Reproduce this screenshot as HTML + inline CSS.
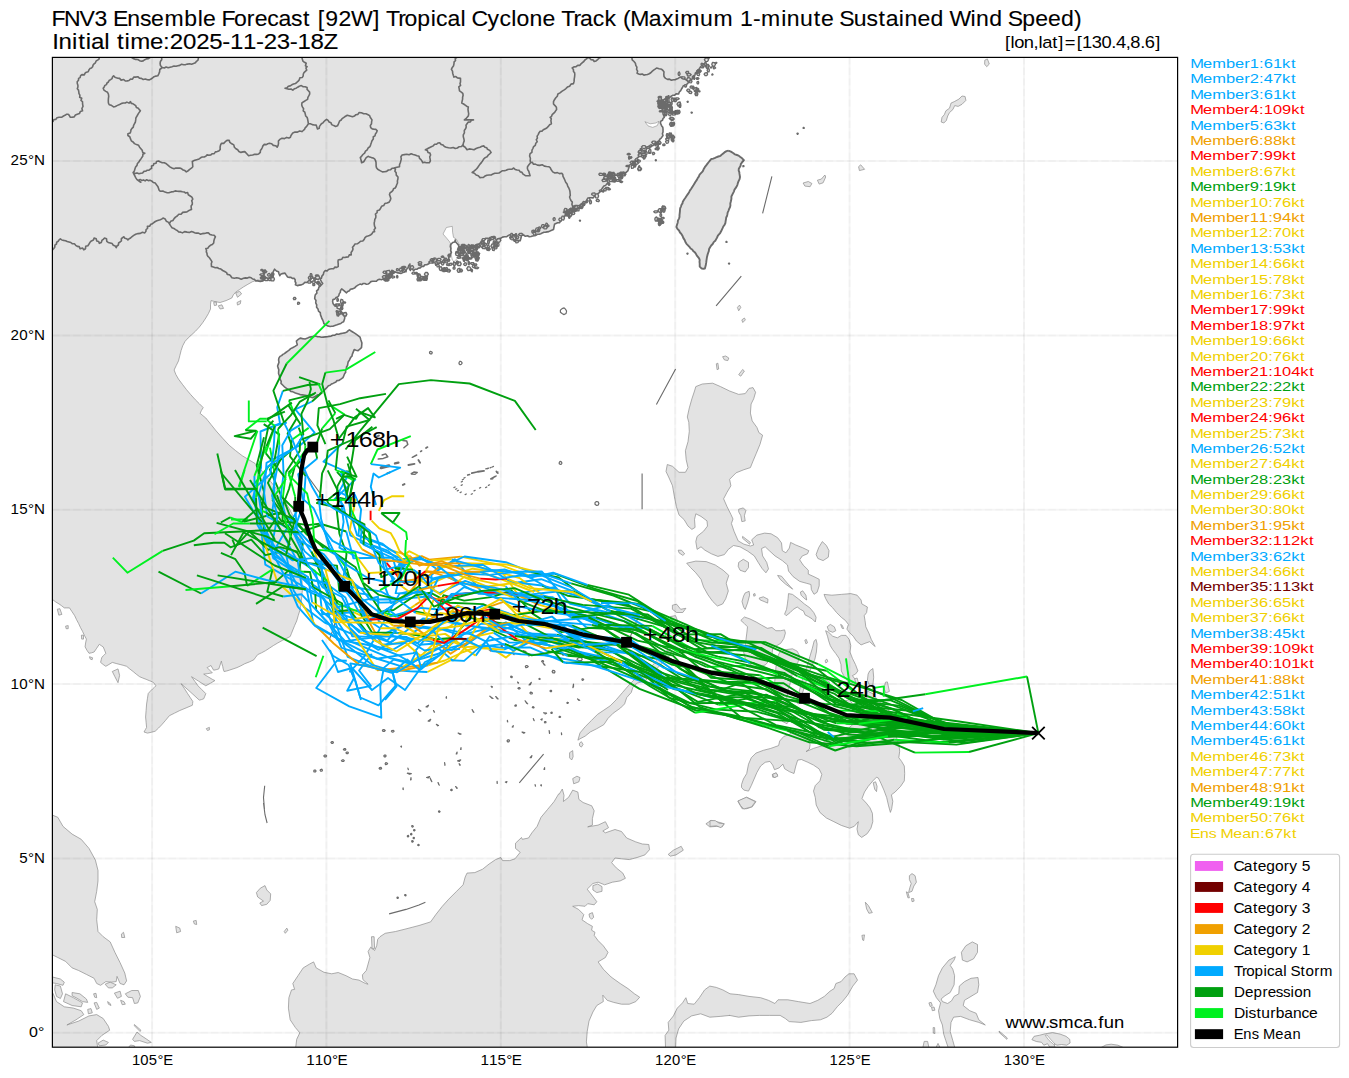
<!DOCTYPE html>
<html><head><meta charset="utf-8"><title>FNV3 Ensemble Forecast</title>
<style>html,body{margin:0;padding:0;background:#fff;}svg{display:block;}text{font-family:"Liberation Sans", sans-serif;}</style></head><body>
<svg width="1349" height="1078" viewBox="0 0 1349 1078">
<rect x="0" y="0" width="1349" height="1078" fill="#fff"/>
<defs><clipPath id="ax"><rect x="53" y="58" width="1124" height="989"/></clipPath></defs>
<g clip-path="url(#ax)">
<path d="M52.0 57.0 L52.0 598.0 L50.0 598.0 L52.6 599.6 L55.7 601.9 L59.1 604.0 L61.7 605.8 L64.3 607.9 L66.9 607.9 L69.5 607.9 L72.1 611.8 L74.7 615.7 L76.5 619.6 L78.6 623.5 L80.4 627.4 L82.5 631.3 L84.3 635.2 L86.4 639.1 L85.6 643.0 L85.1 646.9 L86.9 650.2 L89.0 653.3 L91.5 652.8 L94.1 652.0 L96.7 648.2 L99.3 644.3 L101.2 645.6 L103.2 646.9 L104.5 650.0 L105.8 653.3 L103.8 655.4 L101.9 657.2 L101.2 659.8 L100.6 662.4 L103.2 664.5 L105.8 666.3 L108.9 664.5 L112.3 662.4 L116.2 663.5 L120.1 664.5 L123.2 665.3 L126.6 666.3 L129.7 668.9 L133.1 671.5 L136.2 674.1 L139.6 676.7 L142.7 678.0 L146.1 679.3 L149.2 680.6 L152.6 681.9 L154.4 683.7 L155.9 685.8 L154.4 687.4 L152.6 688.9 L150.2 691.3 L148.2 693.6 L147.4 698.8 L146.6 704.0 L146.1 710.5 L145.6 717.0 L146.1 722.2 L146.6 727.4 L145.3 729.7 L144.0 732.0 L147.4 733.1 L151.3 732.3 L155.2 731.2 L158.5 728.1 L161.7 724.8 L165.6 720.3 L169.4 715.7 L174.6 713.1 L179.8 710.5 L186.1 707.9 L192.3 705.3 L192.6 703.5 L192.8 701.4 L190.2 697.5 L187.6 693.6 L184.5 688.7 L181.1 683.7 L190.2 691.8 L199.3 700.1 L201.4 699.6 L203.7 698.8 L204.8 696.2 L205.8 693.6 L201.9 689.7 L198.0 685.8 L194.9 681.4 L191.5 676.7 L198.5 681.1 L205.8 685.8 L210.5 683.2 L214.9 680.6 L212.3 679.3 L207.9 676.7 L203.7 674.1 L207.9 673.6 L212.3 672.8 L209.7 670.2 L207.1 667.6 L208.9 666.6 L211.0 665.5 L212.3 667.9 L213.6 670.2 L216.2 669.7 L218.8 668.9 L220.1 665.0 L221.4 661.1 L221.9 663.7 L222.7 666.3 L223.2 668.9 L224.0 671.5 L226.6 671.0 L229.2 670.2 L233.1 668.9 L237.0 667.6 L240.9 665.8 L244.8 663.7 L249.4 661.9 L253.8 659.8 L255.7 657.2 L257.7 654.6 L261.6 652.8 L265.5 650.7 L269.4 648.2 L273.3 645.6 L277.7 643.0 L282.4 640.4 L286.3 638.5 L290.2 636.5 L291.5 633.3 L292.8 630.0 L294.6 625.6 L296.7 620.9 L298.2 615.7 L299.8 610.5 L300.6 605.3 L301.4 600.1 L301.9 594.9 L302.4 589.7 L302.1 583.2 L301.9 576.7 L300.8 569.0 L299.8 561.2 L300.3 556.0 L301.4 550.8 L301.1 545.6 L300.6 540.4 L299.8 535.2 L298.0 533.6 L296.7 527.1 L294.9 521.4 L292.8 515.4 L288.9 508.1 L285.0 501.1 L280.6 494.6 L275.9 488.1 L270.7 481.6 L265.5 475.1 L260.3 469.2 L255.1 463.5 L248.6 459.6 L242.2 455.7 L235.7 450.7 L229.2 445.3 L222.7 438.3 L216.2 431.0 L211.0 424.5 L205.8 418.0 L202.9 415.7 L200.1 413.3 L201.4 410.5 L203.2 407.6 L199.3 403.7 L195.4 399.8 L190.7 394.6 L186.3 389.4 L182.4 384.3 L178.5 379.1 L175.9 374.6 L174.1 370.0 L176.2 365.6 L178.5 360.9 L179.8 355.7 L181.1 350.5 L182.7 345.8 L185.0 341.4 L188.1 338.0 L191.5 334.9 L195.4 331.3 L199.3 327.1 L202.7 322.7 L205.8 318.0 L208.4 313.6 L210.5 309.0 L210.5 304.8 L211.0 300.6 L215.4 301.7 L220.1 302.5 L226.1 300.6 L231.8 298.0 L233.3 294.9 L235.7 292.1 L239.6 289.5 L243.5 286.9 L247.9 284.3 L252.5 281.7 L257.7 279.9 L262.9 280.9 L262.9 280.9 L266.8 278.8 L270.7 277.0 L272.8 272.6 L274.6 269.2 L276.4 271.0 L278.5 271.8 L279.8 275.7 L282.4 273.6 L285.0 273.1 L287.6 277.0 L291.0 277.3 L294.1 278.3 L295.4 284.8 L299.3 285.1 L303.2 284.0 L307.1 282.5 L309.7 280.9 L311.0 275.7 L312.8 277.8 L314.9 279.6 L317.5 278.3 L320.1 278.3 L322.7 283.5 L320.6 285.6 L318.8 287.4 L316.6 290.8 L315.3 294.7 L314.7 298.6 L315.7 302.8 L316.6 307.2 L318.5 311.1 L320.5 314.9 L321.8 318.4 L323.4 321.7 L325.3 324.6 L327.6 325.9 L330.1 326.5 L334.9 325.5 L339.2 324.0 L343.6 321.7 L344.6 318.8 L344.9 315.9 L343.0 313.4 L340.7 311.1 L337.2 308.2 L334.9 305.9 L333.0 303.4 L332.6 301.4 L333.0 299.5 L335.9 297.6 L338.8 295.7 L340.3 292.4 L341.7 288.9 L344.2 290.8 L346.5 292.8 L349.4 290.8 L352.3 288.9 L356.1 286.4 L360.0 284.1 L364.8 283.5 L369.6 283.1 L374.4 281.2 L379.3 279.3 L383.9 278.3 L387.8 275.7 L390.9 273.6 L394.3 271.8 L396.9 272.6 L399.5 273.1 L402.9 272.6 L406.0 271.8 L408.0 267.9 L409.9 264.0 L411.7 267.4 L413.8 270.5 L417.1 269.2 L420.2 267.9 L423.6 266.4 L426.7 264.8 L430.1 261.7 L433.2 258.8 L434.5 262.2 L435.8 265.3 L439.2 263.3 L442.3 261.4 L445.7 260.1 L448.8 258.8 L450.1 255.5 L451.4 252.4 L450.9 248.5 L450.6 244.6 L452.7 242.5 L455.3 239.9 L457.1 243.5 L459.2 247.2 L462.6 247.7 L465.7 247.2 L469.6 246.6 L473.5 245.9 L476.9 244.6 L480.0 243.3 L482.1 241.4 L483.9 239.9 L487.8 238.3 L491.7 236.8 L494.3 238.3 L496.9 239.9 L500.7 238.3 L504.6 236.8 L508.0 235.7 L511.1 234.7 L512.4 237.3 L513.7 239.9 L517.1 240.4 L520.2 240.7 L521.0 238.1 L521.5 235.5 L525.4 236.3 L529.3 236.8 L532.7 236.0 L535.8 235.5 L539.2 234.2 L542.3 232.9 L545.7 232.1 L548.8 231.6 L551.1 230.5 L553.5 229.5 L554.0 226.9 L554.5 224.3 L557.6 222.7 L560.5 221.2 L563.1 218.1 L565.7 214.7 L567.5 212.1 L569.0 209.5 L571.4 208.7 L573.5 208.2 L575.5 206.9 L577.4 205.6 L580.7 204.6 L583.8 203.5 L585.9 201.2 L587.7 199.1 L591.1 197.8 L594.2 196.5 L596.8 194.4 L599.4 192.6 L601.2 190.0 L602.8 187.4 L605.7 185.4 L608.5 183.5 L607.2 181.2 L605.9 179.1 L609.8 177.3 L613.7 175.7 L617.6 175.7 L621.5 175.7 L624.9 173.2 L628.0 170.6 L628.8 168.0 L629.3 165.4 L632.7 163.3 L635.8 161.5 L637.1 158.1 L638.4 155.0 L641.8 153.7 L644.9 152.4 L646.2 149.8 L647.5 147.2 L650.8 145.9 L654.0 144.6 L656.6 142.5 L659.1 140.7 L661.2 138.1 L663.0 135.5 L663.0 132.1 L663.0 129.0 L661.7 125.9 L660.4 123.0 L662.5 120.2 L664.3 117.3 L663.0 113.9 L661.7 110.8 L663.8 108.2 L665.6 105.6 L664.3 103.0 L663.0 100.4 L666.9 98.4 L670.8 96.5 L674.7 95.2 L678.6 94.0 L680.7 90.6 L682.5 87.5 L685.1 85.4 L687.7 83.6 L690.3 81.0 L692.9 78.4 L695.0 75.0 L696.8 71.9 L698.9 69.3 L700.7 66.7 L703.3 64.1 L705.9 61.5 L708.0 59.4 L709.8 57.1 L709.8 57.0Z" fill="#e3e3e3" stroke="none"/>
<path d="M278.6 360.2 L280.0 356.4 L282.9 354.4 L285.8 352.5 L289.1 350.2 L292.5 347.7 L295.0 346.4 L297.3 344.8 L296.8 342.9 L296.4 341.0 L298.3 339.4 L300.2 338.1 L302.5 338.6 L305.1 339.0 L307.6 338.1 L309.9 337.1 L312.8 336.5 L315.7 336.1 L319.5 336.7 L323.4 337.1 L327.2 336.7 L331.1 336.1 L334.9 335.2 L338.8 334.2 L342.6 333.2 L346.5 332.3 L348.0 330.9 L349.4 329.8 L350.7 330.7 L352.3 331.7 L354.2 332.9 L356.1 334.2 L358.1 335.6 L360.0 337.1 L360.9 340.0 L361.9 342.9 L361.7 345.4 L361.5 347.7 L359.8 349.2 L358.1 350.6 L356.1 350.2 L354.2 349.6 L353.2 352.1 L352.3 354.4 L350.7 357.3 L349.4 360.2 L347.8 363.7 L346.5 367.0 L345.5 370.4 L344.6 373.7 L343.8 375.7 L343.0 377.6 L340.9 379.1 L338.8 380.5 L335.9 382.0 L333.0 383.4 L330.1 385.3 L327.2 387.2 L325.3 389.1 L323.4 391.1 L320.5 393.0 L317.6 394.9 L315.1 396.5 L312.8 397.8 L310.3 396.9 L307.9 395.9 L305.1 395.3 L302.2 394.9 L298.7 394.0 L295.4 393.0 L292.5 391.6 L289.6 390.1 L287.1 388.8 L284.8 387.2 L282.9 385.3 L281.0 383.4 L280.2 379.5 L279.4 375.7 L278.6 371.8 L278.1 367.9 L278.3 364.1Z" fill="#e3e3e3" stroke="none"/>
<path d="M728.3 150.6 L730.9 151.6 L733.5 153.2 L736.9 155.0 L740.0 156.8 L742.1 158.3 L743.9 160.2 L742.3 162.0 L740.8 164.1 L739.7 167.2 L738.7 170.6 L739.5 173.9 L740.0 177.0 L738.7 180.9 L737.4 184.8 L735.6 188.2 L734.0 191.3 L732.7 193.9 L731.4 196.5 L730.9 201.2 L730.4 205.6 L728.5 210.8 L727.0 216.0 L725.7 220.7 L724.4 225.1 L721.8 229.8 L719.2 234.2 L717.1 237.5 L715.3 240.7 L712.7 244.0 L710.1 247.2 L708.8 251.1 L707.5 254.9 L706.7 258.8 L706.2 262.7 L705.7 265.6 L704.9 268.5 L703.4 268.7 L701.8 268.5 L700.8 267.7 L699.7 266.6 L699.7 263.5 L699.7 260.1 L697.9 256.8 L695.8 253.6 L693.2 251.1 L690.6 248.5 L688.0 245.3 L685.4 242.0 L683.4 238.1 L681.5 234.2 L679.0 230.5 L676.4 226.9 L677.7 222.7 L679.0 218.6 L679.7 213.4 L680.2 208.2 L681.5 204.8 L682.8 201.7 L685.4 197.8 L688.0 193.9 L691.2 188.7 L694.5 183.5 L697.6 178.3 L701.0 173.2 L703.6 169.3 L706.2 165.4 L708.8 162.0 L711.4 158.9 L716.1 157.3 L720.5 155.8 L722.6 153.9 L724.4 152.4 L726.5 151.1Z" fill="#e3e3e3" stroke="none"/>
<path d="M695.8 386.6 L702.3 384.0 L712.7 383.2 L720.5 386.6 L729.6 391.0 L738.7 394.4 L745.2 393.6 L749.1 388.4 L753.0 387.6 L755.6 392.3 L753.7 398.8 L751.1 404.0 L750.4 413.1 L752.2 420.9 L756.9 427.4 L758.9 432.6 L762.6 435.2 L760.0 444.3 L756.3 453.3 L753.0 461.1 L750.4 467.6 L743.9 469.7 L736.1 472.8 L729.6 479.3 L730.9 485.8 L727.0 492.3 L723.6 498.8 L727.0 506.6 L730.9 514.4 L733.0 519.0 L731.4 523.5 L734.0 531.2 L738.2 540.9 L743.9 544.2 L750.4 546.0 L753.7 545.0 L751.7 539.8 L756.9 535.1 L764.6 533.1 L771.1 533.8 L777.6 537.7 L781.5 542.9 L782.3 550.7 L785.9 552.8 L789.3 548.1 L790.6 542.4 L795.8 545.0 L802.3 547.6 L808.8 550.7 L807.5 553.8 L802.3 555.9 L799.7 559.8 L803.1 565.0 L808.3 570.2 L808.3 574.1 L814.0 576.7 L819.2 579.3 L819.2 585.8 L817.1 592.3 L814.0 594.3 L811.4 589.7 L810.9 584.5 L806.2 583.2 L799.7 581.4 L793.2 576.7 L788.5 571.0 L787.5 565.0 L782.3 560.6 L775.0 555.9 L769.3 550.7 L765.2 546.8 L761.5 548.6 L762.6 555.9 L766.7 562.4 L768.5 568.9 L765.9 572.8 L762.0 568.4 L758.2 562.4 L754.3 555.9 L747.8 551.2 L740.0 546.8 L733.5 545.5 L728.3 549.4 L724.4 554.6 L717.9 556.4 L711.4 553.8 L704.9 550.2 L701.0 546.8 L697.1 549.4 L695.8 541.6 L697.1 536.4 L703.6 531.2 L707.5 526.1 L707.0 520.9 L701.0 516.4 L695.8 513.8 L694.5 519.6 L695.1 527.4 L691.9 529.4 L688.0 526.1 L684.1 519.6 L679.0 514.9 L676.4 506.6 L674.3 496.2 L672.5 485.8 L669.1 478.0 L666.0 471.5 L667.3 464.5 L672.5 466.3 L679.0 472.3 L685.4 472.3 L688.0 467.6 L686.2 459.8 L685.4 450.7 L688.0 441.7 L689.3 431.3 L688.8 422.2 L687.3 417.0 L689.3 407.9 L691.9 398.8 L694.5 391.0Z" fill="#e3e3e3" stroke="#8c8c8c" stroke-width="0.7" stroke-linejoin="round"/>
<path d="M722.6 356.7 L725.7 356.0 L728.8 358.0 L727.8 360.6 L724.4 359.9Z" fill="#e3e3e3" stroke="#8c8c8c" stroke-width="0.7" stroke-linejoin="round"/>
<path d="M716.3 363.8 L717.9 363.2 L718.7 369.0 L717.1 369.7Z" fill="#e3e3e3" stroke="#8c8c8c" stroke-width="0.7" stroke-linejoin="round"/>
<path d="M738.7 374.7 L742.6 369.5 L744.4 371.0 L740.8 376.2Z" fill="#e3e3e3" stroke="#8c8c8c" stroke-width="0.7" stroke-linejoin="round"/>
<path d="M738.7 509.2 L743.3 507.9 L745.9 510.5 L744.4 515.7 L745.2 520.9 L741.8 521.6 L740.8 515.7 L738.7 511.8Z" fill="#e3e3e3" stroke="#8c8c8c" stroke-width="0.7" stroke-linejoin="round"/>
<path d="M742.6 536.4 L750.4 542.4 L749.6 544.2 L742.6 538.3Z" fill="#e3e3e3" stroke="#8c8c8c" stroke-width="0.7" stroke-linejoin="round"/>
<path d="M818.7 547.6 L822.3 541.6 L826.4 545.5 L829.0 550.7 L828.3 557.2 L823.1 560.6 L817.9 558.5 L816.1 554.6Z" fill="#e3e3e3" stroke="#8c8c8c" stroke-width="0.7" stroke-linejoin="round"/>
<path d="M686.7 563.2 L695.8 561.1 L706.2 561.6 L715.3 565.0 L723.1 570.2 L728.8 575.4 L726.2 583.2 L728.3 591.0 L725.7 598.8 L722.6 604.0 L717.4 606.0 L712.7 601.4 L708.0 594.9 L703.6 587.1 L701.0 579.3 L695.8 572.8 L690.6 567.6Z" fill="#e3e3e3" stroke="#8c8c8c" stroke-width="0.7" stroke-linejoin="round"/>
<path d="M678.2 550.2 L681.5 550.2 L684.7 553.8 L682.8 555.4 L679.0 552.8Z" fill="#e3e3e3" stroke="#8c8c8c" stroke-width="0.7" stroke-linejoin="round"/>
<path d="M738.7 562.4 L743.3 559.3 L748.5 562.4 L748.5 567.6 L745.2 572.0 L740.0 570.2 L738.2 566.3Z" fill="#e3e3e3" stroke="#8c8c8c" stroke-width="0.7" stroke-linejoin="round"/>
<path d="M777.6 575.4 L781.5 576.2 L788.0 584.0 L792.7 589.2 L785.4 584.0 L780.2 579.3Z" fill="#e3e3e3" stroke="#8c8c8c" stroke-width="0.7" stroke-linejoin="round"/>
<path d="M745.2 592.9 L749.1 591.3 L749.6 595.2 L747.5 603.1 L745.2 609.4 L743.6 607.0 L742.0 601.5 L743.6 596.0Z" fill="#e3e3e3" stroke="#8c8c8c" stroke-width="0.7" stroke-linejoin="round"/>
<path d="M753.5 594.0 L755.0 593.6 L755.3 595.7 L753.8 596.2Z" fill="#e3e3e3" stroke="#8c8c8c" stroke-width="0.7" stroke-linejoin="round"/>
<path d="M759.1 598.1 L763.3 596.8 L768.0 599.2 L767.6 603.1 L764.1 601.5 L760.2 600.0Z" fill="#e3e3e3" stroke="#8c8c8c" stroke-width="0.7" stroke-linejoin="round"/>
<path d="M788.5 593.6 L792.5 594.4 L798.8 599.2 L804.3 603.9 L809.8 607.8 L813.8 612.6 L816.1 617.3 L815.3 622.0 L812.2 618.9 L808.2 616.5 L805.1 614.9 L803.5 611.0 L800.4 609.4 L797.2 607.0 L793.3 609.4 L790.1 612.6 L786.2 615.7 L784.6 614.1 L786.5 609.4 L787.4 603.9 L788.1 598.4Z" fill="#e3e3e3" stroke="#8c8c8c" stroke-width="0.7" stroke-linejoin="round"/>
<path d="M800.4 592.1 L802.7 590.8 L805.9 595.2 L806.7 600.0 L804.3 598.4 L801.1 595.2Z" fill="#e3e3e3" stroke="#8c8c8c" stroke-width="0.7" stroke-linejoin="round"/>
<path d="M824.0 594.4 L831.9 595.2 L841.3 594.4 L850.8 593.6 L857.1 595.2 L861.1 600.0 L861.8 603.9 L867.4 607.0 L866.6 612.6 L864.2 615.7 L865.0 620.4 L865.8 626.8 L868.9 633.1 L871.3 639.4 L875.2 646.5 L873.7 645.4 L869.7 641.7 L865.0 643.3 L861.1 644.9 L856.3 640.9 L853.2 636.2 L849.2 632.3 L846.9 629.1 L848.4 624.4 L845.3 620.4 L841.3 617.3 L836.6 612.6 L832.7 607.8 L828.7 603.9 L825.6 598.4Z" fill="#e3e3e3" stroke="#8c8c8c" stroke-width="0.7" stroke-linejoin="round"/>
<path d="M827.2 626.8 L830.3 624.4 L834.3 626.8 L835.8 630.7 L832.7 632.3 L828.7 630.7Z" fill="#e3e3e3" stroke="#8c8c8c" stroke-width="0.7" stroke-linejoin="round"/>
<path d="M840.6 624.4 L842.1 625.2 L843.7 628.6 L842.1 628.3Z" fill="#e3e3e3" stroke="#8c8c8c" stroke-width="0.7" stroke-linejoin="round"/>
<path d="M825.6 630.7 L828.7 632.3 L832.7 636.2 L837.4 637.8 L841.3 635.4 L846.1 635.4 L849.2 639.4 L850.8 645.7 L850.0 652.0 L852.4 658.3 L855.5 664.6 L857.9 670.9 L855.5 674.1 L852.4 675.6 L854.7 678.8 L857.1 680.4 L854.0 682.7 L849.2 683.5 L846.1 678.8 L843.7 675.6 L841.3 670.9 L841.0 664.6 L839.0 658.3 L835.8 653.6 L832.7 649.6 L830.3 645.7 L828.7 640.9 L827.5 636.2Z" fill="#e3e3e3" stroke="#8c8c8c" stroke-width="0.7" stroke-linejoin="round"/>
<path d="M740.8 620.4 L744.4 617.0 L749.9 618.9 L756.2 622.0 L761.7 625.2 L767.3 628.3 L772.0 627.5 L775.9 630.7 L780.7 630.7 L784.6 629.9 L785.4 633.1 L783.8 638.6 L780.7 643.3 L776.7 645.7 L772.8 648.0 L772.0 653.6 L769.6 659.9 L765.7 664.6 L759.4 667.7 L753.1 666.2 L748.3 663.0 L745.2 658.3 L743.6 652.0 L745.2 645.7 L746.0 639.4 L746.8 633.1 L747.5 626.8 L744.4 623.6Z" fill="#e3e3e3" stroke="#8c8c8c" stroke-width="0.7" stroke-linejoin="round"/>
<path d="M779.9 652.0 L786.2 649.6 L792.5 648.8 L797.2 651.2 L799.6 655.9 L798.0 662.2 L794.8 667.7 L792.5 672.5 L790.9 680.4 L788.5 689.8 L786.5 699.3 L786.2 707.2 L788.5 713.5 L789.6 719.8 L787.0 723.7 L782.2 721.3 L778.3 714.3 L776.4 705.6 L775.1 696.1 L774.3 686.7 L775.1 677.2 L775.9 667.7 L776.7 658.3Z" fill="#e3e3e3" stroke="#8c8c8c" stroke-width="0.7" stroke-linejoin="round"/>
<path d="M814.2 640.9 L816.1 639.4 L817.1 644.1 L816.4 652.0 L814.9 659.1 L811.7 666.2 L808.6 674.1 L805.9 681.9 L803.5 689.8 L801.1 697.7 L798.8 704.0 L797.2 703.2 L798.0 696.1 L800.0 688.2 L802.2 680.4 L804.8 672.5 L807.5 664.6 L809.8 656.7 L812.2 648.8Z" fill="#e3e3e3" stroke="#8c8c8c" stroke-width="0.7" stroke-linejoin="round"/>
<path d="M804.8 640.2 L806.3 639.4 L807.5 642.8 L805.9 643.8Z" fill="#e3e3e3" stroke="#8c8c8c" stroke-width="0.7" stroke-linejoin="round"/>
<path d="M825.0 660.7 L826.8 659.1 L827.9 661.4 L825.9 663.0Z" fill="#e3e3e3" stroke="#8c8c8c" stroke-width="0.7" stroke-linejoin="round"/>
<path d="M809.8 680.4 L816.1 678.0 L824.0 678.8 L829.5 681.9 L828.7 687.5 L823.2 690.6 L816.1 690.6 L810.6 687.5Z" fill="#e3e3e3" stroke="#8c8c8c" stroke-width="0.7" stroke-linejoin="round"/>
<path d="M869.7 670.9 L872.9 668.5 L873.7 677.2 L872.9 685.1 L869.7 685.9 L867.4 680.4 L868.1 674.1Z" fill="#e3e3e3" stroke="#8c8c8c" stroke-width="0.7" stroke-linejoin="round"/>
<path d="M885.5 682.2 L887.4 681.9 L889.4 691.4 L885.8 693.0 L883.9 688.2Z" fill="#e3e3e3" stroke="#8c8c8c" stroke-width="0.7" stroke-linejoin="round"/>
<path d="M854.7 678.8 L857.1 678.0 L858.4 682.7 L855.9 683.5Z" fill="#e3e3e3" stroke="#8c8c8c" stroke-width="0.7" stroke-linejoin="round"/>
<path d="M741.5 784.6 L743.4 779.0 L746.7 773.5 L748.5 764.2 L751.3 757.7 L756.0 753.1 L763.4 750.3 L770.8 748.4 L778.6 745.6 L779.7 741.0 L783.8 736.4 L789.3 734.5 L794.0 729.9 L799.5 730.8 L805.1 733.6 L808.8 738.6 L810.1 744.7 L809.4 749.0 L806.0 751.6 L813.5 748.4 L822.7 745.6 L824.6 740.1 L827.4 735.4 L838.5 735.4 L846.8 729.9 L854.1 723.4 L859.8 725.2 L868.0 717.8 L866.3 704.8 L867.1 690.9 L872.8 693.7 L878.4 701.1 L888.0 708.2 L893.2 723.4 L896.0 736.4 L898.8 743.8 L899.7 751.2 L898.8 757.7 L901.6 761.4 L904.3 766.0 L904.7 773.5 L904.3 780.9 L900.6 786.4 L895.1 792.0 L891.4 794.8 L892.8 801.3 L891.7 808.7 L890.4 812.4 L888.6 805.9 L886.7 797.6 L883.9 790.1 L881.1 783.7 L878.4 778.1 L876.5 777.2 L872.8 780.9 L868.2 786.4 L864.5 792.0 L862.0 798.5 L866.3 803.1 L870.0 807.8 L872.4 813.3 L872.8 821.7 L870.9 828.2 L867.2 833.7 L861.7 837.4 L858.3 834.7 L857.0 829.1 L858.3 821.7 L854.3 826.3 L849.6 828.2 L841.3 825.4 L833.9 821.7 L826.4 818.0 L819.9 812.4 L816.2 805.0 L815.3 797.6 L813.5 791.1 L815.3 785.5 L819.9 780.9 L821.8 774.4 L819.0 768.8 L813.5 765.1 L807.9 762.3 L801.4 759.5 L797.7 760.1 L795.8 766.0 L794.0 773.5 L789.3 771.6 L784.7 768.8 L782.9 764.2 L779.1 767.9 L774.5 769.7 L772.7 765.1 L769.9 761.4 L765.2 762.3 L760.6 766.0 L756.9 772.5 L754.1 779.0 L751.3 785.5 L748.5 791.1 L743.9 790.1 L741.5 787.4Z" fill="#e3e3e3" stroke="#8c8c8c" stroke-width="0.7" stroke-linejoin="round"/>
<path d="M772.3 774.4 L775.4 773.1 L777.8 774.9 L775.4 777.2 L772.7 777.2Z" fill="#e3e3e3" stroke="#8c8c8c" stroke-width="0.7" stroke-linejoin="round"/>
<path d="M873.2 782.7 L875.6 781.8 L877.1 786.4 L876.5 791.6 L874.7 789.2Z" fill="#e3e3e3" stroke="#8c8c8c" stroke-width="0.7" stroke-linejoin="round"/>
<path d="M737.8 801.3 L746.7 797.2 L756.0 801.6 L752.3 806.8 L746.7 808.7 L742.1 808.7Z" fill="#e3e3e3" stroke="#8c8c8c" stroke-width="0.7" stroke-linejoin="round"/>
<path d="M845.0 701.1 L849.6 699.3 L852.4 703.9 L848.7 707.6 L845.0 705.8Z" fill="#e3e3e3" stroke="#8c8c8c" stroke-width="0.7" stroke-linejoin="round"/>
<path d="M577.9 740.2 L580.0 732.9 L585.2 726.7 L591.4 720.5 L597.6 714.3 L603.9 710.1 L610.1 705.9 L616.3 699.7 L622.6 692.4 L628.8 685.2 L635.0 678.9 L643.3 672.7 L651.6 666.5 L657.9 659.2 L664.1 653.0 L669.3 648.8 L672.4 650.9 L668.3 657.1 L662.0 663.4 L654.8 670.6 L649.6 675.8 L645.4 681.0 L637.1 683.1 L632.9 687.2 L631.3 692.4 L626.7 697.6 L624.6 703.9 L620.5 708.0 L613.2 713.2 L608.0 718.4 L603.9 724.6 L596.6 728.8 L590.4 731.9 L585.2 736.1 L580.0 738.8Z" fill="#e3e3e3" stroke="#8c8c8c" stroke-width="0.7" stroke-linejoin="round"/>
<path d="M579.4 743.3 L581.4 741.7 L583.1 744.4 L581.4 747.1 L579.6 745.8Z" fill="#e3e3e3" stroke="#8c8c8c" stroke-width="0.7" stroke-linejoin="round"/>
<path d="M569.6 752.7 L572.7 750.6 L573.1 756.8 L571.7 760.0 L569.6 757.9Z" fill="#e3e3e3" stroke="#8c8c8c" stroke-width="0.7" stroke-linejoin="round"/>
<path d="M572.7 778.6 L576.9 776.2 L580.0 777.6 L578.9 781.8 L573.7 783.8Z" fill="#e3e3e3" stroke="#8c8c8c" stroke-width="0.7" stroke-linejoin="round"/>
<path d="M672.4 605.2 L676.6 604.2 L680.7 609.3 L685.9 608.3 L682.8 612.5 L676.6 612.5 L672.4 609.3Z" fill="#e3e3e3" stroke="#8c8c8c" stroke-width="0.7" stroke-linejoin="round"/>
<path d="M670.3 616.6 L675.5 615.6 L677.6 620.8 L674.5 623.9 L672.0 620.8Z" fill="#e3e3e3" stroke="#8c8c8c" stroke-width="0.7" stroke-linejoin="round"/>
<path d="M664.1 631.2 L672.4 629.1 L678.6 634.3 L673.5 639.5 L666.2 637.4Z" fill="#e3e3e3" stroke="#8c8c8c" stroke-width="0.7" stroke-linejoin="round"/>
<path d="M772.5 774.5 L776.3 772.8 L777.9 776.2 L774.2 777.6Z" fill="#e3e3e3" stroke="#8c8c8c" stroke-width="0.7" stroke-linejoin="round"/>
<path d="M668.2 854.4 L673.4 850.2 L681.2 846.3 L683.3 850.2 L676.0 854.9 L670.3 856.2Z" fill="#e3e3e3" stroke="#8c8c8c" stroke-width="0.7" stroke-linejoin="round"/>
<path d="M705.9 823.8 L711.1 820.4 L716.3 821.7 L720.2 822.5 L724.1 823.8 L722.2 826.9 L716.3 826.4 L709.8 826.9Z" fill="#e3e3e3" stroke="#8c8c8c" stroke-width="0.7" stroke-linejoin="round"/>
<path d="M738.0 800.9 L746.4 797.3 L755.4 801.7 L751.5 806.9 L743.8 809.0 L740.6 805.6Z" fill="#e3e3e3" stroke="#8c8c8c" stroke-width="0.7" stroke-linejoin="round"/>
<path d="M710.0 820.6 L715.2 820.6 L719.1 823.2 L724.3 823.8 L720.9 827.7 L716.5 825.8 L710.0 826.4Z" fill="#e3e3e3" stroke="#8c8c8c" stroke-width="0.7" stroke-linejoin="round"/>
<path d="M909.4 875.7 L912.0 873.6 L915.1 875.7 L916.4 882.2 L913.8 886.1 L912.0 891.3 L908.6 892.6 L909.9 887.4 L911.2 883.5 L909.4 879.6Z" fill="#e3e3e3" stroke="#8c8c8c" stroke-width="0.7" stroke-linejoin="round"/>
<path d="M911.5 898.5 L913.6 898.5 L914.1 901.1 L912.0 901.7Z" fill="#e3e3e3" stroke="#8c8c8c" stroke-width="0.7" stroke-linejoin="round"/>
<path d="M906.3 891.8 L907.9 892.6 L909.4 897.8 L907.9 897.8Z" fill="#e3e3e3" stroke="#8c8c8c" stroke-width="0.7" stroke-linejoin="round"/>
<path d="M865.3 902.2 L868.4 905.6 L872.3 912.6 L868.9 913.3 L866.6 908.9Z" fill="#e3e3e3" stroke="#8c8c8c" stroke-width="0.7" stroke-linejoin="round"/>
<path d="M861.9 935.4 L864.5 934.9 L863.7 940.6 L862.7 940.1Z" fill="#e3e3e3" stroke="#8c8c8c" stroke-width="0.7" stroke-linejoin="round"/>
<path d="M961.4 952.3 L965.8 945.8 L972.3 941.9 L977.5 944.5 L977.5 952.3 L973.6 958.8 L967.1 961.9 L962.4 960.1Z" fill="#e3e3e3" stroke="#8c8c8c" stroke-width="0.7" stroke-linejoin="round"/>
<path d="M955.4 956.7 L948.9 960.1 L942.4 967.9 L938.5 975.7 L935.9 984.8 L933.3 991.2 L936.4 997.7 L940.6 1002.9 L938.5 1010.7 L939.8 1018.5 L942.4 1025.0 L943.7 1034.1 L945.8 1040.6 L948.9 1049.7 L955.4 1049.7 L952.8 1040.6 L950.2 1031.5 L951.0 1022.4 L953.6 1017.2 L960.6 1016.4 L969.7 1019.8 L978.8 1022.4 L985.3 1025.0 L978.8 1019.8 L976.2 1013.3 L969.7 1010.7 L963.2 1005.5 L964.5 1000.3 L971.0 996.4 L977.5 992.5 L978.8 984.8 L978.0 977.5 L971.0 978.3 L964.5 981.6 L959.3 986.1 L958.8 993.8 L954.1 996.4 L951.5 1000.9 L947.6 1003.5 L942.4 1001.6 L941.1 999.0 L945.0 995.7 L950.2 992.5 L954.1 984.8 L954.6 975.7 L952.8 969.2 L950.2 965.3 L954.1 960.1Z" fill="#e3e3e3" stroke="#8c8c8c" stroke-width="0.7" stroke-linejoin="round"/>
<path d="M928.9 1002.9 L931.2 1002.4 L932.3 1005.5 L930.2 1006.6Z" fill="#e3e3e3" stroke="#8c8c8c" stroke-width="0.7" stroke-linejoin="round"/>
<path d="M931.5 1007.1 L934.1 1007.1 L934.9 1010.2 L932.3 1010.7Z" fill="#e3e3e3" stroke="#8c8c8c" stroke-width="0.7" stroke-linejoin="round"/>
<path d="M933.1 1027.6 L934.6 1027.6 L934.9 1033.6 L933.3 1033.1Z" fill="#e3e3e3" stroke="#8c8c8c" stroke-width="0.7" stroke-linejoin="round"/>
<path d="M922.4 1049.7 L924.2 1041.4 L927.6 1041.4 L929.4 1049.7Z" fill="#e3e3e3" stroke="#8c8c8c" stroke-width="0.7" stroke-linejoin="round"/>
<path d="M934.9 1049.7 L938.0 1043.4 L941.1 1049.7Z" fill="#e3e3e3" stroke="#8c8c8c" stroke-width="0.7" stroke-linejoin="round"/>
<path d="M999.0 1031.0 L1007.3 1038.0 L1006.8 1039.3 L999.5 1032.8Z" fill="#e3e3e3" stroke="#8c8c8c" stroke-width="0.7" stroke-linejoin="round"/>
<path d="M1031.9 1039.7 L1034.1 1036.3 L1039.3 1035.3 L1045.2 1033.8 L1052.6 1032.6 L1060.1 1034.1 L1066.0 1036.3 L1069.7 1039.3 L1070.1 1043.0 L1066.7 1045.2 L1061.5 1044.5 L1057.1 1045.2 L1054.1 1043.7 L1054.9 1047.1 L1049.7 1047.1 L1047.5 1043.7 L1043.8 1045.2 L1041.5 1042.3 L1036.3 1041.5Z" fill="#e3e3e3" stroke="#8c8c8c" stroke-width="0.7" stroke-linejoin="round"/>
<path d="M1100.8 1047.7 L1106.0 1044.9 L1111.2 1044.2 L1117.9 1045.2 L1123.8 1047.7Z" fill="#e3e3e3" stroke="#8c8c8c" stroke-width="0.7" stroke-linejoin="round"/>
<path d="M665.6 1049.7 L665.1 1035.4 L668.8 1030.2 L668.2 1022.4 L673.4 1015.9 L677.3 1008.1 L682.5 1002.9 L685.9 997.7 L687.7 1003.5 L694.2 1004.2 L699.4 997.7 L704.6 989.9 L709.8 986.1 L716.3 987.4 L722.8 989.9 L730.0 993.8 L738.6 994.6 L749.0 996.4 L760.6 997.7 L768.4 1000.3 L774.9 1003.5 L778.0 999.8 L787.9 999.8 L798.3 1001.6 L810.0 1003.5 L817.8 1000.3 L824.3 996.4 L830.0 991.2 L834.1 988.6 L835.9 983.5 L841.1 981.6 L845.0 977.0 L848.9 973.8 L854.1 973.8 L857.5 980.1 L852.8 986.1 L847.6 995.1 L842.4 1001.6 L837.2 1006.8 L832.0 1013.3 L826.9 1017.2 L820.4 1019.8 L811.3 1020.6 L800.9 1022.4 L789.2 1021.6 L785.3 1018.5 L780.1 1015.4 L769.7 1015.4 L759.3 1015.4 L749.0 1015.9 L738.6 1017.2 L729.5 1015.4 L730.0 1015.4 L720.2 1016.4 L709.8 1017.2 L700.7 1013.8 L691.6 1015.9 L683.8 1021.1 L678.6 1028.9 L676.0 1038.0 L675.5 1049.7Z" fill="#e3e3e3" stroke="#8c8c8c" stroke-width="0.7" stroke-linejoin="round"/>
<path d="M941.2 122.0 L942.0 117.3 L944.3 114.7 L945.9 110.8 L949.5 108.2 L951.1 103.0 L954.2 101.7 L958.9 99.1 L962.0 96.0 L965.1 96.5 L965.9 100.4 L962.0 104.3 L958.1 106.4 L954.7 105.6 L952.9 109.5 L949.5 112.6 L947.7 116.0 L946.4 120.4 L943.8 123.0Z" fill="#e3e3e3" stroke="#8c8c8c" stroke-width="0.7" stroke-linejoin="round"/>
<path d="M984.8 60.2 L987.4 58.9 L989.3 64.1 L986.7 66.7 L984.6 64.1Z" fill="#e3e3e3" stroke="#8c8c8c" stroke-width="0.7" stroke-linejoin="round"/>
<path d="M803.1 183.0 L808.3 181.5 L811.9 183.5 L810.1 186.7 L804.9 186.1Z" fill="#e3e3e3" stroke="#8c8c8c" stroke-width="0.7" stroke-linejoin="round"/>
<path d="M817.4 180.2 L821.3 179.1 L824.9 175.0 L825.7 177.0 L823.1 182.8 L819.2 184.1Z" fill="#e3e3e3" stroke="#8c8c8c" stroke-width="0.7" stroke-linejoin="round"/>
<path d="M858.6 166.7 L860.7 164.8 L864.6 169.3 L859.4 170.6Z" fill="#e3e3e3" stroke="#8c8c8c" stroke-width="0.7" stroke-linejoin="round"/>
<path d="M737.4 307.4 L739.5 305.1 L740.8 307.4 L738.7 310.8Z" fill="#e3e3e3" stroke="#8c8c8c" stroke-width="0.7" stroke-linejoin="round"/>
<path d="M741.8 319.9 L744.4 318.0 L745.4 319.9 L742.8 322.5Z" fill="#e3e3e3" stroke="#8c8c8c" stroke-width="0.7" stroke-linejoin="round"/>
<path d="M295.4 1049.7 L296.7 1039.3 L299.8 1032.8 L295.4 1027.6 L290.2 1019.8 L288.4 1008.1 L288.9 997.7 L291.5 989.9 L294.6 989.4 L292.8 983.5 L298.0 975.7 L303.2 967.9 L309.7 964.0 L313.6 961.9 L316.2 967.9 L324.0 972.3 L331.7 973.8 L338.2 972.5 L346.0 975.7 L352.5 979.0 L359.0 980.1 L365.5 983.5 L368.1 984.2 L362.9 979.6 L362.4 974.9 L366.3 970.5 L368.1 964.0 L369.9 957.5 L368.1 951.5 L370.7 947.1 L374.6 950.5 L376.7 945.8 L377.7 939.3 L380.0 936.7 L385.2 933.3 L395.6 931.5 L406.0 928.9 L419.0 925.5 L430.6 921.9 L435.8 914.6 L442.3 906.3 L448.8 899.1 L456.6 891.3 L463.1 884.8 L465.2 877.0 L467.0 873.1 L474.8 872.6 L482.6 869.2 L489.1 864.0 L495.6 859.6 L500.7 857.5 L502.6 860.6 L509.8 860.6 L515.0 858.8 L520.2 852.3 L515.5 848.4 L515.5 843.2 L521.5 837.5 L522.3 839.3 L528.5 838.0 L531.9 832.8 L537.1 826.4 L541.0 817.3 L547.5 809.5 L554.0 801.7 L558.7 793.9 L559.2 794.2 L562.3 789.0 L564.0 795.3 L563.4 801.5 L568.6 797.3 L572.7 790.1 L577.9 792.1 L578.9 799.4 L583.1 802.5 L591.4 805.7 L591.6 805.6 L594.2 810.8 L592.4 818.6 L592.4 825.1 L587.7 826.9 L598.1 825.1 L605.4 821.7 L608.5 827.7 L602.8 831.0 L605.4 832.8 L615.0 829.5 L621.5 831.5 L626.7 838.0 L635.8 841.9 L642.3 844.0 L648.8 844.5 L649.5 849.7 L644.9 854.9 L637.1 857.5 L629.3 859.6 L621.5 858.8 L615.0 858.0 L611.6 862.7 L616.3 867.9 L622.8 873.1 L625.4 878.3 L620.2 880.9 L612.4 882.2 L604.6 884.8 L598.1 882.2 L592.9 883.5 L587.2 889.2 L590.9 893.9 L596.8 901.7 L594.2 904.8 L587.7 903.7 L585.1 906.3 L578.6 905.6 L572.7 906.3 L578.6 909.4 L583.8 914.6 L582.0 919.8 L587.7 923.7 L592.4 926.3 L591.6 930.2 L595.0 932.3 L594.2 935.4 L598.1 940.6 L603.3 945.8 L608.0 952.3 L605.4 957.5 L598.1 961.9 L603.3 969.2 L611.1 977.0 L620.2 983.5 L628.0 988.6 L634.5 993.8 L639.7 997.2 L635.8 1001.6 L629.3 1004.2 L621.5 1004.2 L613.7 1002.4 L607.2 1000.3 L602.8 995.1 L603.3 1001.6 L596.8 1005.5 L592.9 1012.0 L589.0 1021.1 L587.2 1031.5 L586.4 1041.9 L587.7 1049.7Z" fill="#e3e3e3" stroke="#8c8c8c" stroke-width="0.7" stroke-linejoin="round"/>
<path d="M47.4 813.4 L52.6 815.2 L57.8 817.3 L63.0 826.4 L72.1 834.1 L81.2 839.3 L89.0 848.4 L95.4 860.1 L98.0 870.5 L98.0 880.9 L96.7 891.3 L94.7 901.7 L97.3 909.4 L96.7 919.8 L98.0 931.5 L103.2 936.7 L110.2 941.9 L114.9 952.3 L120.1 962.7 L124.8 973.1 L126.6 980.9 L124.0 984.8 L120.1 983.5 L117.0 976.4 L116.2 981.6 L111.0 982.2 L105.8 981.6 L100.6 985.3 L96.7 983.5 L94.1 978.3 L86.4 974.4 L78.6 970.5 L72.1 967.9 L65.6 961.4 L57.8 957.5 L52.6 954.9 L47.4 953.6Z" fill="#e3e3e3" stroke="#8c8c8c" stroke-width="0.7" stroke-linejoin="round"/>
<path d="M47.4 991.2 L52.6 992.5 L56.5 1001.6 L64.3 1006.8 L73.4 1008.1 L81.2 1010.7 L83.8 1014.6 L76.0 1019.8 L66.9 1025.0 L78.6 1021.1 L89.0 1015.9 L96.7 1014.6 L103.2 1018.5 L108.4 1026.3 L109.7 1030.2 L101.9 1035.4 L96.7 1040.6 L98.0 1049.7 L47.4 1049.7Z" fill="#e3e3e3" stroke="#8c8c8c" stroke-width="0.7" stroke-linejoin="round"/>
<path d="M592.9 885.6 L597.6 884.0 L602.0 886.6 L602.0 891.3 L596.8 892.6 L592.9 890.0Z" fill="#e3e3e3" stroke="#8c8c8c" stroke-width="0.7" stroke-linejoin="round"/>
<path d="M589.0 914.1 L592.4 912.6 L593.7 917.2 L591.6 919.3 L589.6 917.2Z" fill="#e3e3e3" stroke="#8c8c8c" stroke-width="0.7" stroke-linejoin="round"/>
<path d="M371.5 936.7 L374.1 936.7 L374.6 948.4 L372.0 948.9Z" fill="#e3e3e3" stroke="#8c8c8c" stroke-width="0.7" stroke-linejoin="round"/>
<path d="M105.1 984.2 L110.2 982.2 L116.2 984.8 L112.3 987.9 L108.4 987.9Z" fill="#e3e3e3" stroke="#8c8c8c" stroke-width="0.7" stroke-linejoin="round"/>
<path d="M48.7 976.4 L52.6 977.0 L60.4 979.0 L64.3 982.2 L63.0 985.3 L56.5 983.5 L48.7 982.2Z" fill="#e3e3e3" stroke="#8c8c8c" stroke-width="0.7" stroke-linejoin="round"/>
<path d="M55.2 984.8 L60.4 986.1 L62.5 993.8 L60.4 998.5 L56.5 996.4 L54.7 989.9Z" fill="#e3e3e3" stroke="#8c8c8c" stroke-width="0.7" stroke-linejoin="round"/>
<path d="M65.6 993.8 L73.4 997.7 L82.5 1002.9 L81.2 1006.8 L72.1 1005.5 L63.5 1001.6Z" fill="#e3e3e3" stroke="#8c8c8c" stroke-width="0.7" stroke-linejoin="round"/>
<path d="M72.1 992.5 L79.9 993.8 L86.4 999.0 L87.7 1002.4 L82.5 1001.6 L76.0 997.7 L72.1 995.7Z" fill="#e3e3e3" stroke="#8c8c8c" stroke-width="0.7" stroke-linejoin="round"/>
<path d="M93.6 993.8 L96.0 993.3 L96.7 997.7 L94.7 997.2Z" fill="#e3e3e3" stroke="#8c8c8c" stroke-width="0.7" stroke-linejoin="round"/>
<path d="M94.1 1002.9 L96.7 1002.4 L99.3 1008.1 L96.7 1009.4Z" fill="#e3e3e3" stroke="#8c8c8c" stroke-width="0.7" stroke-linejoin="round"/>
<path d="M87.7 1009.4 L91.0 1008.6 L92.3 1012.8 L88.4 1013.8Z" fill="#e3e3e3" stroke="#8c8c8c" stroke-width="0.7" stroke-linejoin="round"/>
<path d="M107.6 1001.6 L110.2 1003.5 L111.0 1005.5 L108.4 1004.2Z" fill="#e3e3e3" stroke="#8c8c8c" stroke-width="0.7" stroke-linejoin="round"/>
<path d="M114.4 993.1 L120.1 991.2 L121.4 996.4 L117.5 998.3Z" fill="#e3e3e3" stroke="#8c8c8c" stroke-width="0.7" stroke-linejoin="round"/>
<path d="M120.6 1000.3 L124.0 1001.6 L125.3 1004.2 L122.2 1004.7Z" fill="#e3e3e3" stroke="#8c8c8c" stroke-width="0.7" stroke-linejoin="round"/>
<path d="M125.3 993.8 L131.8 990.5 L138.3 990.5 L140.4 996.4 L137.8 1002.9 L134.4 1003.5 L132.6 997.7 L127.9 997.2Z" fill="#e3e3e3" stroke="#8c8c8c" stroke-width="0.7" stroke-linejoin="round"/>
<path d="M134.4 1024.5 L140.9 1030.2 L140.1 1031.5 L134.4 1025.8Z" fill="#e3e3e3" stroke="#8c8c8c" stroke-width="0.7" stroke-linejoin="round"/>
<path d="M132.6 1039.3 L137.0 1032.0 L140.9 1035.4 L146.1 1038.8 L151.3 1042.4 L147.4 1043.2 L139.6 1040.6 L134.4 1041.4Z" fill="#e3e3e3" stroke="#8c8c8c" stroke-width="0.7" stroke-linejoin="round"/>
<path d="M98.0 1043.2 L103.2 1040.1 L108.4 1042.4 L105.8 1045.0 L99.3 1045.8Z" fill="#e3e3e3" stroke="#8c8c8c" stroke-width="0.7" stroke-linejoin="round"/>
<path d="M126.6 1049.7 L130.5 1045.0 L134.4 1045.8 L135.7 1049.7Z" fill="#e3e3e3" stroke="#8c8c8c" stroke-width="0.7" stroke-linejoin="round"/>
<path d="M121.4 934.1 L123.5 932.3 L124.8 937.5 L121.7 937.5Z" fill="#e3e3e3" stroke="#8c8c8c" stroke-width="0.7" stroke-linejoin="round"/>
<path d="M175.7 926.3 L179.8 928.1 L180.6 931.5 L176.7 932.8Z" fill="#e3e3e3" stroke="#8c8c8c" stroke-width="0.7" stroke-linejoin="round"/>
<path d="M193.3 921.1 L196.2 920.4 L196.7 924.5 L194.4 924.0Z" fill="#e3e3e3" stroke="#8c8c8c" stroke-width="0.7" stroke-linejoin="round"/>
<path d="M256.4 892.6 L260.3 888.2 L265.0 885.6 L266.8 890.0 L270.7 893.9 L270.2 900.4 L266.8 904.3 L261.6 905.6 L259.8 903.0 L263.5 901.1 L257.7 897.0Z" fill="#e3e3e3" stroke="#8c8c8c" stroke-width="0.7" stroke-linejoin="round"/>
<path d="M284.2 931.5 L286.8 928.1 L287.9 930.2 L285.3 933.3Z" fill="#e3e3e3" stroke="#8c8c8c" stroke-width="0.7" stroke-linejoin="round"/>
<path d="M112.3 671.5 L118.0 668.9 L119.6 675.4 L118.0 682.7 L114.9 676.7Z" fill="#e3e3e3" stroke="#8c8c8c" stroke-width="0.7" stroke-linejoin="round"/>
<path d="M57.3 609.2 L59.9 608.7 L61.9 614.4 L58.8 615.2Z" fill="#e3e3e3" stroke="#8c8c8c" stroke-width="0.7" stroke-linejoin="round"/>
<path d="M65.6 626.1 L68.2 625.6 L68.2 628.7 L66.1 628.7Z" fill="#e3e3e3" stroke="#8c8c8c" stroke-width="0.7" stroke-linejoin="round"/>
<path d="M81.4 635.2 L83.5 635.2 L83.5 639.1 L81.7 639.1Z" fill="#e3e3e3" stroke="#8c8c8c" stroke-width="0.7" stroke-linejoin="round"/>
<path d="M89.5 656.7 L92.6 657.8 L92.1 659.8 L90.0 658.8Z" fill="#e3e3e3" stroke="#8c8c8c" stroke-width="0.7" stroke-linejoin="round"/>
<path d="M206.3 728.6 L209.4 727.4 L209.4 729.9 L207.4 730.5Z" fill="#e3e3e3" stroke="#8c8c8c" stroke-width="0.7" stroke-linejoin="round"/>
<path d="M235.7 292.9 L239.6 291.3 L241.6 293.9 L237.5 297.3Z" fill="#e3e3e3" stroke="#8c8c8c" stroke-width="0.7" stroke-linejoin="round"/>
<path d="M218.3 305.8 L221.9 304.8 L223.5 308.4 L220.1 309.0Z" fill="#e3e3e3" stroke="#8c8c8c" stroke-width="0.7" stroke-linejoin="round"/>
<path d="M237.0 302.5 L240.9 300.6 L240.3 303.8 L237.5 305.1Z" fill="#e3e3e3" stroke="#8c8c8c" stroke-width="0.7" stroke-linejoin="round"/>
<path d="M213.6 302.5 L216.2 301.7 L216.7 305.1 L214.4 305.6Z" fill="#e3e3e3" stroke="#8c8c8c" stroke-width="0.7" stroke-linejoin="round"/>
<path d="M446.4 227.5 L452.3 226.3 L452.6 232.2 L453.5 237.4 L456.4 239.2 L458.6 243.4 L461.5 247.1 L463.3 250.8 L460.8 254.5 L457.1 258.6 L454.1 261.6 L452.3 260.1 L451.5 256.0 L450.9 250.0 L451.5 245.6 L449.7 241.9 L446.7 238.2 L443.0 234.0Z" fill="#fff" stroke="#8c8c8c" stroke-width="0.6"/>
<path d="M1045.2 1035.3 L1047.0 1035.0 L1050.9 1039.7 L1054.9 1043.9 L1053.8 1044.5 L1048.9 1040.3Z" fill="#fff" stroke="#8c8c8c" stroke-width="0.6"/>
<path d="M644.9 121.7 L650.1 123.8 L655.8 123.0 L659.1 121.2 L657.3 125.6 L652.7 127.4 L648.0 125.9Z" fill="#fff" stroke="#8c8c8c" stroke-width="0.6"/>
<path d="M262.9 280.9 L257.7 279.9 L252.5 281.7 L247.9 284.3 L243.5 286.9 L239.6 289.5 L235.7 292.1 L233.3 294.9 L231.8 298.0 L226.1 300.6 L220.1 302.5 L215.4 301.7 L211.0 300.6 L210.5 304.8 L210.5 309.0 L208.4 313.6 L205.8 318.0 L202.7 322.7 L199.3 327.1 L195.4 331.3 L191.5 334.9 L188.1 338.0 L185.0 341.4 L182.7 345.8 L181.1 350.5 L179.8 355.7 L178.5 360.9 L176.2 365.6 L174.1 370.0 L175.9 374.6 L178.5 379.1 L182.4 384.3 L186.3 389.4 L190.7 394.6 L195.4 399.8 L199.3 403.7 L203.2 407.6 L201.4 410.5 L200.1 413.3 L202.9 415.7 L205.8 418.0 L211.0 424.5 L216.2 431.0 L222.7 438.3 L229.2 445.3 L235.7 450.7 L242.2 455.7 L248.6 459.6 L255.1 463.5 L260.3 469.2 L265.5 475.1 L270.7 481.6 L275.9 488.1 L280.6 494.6 L285.0 501.1 L288.9 508.1 L292.8 515.4 L294.9 521.4 L296.7 527.1 L298.0 533.6 L299.8 535.2 L300.6 540.4 L301.1 545.6 L301.4 550.8 L300.3 556.0 L299.8 561.2 L300.8 569.0 L301.9 576.7 L302.1 583.2 L302.4 589.7 L301.9 594.9 L301.4 600.1 L300.6 605.3 L299.8 610.5 L298.2 615.7 L296.7 620.9 L294.6 625.6 L292.8 630.0 L291.5 633.3 L290.2 636.5 L286.3 638.5 L282.4 640.4 L277.7 643.0 L273.3 645.6 L269.4 648.2 L265.5 650.7 L261.6 652.8 L257.7 654.6 L255.7 657.2 L253.8 659.8 L249.4 661.9 L244.8 663.7 L240.9 665.8 L237.0 667.6 L233.1 668.9 L229.2 670.2 L226.6 671.0 L224.0 671.5 L223.2 668.9 L222.7 666.3 L221.9 663.7 L221.4 661.1 L220.1 665.0 L218.8 668.9 L216.2 669.7 L213.6 670.2 L212.3 667.9 L211.0 665.5 L208.9 666.6 L207.1 667.6 L209.7 670.2 L212.3 672.8 L207.9 673.6 L203.7 674.1 L207.9 676.7 L212.3 679.3 L214.9 680.6 L210.5 683.2 L205.8 685.8 L198.5 681.1 L191.5 676.7 L194.9 681.4 L198.0 685.8 L201.9 689.7 L205.8 693.6 L204.8 696.2 L203.7 698.8 L201.4 699.6 L199.3 700.1 L190.2 691.8 L181.1 683.7 L184.5 688.7 L187.6 693.6 L190.2 697.5 L192.8 701.4 L192.6 703.5 L192.3 705.3 L186.1 707.9 L179.8 710.5 L174.6 713.1 L169.4 715.7 L165.6 720.3 L161.7 724.8 L158.5 728.1 L155.2 731.2 L151.3 732.3 L147.4 733.1 L144.0 732.0 L145.3 729.7 L146.6 727.4 L146.1 722.2 L145.6 717.0 L146.1 710.5 L146.6 704.0 L147.4 698.8 L148.2 693.6 L150.2 691.3 L152.6 688.9 L154.4 687.4 L155.9 685.8 L154.4 683.7 L152.6 681.9 L149.2 680.6 L146.1 679.3 L142.7 678.0 L139.6 676.7 L136.2 674.1 L133.1 671.5 L129.7 668.9 L126.6 666.3 L123.2 665.3 L120.1 664.5 L116.2 663.5 L112.3 662.4 L108.9 664.5 L105.8 666.3 L103.2 664.5 L100.6 662.4 L101.2 659.8 L101.9 657.2 L103.8 655.4 L105.8 653.3 L104.5 650.0 L103.2 646.9 L101.2 645.6 L99.3 644.3 L96.7 648.2 L94.1 652.0 L91.5 652.8 L89.0 653.3 L86.9 650.2 L85.1 646.9 L85.6 643.0 L86.4 639.1 L84.3 635.2 L82.5 631.3 L80.4 627.4 L78.6 623.5 L76.5 619.6 L74.7 615.7 L72.1 611.8 L69.5 607.9 L66.9 607.9 L64.3 607.9 L61.7 605.8 L59.1 604.0 L55.7 601.9 L52.6 599.6 L50.0 598.0" fill="none" stroke="#8c8c8c" stroke-width="0.7" stroke-linejoin="round"/>
<path d="M262.9 280.9 L264.8 279.8 L266.8 278.8 L268.8 278.0 L270.7 277.0 L272.2 275.9 L272.0 274.0 L272.8 272.6 L273.7 270.9 L274.6 269.2 L276.4 271.0 L278.5 271.8 L279.0 273.8 L279.8 275.7 L280.7 274.2 L282.4 273.6 L285.0 273.1 L286.3 275.1 L287.6 277.0 L289.3 277.4 L291.0 277.3 L292.3 278.4 L294.1 278.3 L295.2 279.8 L295.1 281.5 L295.9 283.0 L295.4 284.8 L297.3 285.6 L299.3 285.1 L301.3 284.9 L303.2 284.0 L304.8 282.4 L307.1 282.5 L309.7 280.9 L311.0 279.4 L311.4 277.7 L311.0 275.7 L312.8 277.8 L314.9 279.6 L317.5 278.3 L320.1 278.3 L320.6 280.2 L321.6 281.9 L322.7 283.5 L320.6 285.6 L318.8 287.4 L318.3 289.5 L316.6 290.8 L316.9 293.1 L315.3 294.7 L314.9 296.6 L314.7 298.6 L316.0 300.5 L315.7 302.8 L316.7 304.9 L316.6 307.2 L318.0 308.9 L318.5 311.1 L320.3 312.6 L320.5 314.9 L321.2 316.6 L321.8 318.4 L322.7 320.0 L323.4 321.7 L323.8 323.5 L325.3 324.6 L327.6 325.9 L330.1 326.5 L331.7 326.2 L333.4 326.1 L334.9 325.5 L337.0 324.8 L339.2 324.0 L340.8 323.5 L342.1 322.4 L343.6 321.7 L344.6 318.8 L344.9 315.9 L343.0 313.4 L341.6 312.5 L340.7 311.1 L339.6 308.9 L337.2 308.2 L336.8 306.3 L334.9 305.9 L333.0 303.4 L332.6 301.4 L333.0 299.5 L334.8 299.1 L335.9 297.6 L337.6 297.0 L338.8 295.7 L339.2 293.9 L340.3 292.4 L340.5 290.5 L341.7 288.9 L344.2 290.8 L346.5 292.8 L347.7 291.5 L349.4 290.8 L350.4 289.2 L352.3 288.9 L354.5 288.1 L356.1 286.4 L358.0 285.1 L360.0 284.1 L361.7 284.6 L363.2 283.5 L364.8 283.5 L366.5 284.3 L368.1 284.0 L369.6 283.1 L370.9 281.6 L372.6 281.3 L374.4 281.2 L376.4 281.3 L377.6 279.9 L379.3 279.3 L381.8 279.7 L383.9 278.3 L385.7 276.8 L387.8 275.7 L388.9 274.0 L390.9 273.6 L392.7 273.0 L394.3 271.8 L396.9 272.6 L399.5 273.1 L401.2 273.4 L402.9 272.6 L404.3 271.8 L406.0 271.8 L406.3 269.5 L408.0 267.9 L408.7 265.8 L409.9 264.0 L410.0 266.2 L411.7 267.4 L412.3 269.3 L413.8 270.5 L415.2 269.2 L417.1 269.2 L418.5 268.1 L420.2 267.9 L421.6 266.4 L423.6 266.4 L424.8 264.8 L426.7 264.8 L428.8 263.7 L430.1 261.7 L431.2 259.8 L433.2 258.8 L433.8 260.6 L434.5 262.2 L435.3 263.7 L435.8 265.3 L437.2 263.8 L439.2 263.3 L441.0 262.7 L442.3 261.4 L443.7 260.1 L445.7 260.1 L447.4 259.8 L448.8 258.8 L448.7 256.9 L450.1 255.5 L450.6 253.8 L451.4 252.4 L450.6 250.5 L450.9 248.5 L450.3 246.5 L450.6 244.6 L452.7 242.5 L454.7 241.9 L455.3 239.9 L455.7 242.0 L457.1 243.5 L458.5 245.1 L459.2 247.2 L460.8 248.2 L462.6 247.7 L465.7 247.2 L467.6 246.3 L469.6 246.6 L471.5 246.0 L473.5 245.9 L475.4 245.9 L476.9 244.6 L478.5 244.2 L480.0 243.3 L482.1 241.4 L483.9 239.9 L485.5 238.4 L487.8 238.3 L490.1 238.5 L491.7 236.8 L494.3 238.3 L496.9 239.9 L498.6 238.6 L500.7 238.3 L502.5 237.1 L504.6 236.8 L506.5 236.8 L508.0 235.7 L509.5 234.9 L511.1 234.7 L512.4 237.3 L513.7 239.9 L515.5 239.7 L517.1 240.4 L520.2 240.7 L521.0 238.1 L521.5 235.5 L523.6 235.0 L525.4 236.3 L527.5 235.7 L529.3 236.8 L531.0 236.5 L532.7 236.0 L535.8 235.5 L537.3 234.3 L539.2 234.2 L540.8 233.7 L542.3 232.9 L543.9 232.2 L545.7 232.1 L548.8 231.6 L551.1 230.5 L553.5 229.5 L554.0 226.9 L554.5 224.3 L556.0 223.4 L557.6 222.7 L559.5 222.8 L560.5 221.2 L561.7 219.6 L563.1 218.1 L564.5 216.5 L565.7 214.7 L567.5 212.1 L569.0 209.5 L571.4 208.7 L573.5 208.2 L575.5 206.9 L577.4 205.6 L579.3 205.8 L580.7 204.6 L582.1 203.5 L583.8 203.5 L585.9 201.2 L587.7 199.1 L589.2 197.8 L591.1 197.8 L593.0 197.9 L594.2 196.5 L595.9 196.0 L596.8 194.4 L599.4 192.6 L601.2 190.0 L602.8 187.4 L603.9 186.0 L605.7 185.4 L606.8 183.9 L608.5 183.5 L607.2 181.2 L605.9 179.1 L608.1 178.6 L609.8 177.3 L612.1 177.3 L613.7 175.7 L615.7 175.1 L617.6 175.7 L619.5 176.6 L621.5 175.7 L623.6 175.1 L624.9 173.2 L626.6 172.0 L628.0 170.6 L628.8 168.0 L629.3 165.4 L630.9 164.2 L632.7 163.3 L633.8 161.7 L635.8 161.5 L635.6 159.4 L637.1 158.1 L638.6 156.9 L638.4 155.0 L639.9 153.8 L641.8 153.7 L643.5 153.4 L644.9 152.4 L646.2 149.8 L647.5 147.2 L649.0 146.1 L650.8 145.9 L652.6 145.8 L654.0 144.6 L655.4 143.7 L656.6 142.5 L659.1 140.7 L659.9 139.1 L661.2 138.1 L663.0 135.5 L662.4 133.8 L663.0 132.1 L663.0 129.0 L662.8 127.3 L661.7 125.9 L660.4 123.0 L660.8 121.1 L662.5 120.2 L663.0 118.5 L664.3 117.3 L663.8 115.6 L663.0 113.9 L663.0 112.1 L661.7 110.8 L663.0 109.7 L663.8 108.2 L665.6 105.6 L664.3 103.0 L663.0 100.4 L664.8 99.0 L666.9 98.4 L669.2 98.2 L670.8 96.5 L672.6 95.3 L674.7 95.2 L676.4 93.7 L678.6 94.0 L679.3 92.0 L680.7 90.6 L681.5 89.0 L682.5 87.5 L683.3 85.7 L685.1 85.4 L687.7 83.6 L688.6 81.8 L690.3 81.0 L691.4 79.5 L692.9 78.4 L694.1 76.8 L695.0 75.0 L695.3 73.1 L696.8 71.9 L697.6 70.4 L698.9 69.3 L700.7 66.7 L702.5 65.9 L703.3 64.1 L705.3 63.5 L705.9 61.5 L708.0 59.4 L709.8 57.1 M50.0 252.4 L51.3 251.0 L52.6 249.8 L53.8 248.5 L54.8 247.1 L54.9 245.1 L56.5 244.0 L56.7 242.2 L58.2 241.3 L59.1 239.9 L60.4 238.8 L61.9 240.0 L63.7 240.4 L65.6 240.7 L67.2 241.5 L69.0 242.0 L70.8 242.5 L72.2 243.7 L74.4 243.8 L75.7 245.3 L77.3 246.4 L79.2 246.6 L80.1 248.8 L82.5 248.1 L83.8 249.8 L85.5 248.8 L85.7 246.3 L87.9 245.7 L89.0 244.0 L90.0 242.3 L91.4 240.9 L93.4 240.0 L94.1 238.1 L96.2 238.8 L96.7 240.9 L98.6 241.4 L99.3 243.3 L101.3 242.4 L101.9 240.4 L103.2 239.3 L104.5 238.1 L106.5 238.7 L106.8 241.3 L108.2 242.4 L110.2 243.0 L112.2 243.6 L113.3 245.2 L115.2 245.9 L116.2 247.7 L116.9 246.0 L118.4 245.0 L118.6 243.0 L120.1 242.0 L121.4 240.9 L121.3 238.8 L122.5 237.7 L124.0 236.8 L124.9 238.3 L126.7 238.7 L127.9 239.9 L129.1 238.7 L130.6 238.0 L131.8 236.8 L133.7 235.4 L135.7 234.2 L138.0 233.6 L140.4 233.4 L142.5 232.2 L144.8 232.9 L145.9 231.4 L146.1 229.5 L147.6 228.3 L147.4 226.4 L149.6 226.2 L150.8 224.3 L152.5 223.7 L153.9 222.5 L155.3 221.5 L156.9 220.7 L158.5 220.2 L160.2 219.8 L161.6 219.1 L163.0 218.1 L165.2 219.1 L166.3 221.2 L168.2 222.1 L169.4 223.8 L170.7 225.9 L172.0 227.7 L173.9 228.4 L175.5 229.6 L177.2 230.5 L178.7 231.9 L180.7 232.1 L182.4 232.9 L184.6 231.6 L187.1 232.1 L189.4 232.5 L191.5 231.6 L193.1 232.0 L194.6 232.7 L196.2 233.1 L198.5 233.1 L200.6 234.2 L202.5 233.6 L204.5 233.4 L206.4 232.9 L208.4 232.9 L209.9 234.4 L212.0 235.0 L214.1 235.2 L215.4 236.8 L214.5 238.7 L213.9 240.7 L213.7 242.9 L212.3 244.6 L210.4 245.3 L208.9 246.6 L207.8 248.3 L205.8 248.5 L206.5 250.1 L206.3 251.8 L207.0 253.3 L207.1 254.9 L207.9 256.4 L209.2 257.5 L211.0 260.1 L212.0 261.8 L211.3 263.5 L211.5 266.6 L213.4 267.1 L215.2 267.7 L217.1 267.5 L218.8 268.5 L220.9 269.1 L222.7 270.5 L224.7 271.5 L226.6 272.6 L227.3 274.4 L229.2 274.7 L230.5 275.7 L231.9 277.8 L234.4 278.3 L236.7 277.7 L239.0 278.3 L241.2 279.2 L243.5 278.3 L245.4 277.9 L247.4 278.1 L249.3 277.3 L251.2 277.8 L252.7 279.0 L254.6 279.4 L255.8 280.9 L257.7 280.9 L260.3 281.4 L262.9 280.9 M99.3 57.6 L98.9 59.3 L97.5 60.2 L96.0 61.2 L95.4 62.8 L94.1 63.8 L93.1 65.1 L92.6 66.8 L91.5 68.0 L89.9 68.6 L88.9 70.0 L88.2 71.8 L86.4 72.2 L85.1 73.2 L84.3 74.9 L81.9 74.6 L80.6 75.6 L80.1 77.6 L78.6 78.4 L78.5 80.2 L77.2 81.7 L77.3 83.6 L77.9 85.3 L77.9 87.0 L77.3 88.8 L78.5 90.1 L78.8 91.9 L79.0 93.7 L79.9 95.2 L79.7 97.2 L81.7 98.3 L81.0 100.5 L82.5 101.7 L82.6 104.1 L83.0 106.4 L81.9 108.5 L82.5 110.8 L80.4 111.4 L79.4 113.6 L77.3 114.2 L75.4 115.0 L74.2 116.9 L72.1 117.3 L70.2 117.1 L69.3 115.4 L68.2 114.2 L66.4 114.3 L65.0 115.3 L63.5 116.0 L61.5 117.3 L59.1 117.3 L57.0 117.8 L55.7 119.4 L53.9 119.5 L53.1 121.4 L51.5 121.8 L50.0 122.5 M131.8 57.6 L133.7 58.7 L135.7 59.4 L137.8 59.5 L139.6 60.7 L141.5 61.3 L143.2 60.9 L144.8 59.7 L146.5 58.9 L148.4 58.6 L150.0 57.6 M161.7 57.6 L161.7 59.8 L160.4 61.5 L160.1 63.4 L160.4 65.4 L162.2 67.5 L164.3 68.0 L166.1 67.0 L168.2 67.8 L170.1 67.2 L172.0 66.7 L174.0 66.1 L176.0 66.3 L177.9 65.8 L179.8 65.4 L181.6 64.2 L183.7 64.8 L185.7 64.6 L187.6 64.1 L189.6 63.8 L191.6 64.2 L193.5 63.6 L195.4 62.8 L196.5 61.3 L198.0 60.2 L198.5 57.6 M161.7 68.0 L159.8 69.5 L159.6 71.9 L158.8 73.9 L157.8 75.8 L155.9 76.1 L154.1 76.7 L152.6 77.9 L151.0 79.0 L149.4 79.9 L147.4 79.7 L145.4 79.0 L143.2 79.5 L141.4 78.4 L139.4 78.2 L137.8 76.7 L135.7 77.1 L133.7 77.1 L132.5 79.2 L130.5 79.1 L129.0 80.5 L127.2 80.9 L125.3 81.0 L123.7 79.5 L121.1 80.1 L119.6 78.4 L117.9 78.2 L116.3 77.8 L114.8 77.1 L113.6 75.8 L112.5 77.0 L112.0 78.7 L110.6 79.6 L109.1 80.5 L108.4 82.0 L107.0 83.0 L106.5 84.6 L104.9 85.4 L104.2 86.9 L103.2 88.2 L104.0 90.2 L105.8 91.4 L107.5 92.3 L108.4 94.0 L108.7 96.3 L108.4 98.6 L108.3 100.8 L108.4 103.0 L109.2 104.8 L111.0 105.1 L113.6 106.9 L115.4 106.5 L117.0 105.6 L118.5 104.9 L120.1 104.3 L121.7 103.4 L123.5 103.0 L125.3 103.0 L126.9 102.1 L129.0 103.1 L130.5 101.7 L131.3 103.4 L133.1 103.8 L135.7 105.6 L136.4 107.5 L138.3 108.2 L139.3 109.6 L140.4 110.8 L138.5 113.4 L137.0 116.0 L135.9 117.8 L135.7 119.9 L135.4 122.0 L134.4 123.8 L133.6 125.3 L133.3 127.1 L132.0 128.4 L131.0 129.8 L130.7 131.5 L130.2 133.0 L127.9 133.7 L127.9 135.5 L129.8 136.7 L130.5 138.9 L131.3 140.8 L133.1 142.0 L134.5 143.6 L136.5 144.6 L138.6 145.3 L139.6 147.2 L140.9 148.7 L142.2 150.3 L142.7 152.4 L144.8 153.2 L142.9 154.2 L142.7 156.3 L140.9 158.9 L139.7 160.5 L138.8 162.2 L137.4 163.5 L137.0 165.4 L135.6 167.0 L134.9 169.0 L134.4 170.9 L133.1 172.4 L133.9 174.2 L134.9 176.0 L135.8 177.9 L137.0 179.6 L139.1 181.2 L140.9 182.2 M133.1 172.4 L134.9 173.5 L137.0 172.9 L138.9 173.8 L140.9 173.2 L142.6 173.0 L143.8 171.4 L145.6 171.3 L146.9 170.3 L148.7 170.3 L150.0 169.3 L151.6 168.4 L151.5 166.0 L153.3 165.4 L153.9 163.6 L156.0 163.3 L156.5 161.5 L158.5 161.0 L160.4 162.0 L162.2 162.7 L164.3 162.8 L166.4 163.8 L168.2 165.4 L169.9 166.9 L172.0 168.0 L174.0 168.7 L175.9 168.0 L177.9 168.1 L179.8 168.0 L181.6 168.8 L183.2 170.0 L184.9 170.6 L186.3 171.9 L188.2 170.7 L189.7 169.3 L191.4 168.2 L192.8 166.7 L192.6 164.1 L192.3 161.5 L193.9 160.6 L195.7 160.1 L197.4 159.6 L199.1 158.9 L200.6 157.8 L202.2 157.0 L204.2 157.0 L205.8 156.3 L207.1 154.9 L209.1 155.2 L210.9 154.9 L212.3 153.7 L214.2 153.6 L215.4 151.9 L217.1 151.6 L218.8 151.1 L220.2 149.4 L220.1 147.2 L220.5 145.1 L221.4 143.3 L223.7 143.4 L225.3 141.7 L227.0 140.4 L229.2 140.2 L229.9 142.4 L231.8 143.8 L233.8 144.9 L234.4 147.2 L235.9 148.7 L237.7 149.8 L238.9 151.5 L240.9 152.4 L242.9 151.9 L244.8 151.6 L246.8 153.7 L248.6 155.8 L250.7 155.3 L252.7 155.0 L254.6 154.2 L256.8 154.4 L258.7 153.9 L260.3 152.4 L260.4 150.5 L261.6 149.0 L262.3 147.5 L262.9 145.9 L264.3 144.4 L266.3 144.6 L267.8 143.7 L269.4 143.3 L271.7 143.7 L273.3 145.4 L275.6 145.7 L277.2 147.2 L278.1 145.3 L278.5 143.3 L278.4 141.1 L279.8 139.4 L282.0 138.3 L284.5 138.6 L286.6 137.4 L288.9 138.1 L290.4 137.2 L291.0 135.5 L292.8 132.9 L295.0 132.0 L297.5 132.1 L299.6 131.0 L301.9 131.6 L303.2 130.5 L304.5 129.3 L305.3 127.7 L306.5 126.6 L307.4 125.2 L308.4 123.8 M137.0 179.6 L138.6 180.5 L140.2 179.5 L141.8 180.4 L143.5 179.9 L145.1 180.9 L146.7 179.7 L148.3 180.6 L150.0 180.2 L151.9 181.1 L153.3 182.5 L155.3 183.1 L156.5 184.8 L157.8 186.4 L158.5 188.2 L159.0 190.0 L160.4 191.3 L162.8 191.0 L165.0 192.1 L167.2 192.7 L169.4 192.6 L171.3 191.9 L173.3 191.8 L175.2 190.9 L177.2 191.3 L179.0 191.4 L180.7 191.4 L182.4 191.8 L184.2 192.0 L185.8 193.1 L187.6 192.6 L188.3 194.8 L190.2 196.0 L191.9 197.2 L192.8 199.1 L191.7 200.8 L192.3 202.6 L192.3 204.3 L191.1 205.9 L191.2 207.7 L191.5 209.5 L189.9 210.1 L188.4 210.8 L186.9 211.9 L185.0 212.1 L182.7 212.4 L181.1 214.2 L178.8 214.2 L177.2 216.0 L175.5 217.1 L174.1 218.6 L172.9 220.5 L170.7 221.2 L169.4 223.8 M301.9 57.6 L302.4 59.4 L302.9 61.1 L304.5 62.3 L306.2 63.3 L305.4 65.7 L307.1 66.7 L305.9 68.0 L306.7 70.1 L305.3 71.4 L304.0 72.6 L303.3 74.0 L303.2 75.8 L302.3 77.5 L299.9 77.7 L299.3 79.7 L298.2 81.2 L296.8 82.3 L295.4 83.6 L293.5 84.1 L291.8 84.8 L290.2 85.9 L288.3 86.2 L286.9 87.9 L285.0 88.2 L287.0 88.7 L288.9 89.3 L291.0 89.0 L292.8 90.1 L294.3 88.8 L296.2 88.2 L297.7 87.2 L299.3 86.2 L301.3 85.6 L303.2 86.7 L305.2 86.8 L307.1 87.5 L307.1 89.4 L308.4 90.8 L309.6 92.1 L309.7 94.0 L308.9 95.7 L307.9 97.3 L307.6 99.4 L305.8 100.4 L303.7 101.7 L301.9 103.0 L301.7 105.0 L302.4 106.9 L303.6 108.7 L303.2 110.8 L304.8 112.2 L305.3 114.2 L305.7 116.0 L307.1 117.3 L307.6 119.0 L307.9 120.7 L308.4 123.8 M308.4 123.8 L310.4 123.7 L312.3 124.6 L314.2 125.0 L316.2 125.1 L316.9 127.2 L317.5 129.0 L319.2 128.3 L319.5 126.4 L321.4 123.8 L322.9 122.9 L324.0 121.5 L325.2 120.4 L326.6 119.4 L328.1 120.4 L329.1 122.0 L331.0 122.8 L331.7 124.6 L333.8 125.6 L335.6 126.4 L337.5 125.8 L338.3 124.1 L339.0 122.5 L339.7 120.9 L341.2 120.0 L342.1 118.6 L344.7 116.8 L347.3 115.2 L349.9 116.0 L352.5 116.8 L354.4 116.1 L355.9 114.7 L357.9 114.4 L359.0 112.6 L361.4 112.7 L363.7 113.7 L366.0 113.8 L368.1 114.7 L369.6 115.6 L370.2 117.3 L372.0 119.9 L371.6 121.8 L371.5 123.8 L370.3 125.6 L370.7 127.7 L372.2 128.9 L374.1 129.3 L376.0 129.4 L377.2 130.8 L376.5 132.5 L375.4 133.9 L375.0 135.9 L373.3 136.8 L373.3 139.0 L372.0 140.7 L371.4 142.6 L370.7 144.6 L369.9 146.7 L368.1 148.0 L367.2 149.8 L365.5 151.1 L364.6 153.1 L362.9 154.5 L361.7 156.1 L360.3 157.6 L361.1 160.2 L361.6 162.8 L363.8 161.7 L365.0 159.6 L366.2 157.6 L368.1 156.3 L369.7 157.1 L371.5 157.6 L373.1 158.0 L374.6 158.9 L375.5 160.5 L376.0 162.2 L376.1 164.1 L376.1 166.0 L376.5 167.7 L377.7 169.3 L380.0 170.6 L382.4 171.9 L384.5 171.7 L386.6 171.4 L388.4 170.0 L390.4 169.8 L392.0 168.3 L394.1 168.0 M394.1 168.0 L395.4 169.2 L394.9 171.3 L396.1 172.6 L396.3 175.1 L398.0 177.0 L397.9 179.0 L397.4 180.9 L397.5 183.0 L396.7 184.8 L396.1 186.5 L395.2 188.0 L393.5 188.7 L392.9 190.4 L391.7 191.7 L390.2 192.6 L389.5 194.6 L390.2 196.5 L390.8 198.5 L390.2 200.4 L389.0 202.2 L387.1 203.0 L384.8 203.6 L383.7 205.6 L381.6 206.3 L380.6 208.2 L379.4 210.1 L377.2 210.8 L377.1 212.6 L375.4 214.0 L375.9 216.0 L375.7 217.8 L374.8 219.4 L374.6 221.2 L374.2 222.9 L374.3 224.7 L374.6 226.4 L375.5 228.1 L374.1 229.8 L374.6 231.6 L372.9 232.0 L372.1 233.6 L370.9 234.7 L369.4 235.5 L367.8 236.1 L366.2 236.6 L365.0 237.7 L364.2 239.4 L362.8 241.0 L360.5 241.2 L359.0 242.7 L357.3 243.8 L355.0 244.0 L353.8 245.9 L352.5 247.2 L353.0 249.0 L352.5 250.5 L351.1 252.5 L351.2 254.9 L349.3 254.9 L348.3 257.0 L346.4 257.1 L344.7 257.5 L342.8 257.4 L341.7 259.3 L339.9 259.6 L338.2 260.1 L338.0 261.8 L338.2 263.5 L338.2 266.6 L336.7 267.4 L334.8 267.1 L333.6 268.8 L331.7 268.7 L330.1 269.0 L328.5 269.5 L327.1 271.0 L325.3 270.5 L323.8 272.2 L323.4 274.4 L321.9 276.1 L321.4 278.3 M394.0 168.0 L396.9 167.2 L399.5 166.7 L399.5 164.7 L400.3 162.8 L400.8 160.9 L401.3 159.0 L400.9 156.8 L402.1 155.0 L404.4 154.6 L406.7 154.2 L409.1 154.8 L411.2 153.7 L413.1 154.4 L415.1 155.0 L417.0 155.7 L419.0 156.3 L419.5 158.3 L421.0 159.6 L422.0 161.2 L422.8 162.8 L424.5 162.3 L426.2 162.8 L429.3 162.8 L430.4 160.9 L430.1 158.9 L429.7 156.8 L430.6 155.0 L429.9 153.1 L428.0 152.4 L427.3 150.5 L425.4 149.8 L427.4 148.8 L429.3 147.7 L431.3 146.8 L433.2 145.9 L434.6 144.3 L436.6 144.3 L437.9 143.0 L439.7 142.8 L441.1 144.4 L443.1 145.1 L444.4 146.5 L446.2 147.2 L448.5 147.8 L450.9 148.0 L453.2 147.5 L455.3 148.5 L457.4 148.0 L459.2 146.7 L461.6 146.5 L463.1 144.6 M456.6 57.6 L455.2 58.7 L455.5 60.7 L454.1 61.8 L454.0 63.6 L453.6 65.7 L452.3 67.4 L451.4 69.3 L452.5 71.1 L452.7 73.2 L453.3 75.2 L454.0 77.1 L455.9 76.6 L457.4 77.9 L460.5 78.4 L460.5 80.1 L460.5 81.9 L460.0 83.6 L460.6 85.4 L458.8 86.9 L459.2 88.8 L459.5 90.9 L461.3 92.1 L462.8 93.3 L463.1 95.2 L462.6 97.2 L462.6 99.1 L462.1 101.1 L461.8 103.0 L463.6 104.0 L465.2 105.1 L466.6 106.2 L468.3 106.9 L468.0 109.3 L468.3 111.6 L468.7 113.8 L468.3 116.0 L466.5 118.1 L464.4 119.9 L466.7 119.6 L469.1 119.9 L471.3 119.9 L473.5 119.9 L471.4 120.1 L470.4 122.0 L468.3 122.1 L467.0 123.8 L466.0 125.2 L466.2 127.0 L465.7 128.5 L464.3 130.5 L464.4 132.9 L463.3 134.8 L463.3 136.8 L463.9 138.9 L464.2 140.9 L463.5 142.7 L463.1 144.6 M463.1 144.6 L463.6 146.3 L465.2 147.2 L467.0 149.8 L469.3 148.9 L471.7 149.3 L474.0 149.7 L476.1 148.5 L478.0 147.8 L480.0 147.2 L481.9 146.3 L483.9 145.9 L484.9 147.2 L486.7 147.7 L487.5 149.3 L489.7 150.4 L491.1 152.4 L489.8 153.8 L488.3 155.0 L487.1 156.7 L485.2 157.6 L483.6 159.1 L482.6 160.9 L481.4 162.6 L480.0 164.1 L478.2 166.7 L477.3 168.1 L476.1 169.3 L474.3 170.8 L472.2 172.4 L474.4 173.3 L476.1 175.0 L478.3 175.8 L480.0 177.6 L481.6 177.5 L483.3 177.5 L484.6 176.3 L486.8 175.3 L489.1 175.0 L491.2 175.0 L493.0 173.9 L494.8 173.2 L496.9 173.2 L499.0 173.0 L500.7 171.9 L502.5 170.7 L504.6 170.6 L506.2 170.3 L507.7 169.5 L509.3 169.3 L511.7 169.3 L513.7 168.0 L515.1 169.4 L517.1 170.0 L519.1 170.3 L520.2 171.9 L522.0 172.3 L522.8 173.9 L525.4 175.7 L527.8 175.7 L530.1 175.7 L529.4 173.6 L528.8 171.3 L527.8 169.9 L527.4 168.4 L527.5 166.7 L529.1 164.6 L530.6 162.8 M587.7 57.6 L586.5 58.9 L584.9 60.0 L583.8 61.5 L582.4 62.6 L581.0 63.8 L579.9 65.4 L577.7 65.3 L576.1 66.7 L573.9 66.9 L572.2 68.0 L573.4 69.4 L573.5 71.4 L574.6 72.7 L574.8 74.5 L574.6 76.8 L574.2 79.1 L574.1 81.4 L573.5 83.6 L571.0 84.1 L569.6 86.2 L567.4 87.1 L565.7 88.8 L563.8 90.1 L561.8 91.4 L560.0 92.9 L557.9 94.0 L557.3 96.2 L555.8 97.8 L554.5 99.7 L553.5 101.7 L553.5 104.0 L555.0 105.6 L556.4 107.3 L556.6 109.5 L555.6 110.9 L554.7 112.3 L553.5 113.4 L552.2 114.6 L551.6 116.3 L550.1 117.3 L551.3 118.8 L550.9 120.7 L551.4 123.8 L549.6 124.8 L548.3 126.4 L546.8 128.0 L544.9 129.0 L543.3 129.8 L542.0 131.1 L540.1 131.3 L538.9 132.9 L538.2 134.6 L537.1 136.1 L537.4 138.1 L536.3 139.7 L537.2 141.8 L535.8 143.3 L535.3 145.3 L533.6 146.6 L532.9 148.5 L532.0 150.2 L531.9 152.4 L530.1 153.7 L529.6 156.0 L530.4 158.3 L530.2 160.6 L530.6 162.8 M530.6 162.8 L532.4 162.3 L533.5 164.3 L535.3 164.1 L537.4 165.1 L539.7 165.4 L542.2 164.8 L544.4 166.1 L546.6 166.5 L548.8 166.7 L550.2 167.6 L550.9 169.3 L552.7 171.9 L554.9 173.0 L557.4 172.6 L559.5 173.6 L561.8 173.2 L562.8 174.5 L563.0 176.3 L563.8 177.8 L564.8 180.0 L565.7 182.2 L567.1 184.0 L567.7 186.1 L568.8 188.0 L569.6 190.0 L570.0 191.7 L570.1 193.5 L570.3 195.2 L569.6 197.0 L570.2 198.7 L570.9 200.4 L572.3 202.1 L571.9 204.3 L572.6 206.2 L572.7 208.2 M587.7 57.6 L589.7 58.2 L591.1 59.7 L593.1 59.9 L594.2 61.5 L596.1 60.9 L597.6 59.7 L598.9 58.2 L600.7 57.6 M631.9 57.6 L632.2 59.9 L634.0 61.5 L635.4 63.2 L635.8 65.4 L636.9 67.2 L636.6 69.3 L637.6 71.1 L637.1 73.2 L638.7 73.9 L640.4 74.4 L642.3 74.0 L643.9 75.1 L645.7 74.7 L647.5 74.5 L649.2 73.7 L650.8 72.7 L652.1 71.4 L653.6 70.2 L655.1 69.2 L656.6 68.0 L659.1 68.8 L661.7 69.3 L663.1 70.6 L664.0 72.0 L663.8 74.0 L664.0 76.4 L665.6 78.4 L667.5 79.4 L669.5 79.1 L671.4 80.3 L673.4 79.7 L675.1 79.7 L676.6 79.0 L678.1 78.4 L680.1 77.1 L682.5 77.1 L683.4 78.7 L685.1 79.1 L687.7 81.0 M278.6 360.2 L278.9 358.1 L280.0 356.4 L281.6 355.6 L282.9 354.4 L284.4 353.6 L285.8 352.5 L287.4 351.3 L289.1 350.2 L290.6 348.6 L292.5 347.7 L295.0 346.4 L297.3 344.8 L296.8 342.9 L296.4 341.0 L298.3 339.4 L300.2 338.1 L302.5 338.6 L305.1 339.0 L307.6 338.1 L309.9 337.1 L312.8 336.5 L315.7 336.1 L317.5 336.8 L319.5 336.7 L321.4 337.3 L323.4 337.1 L325.3 336.9 L327.2 336.7 L329.1 336.4 L331.1 336.1 L332.9 335.3 L334.9 335.2 L336.7 334.0 L338.8 334.2 L340.7 333.6 L342.6 333.2 L344.6 332.9 L346.5 332.3 L348.0 330.9 L349.4 329.8 L350.7 330.7 L352.3 331.7 L354.2 332.9 L356.1 334.2 L358.1 335.6 L360.0 337.1 L360.9 340.0 L361.9 342.9 L361.7 345.4 L361.5 347.7 L359.8 349.2 L358.1 350.6 L356.1 350.2 L354.2 349.6 L353.2 352.1 L352.3 354.4 L352.0 356.2 L350.7 357.3 L349.4 360.2 L348.2 361.8 L347.8 363.7 L347.5 365.5 L346.5 367.0 L346.4 368.8 L345.5 370.4 L345.7 372.3 L344.6 373.7 L343.8 375.7 L343.0 377.6 L340.9 379.1 L338.8 380.5 L337.0 380.6 L335.9 382.0 L333.0 383.4 L331.4 384.0 L330.1 385.3 L328.4 385.8 L327.2 387.2 L325.3 389.1 L323.4 391.1 L321.8 391.9 L320.5 393.0 L319.4 394.5 L317.6 394.9 L315.1 396.5 L312.8 397.8 L310.3 396.9 L307.9 395.9 L305.1 395.3 L302.2 394.9 L300.4 394.7 L298.7 394.0 L297.0 393.5 L295.4 393.0 L292.5 391.6 L290.8 391.4 L289.6 390.1 L287.1 388.8 L284.8 387.2 L282.9 385.3 L281.0 383.4 L281.2 381.3 L280.2 379.5 L279.6 377.6 L279.4 375.7 L278.6 373.8 L278.6 371.8 L278.8 369.8 L278.1 367.9 L277.6 366.0 L278.3 364.1 L279.0 362.2 L278.6 360.2" fill="none" stroke="#6b6b6b" stroke-width="1.6" stroke-linejoin="round" stroke-linecap="round"/>
<path d="M728.3 150.6 L730.9 151.6 L733.5 153.2 L735.0 154.4 L736.9 155.0 L738.6 155.6 L740.0 156.8 L742.1 158.3 L743.9 160.2 L742.3 162.0 L740.8 164.1 L740.6 165.7 L739.7 167.2 L738.8 168.7 L738.7 170.6 L739.3 172.2 L739.5 173.9 L740.0 177.0 L739.6 179.1 L738.7 180.9 L737.9 182.9 L737.4 184.8 L736.6 186.6 L735.6 188.2 L734.5 189.6 L734.0 191.3 L732.7 193.9 L731.4 196.5 L731.4 198.9 L730.9 201.2 L730.3 203.4 L730.4 205.6 L729.9 207.4 L729.1 209.0 L728.5 210.8 L727.7 212.4 L727.4 214.2 L727.0 216.0 L726.2 217.5 L726.0 219.1 L725.7 220.7 L725.4 223.0 L724.4 225.1 L723.3 226.5 L722.6 228.2 L721.8 229.8 L721.1 231.3 L720.3 232.8 L719.2 234.2 L717.9 235.7 L717.1 237.5 L716.2 239.1 L715.3 240.7 L713.7 242.1 L712.7 244.0 L711.2 245.5 L710.1 247.2 L709.1 249.0 L708.8 251.1 L708.1 253.0 L707.5 254.9 L707.0 256.9 L706.7 258.8 L706.4 260.8 L706.2 262.7 L705.7 265.6 L704.9 268.5 L703.4 268.7 L701.8 268.5 L700.8 267.7 L699.7 266.6 L699.7 263.5 L699.5 261.8 L699.7 260.1 L699.1 258.3 L697.9 256.8 L696.7 255.3 L695.8 253.6 L694.7 252.2 L693.2 251.1 L692.2 249.5 L690.6 248.5 L689.4 246.8 L688.0 245.3 L686.5 243.8 L685.4 242.0 L684.6 239.9 L683.4 238.1 L682.6 236.1 L681.5 234.2 L680.0 232.5 L679.0 230.5 L677.4 228.9 L676.4 226.9 L677.0 224.8 L677.7 222.7 L677.9 220.6 L679.0 218.6 L679.5 216.9 L679.5 215.1 L679.7 213.4 L679.9 211.7 L680.0 209.9 L680.2 208.2 L681.0 206.6 L681.5 204.8 L682.5 203.4 L682.8 201.7 L684.0 199.7 L685.4 197.8 L686.7 195.8 L688.0 193.9 L689.1 192.2 L690.0 190.4 L691.2 188.7 L692.3 187.0 L693.4 185.3 L694.5 183.5 L695.5 181.8 L696.7 180.1 L697.6 178.3 L698.8 176.6 L699.6 174.7 L701.0 173.2 L702.7 171.4 L703.6 169.3 L704.8 167.2 L706.2 165.4 L707.5 163.6 L708.8 162.0 L710.1 160.4 L711.4 158.9 L713.1 158.7 L714.6 158.2 L716.1 157.3 L718.3 156.5 L720.5 155.8 L722.6 153.9 L724.4 152.4 L726.5 151.1 L728.3 150.6" fill="none" stroke="#6b6b6b" stroke-width="1.9" stroke-linejoin="round"/>
<path d="M387.1 279.6 L386.5 280.6 L384.5 280.5 L383.4 279.6 L384.7 278.7 L386.3 278.5Z M391.2 276.0 L390.4 278.0 L388.6 277.8 L387.9 276.0 L388.7 274.3 L390.2 274.1Z M386.8 272.3 L385.9 273.5 L384.0 273.4 L383.0 272.3 L384.2 271.1 L386.1 271.1Z M394.0 272.0 L393.1 273.7 L391.8 273.3 L391.0 272.0 L391.7 270.2 L393.2 270.7Z M388.9 280.5 L387.6 281.1 L385.5 281.2 L384.2 280.5 L385.6 279.8 L387.4 279.8Z M386.7 276.9 L385.5 278.2 L383.3 278.1 L382.3 276.9 L383.3 275.7 L385.2 275.7Z M387.2 275.8 L386.7 276.8 L386.0 276.5 L385.6 275.8 L386.1 274.8 L386.7 274.9Z M389.8 276.5 L389.4 277.4 L388.3 277.3 L387.9 276.5 L388.2 275.6 L389.4 275.5Z M387.4 276.1 L387.1 276.7 L385.9 276.7 L385.4 276.1 L385.9 275.4 L386.9 275.6Z M394.8 277.0 L394.1 277.7 L392.4 278.0 L391.5 277.0 L392.3 276.2 L394.0 276.1Z M427.0 279.6 L426.8 280.3 L425.9 280.3 L425.7 279.6 L426.0 279.1 L426.7 278.9Z M426.2 278.2 L425.4 279.1 L423.8 279.2 L423.0 278.2 L423.8 277.0 L425.6 277.3Z M423.2 277.2 L422.3 278.0 L420.6 278.2 L419.9 277.2 L420.8 276.4 L422.2 276.4Z M420.6 275.8 L420.0 277.5 L418.0 277.8 L417.0 275.8 L418.1 273.6 L419.9 274.1Z M427.6 276.8 L427.0 277.6 L425.6 277.7 L424.8 276.8 L425.5 276.0 L426.9 275.8Z M414.9 273.2 L414.2 274.2 L412.7 274.1 L411.9 273.2 L412.9 272.1 L414.1 272.0Z M419.6 279.2 L419.1 280.8 L417.5 280.8 L417.0 279.2 L417.6 277.8 L419.0 277.8Z M417.5 273.2 L417.0 273.9 L415.8 274.0 L415.2 273.2 L415.6 272.5 L416.9 272.5Z M421.7 280.0 L420.9 280.9 L419.4 280.8 L418.2 280.0 L419.2 279.0 L421.1 279.2Z M427.4 278.6 L426.6 280.3 L424.5 280.2 L423.8 278.6 L424.5 276.9 L426.3 277.0Z M424.9 278.5 L424.3 280.4 L423.1 280.1 L422.5 278.5 L423.1 276.6 L424.3 276.4Z M428.4 274.1 L427.2 275.9 L425.5 275.8 L424.4 274.1 L425.4 272.5 L427.3 272.5Z M420.9 276.7 L420.2 278.3 L418.7 278.3 L418.2 276.7 L418.6 274.9 L420.2 275.1Z M421.1 278.8 L420.5 280.6 L419.4 280.5 L418.8 278.8 L419.5 277.1 L420.6 277.1Z M439.3 265.5 L438.6 266.9 L437.3 266.9 L436.7 265.5 L437.4 264.2 L438.6 264.3Z M445.3 259.8 L445.0 261.5 L444.3 261.6 L444.0 259.8 L444.3 257.8 L444.9 258.1Z M441.0 261.8 L439.5 263.0 L437.4 262.8 L436.3 261.8 L437.2 260.7 L439.7 260.8Z M449.6 264.7 L449.0 265.7 L447.2 265.4 L446.5 264.7 L447.4 263.8 L449.2 264.0Z M446.1 269.4 L445.6 271.0 L444.1 271.1 L443.4 269.4 L444.1 267.7 L445.4 267.9Z M447.1 259.8 L446.4 261.0 L444.6 261.3 L443.5 259.8 L444.5 258.3 L446.4 258.2Z M441.1 259.4 L440.0 260.7 L438.2 260.7 L437.2 259.4 L438.0 258.3 L440.3 258.3Z M448.1 269.5 L447.2 271.4 L445.3 271.1 L444.5 269.5 L445.4 267.8 L447.0 267.5Z M441.9 268.6 L441.4 270.7 L440.1 270.4 L439.2 268.6 L439.9 266.8 L441.3 266.7Z M449.7 260.2 L449.3 261.2 L448.5 261.1 L448.0 260.2 L448.5 259.2 L449.5 259.3Z M452.1 264.2 L451.2 265.2 L449.6 265.4 L448.7 264.2 L449.6 263.3 L451.3 263.1Z M444.0 263.6 L443.1 265.0 L441.9 264.8 L441.4 263.6 L442.1 262.3 L443.2 262.1Z M445.8 269.9 L444.7 271.5 L442.9 271.5 L442.1 269.9 L442.9 267.9 L444.8 268.2Z M450.3 270.9 L449.4 271.8 L447.8 271.6 L446.9 270.9 L447.7 270.1 L449.4 270.0Z M450.5 270.6 L449.5 272.0 L447.7 271.8 L446.5 270.6 L447.5 269.4 L449.5 269.3Z M448.1 261.5 L447.0 262.9 L445.3 262.7 L444.3 261.5 L445.3 260.4 L447.0 260.3Z M464.9 246.5 L464.4 247.4 L463.0 247.3 L462.2 246.5 L463.1 245.6 L464.3 245.8Z M462.4 251.0 L461.5 252.9 L459.2 252.6 L457.9 251.0 L459.2 249.2 L461.3 249.1Z M476.0 248.3 L475.1 249.3 L473.5 249.3 L472.8 248.3 L473.5 247.5 L475.1 247.3Z M463.4 246.6 L463.0 248.7 L461.9 248.6 L461.4 246.6 L461.9 244.5 L463.0 244.5Z M477.2 257.1 L476.4 257.8 L474.6 257.9 L473.7 257.1 L474.5 256.2 L476.5 256.2Z M466.7 254.4 L466.2 256.4 L464.2 256.2 L463.3 254.4 L464.3 252.6 L466.0 252.8Z M478.2 246.3 L477.4 247.7 L475.9 247.6 L475.2 246.3 L475.8 245.0 L477.6 244.7Z M470.6 247.7 L469.9 248.4 L468.4 248.4 L467.6 247.7 L468.5 246.9 L469.9 246.9Z M479.4 258.0 L478.6 258.9 L476.9 259.0 L476.3 258.0 L476.9 257.0 L478.5 256.9Z M479.5 253.6 L478.1 255.6 L476.1 255.3 L474.8 253.6 L476.3 252.1 L478.2 252.0Z M470.6 251.2 L469.8 252.3 L468.2 252.5 L467.6 251.2 L468.5 250.2 L470.1 249.9Z M464.0 249.6 L463.2 250.2 L461.1 250.2 L460.5 249.6 L461.1 248.9 L463.3 248.9Z M461.0 254.4 L460.4 255.9 L459.4 255.6 L458.9 254.4 L459.5 253.0 L460.5 252.9Z M470.9 250.1 L469.5 250.9 L467.2 250.9 L466.1 250.1 L467.2 249.4 L469.6 249.4Z M468.9 248.0 L468.2 249.1 L466.5 248.9 L465.8 248.0 L466.4 246.9 L468.2 247.0Z M467.4 256.2 L466.7 257.4 L465.5 257.7 L465.1 256.2 L465.4 255.0 L466.8 254.7Z M477.8 246.5 L477.5 247.5 L476.7 247.3 L476.4 246.5 L476.7 245.6 L477.5 245.8Z M475.5 254.2 L474.9 255.1 L473.8 255.3 L473.4 254.2 L473.8 253.1 L474.8 253.3Z M463.3 251.9 L462.9 253.5 L462.2 253.6 L461.9 251.9 L462.1 250.3 L462.9 250.1Z M478.8 259.3 L477.7 261.1 L475.9 260.9 L475.4 259.3 L475.9 257.4 L477.7 257.6Z M461.2 249.3 L460.4 250.7 L458.2 251.1 L457.5 249.3 L458.1 248.0 L460.6 247.9Z M469.0 259.1 L468.1 260.8 L466.4 260.7 L465.3 259.1 L466.4 257.5 L467.9 257.2Z M466.2 247.9 L465.7 248.7 L464.2 248.6 L463.7 247.9 L464.1 247.2 L465.6 247.1Z M467.8 259.4 L467.3 260.1 L466.0 260.1 L465.5 259.4 L466.1 258.8 L467.3 258.8Z M461.8 247.5 L460.9 248.5 L458.9 248.6 L458.2 247.5 L458.8 246.4 L460.9 246.6Z M467.0 246.5 L465.7 247.7 L463.6 247.6 L462.5 246.5 L463.8 245.2 L465.9 245.3Z M463.8 245.9 L463.5 246.6 L462.7 246.7 L462.3 245.9 L462.7 245.0 L463.6 245.0Z M473.2 247.2 L473.0 248.3 L472.2 248.6 L471.7 247.2 L472.1 245.8 L472.9 246.1Z M464.8 260.0 L464.4 261.5 L463.6 261.2 L463.2 260.0 L463.6 258.5 L464.4 258.4Z M476.8 251.1 L475.4 252.2 L473.4 252.2 L472.0 251.1 L473.2 249.9 L475.5 249.9Z M464.5 251.2 L464.2 252.2 L463.5 252.5 L463.0 251.2 L463.5 249.8 L464.3 250.0Z M466.3 258.3 L465.1 259.7 L463.2 259.6 L462.2 258.3 L463.1 257.1 L464.9 256.9Z M460.7 248.8 L460.1 249.8 L459.1 249.8 L458.7 248.8 L459.1 247.9 L460.2 247.8Z M464.4 258.0 L464.0 258.7 L463.1 258.8 L462.6 258.0 L463.2 257.5 L464.1 257.4Z M479.7 253.5 L478.6 254.7 L476.6 254.6 L475.4 253.5 L476.4 252.2 L478.5 252.5Z M479.3 254.8 L478.0 256.6 L476.2 256.5 L474.8 254.8 L476.0 253.2 L477.8 253.2Z M469.9 246.4 L469.3 248.4 L468.4 248.3 L467.9 246.4 L468.3 244.5 L469.4 244.9Z M478.2 258.9 L477.5 260.1 L476.3 260.3 L475.7 258.9 L476.4 257.3 L477.6 257.4Z M476.7 254.6 L476.1 256.1 L474.1 256.0 L473.4 254.6 L474.1 253.5 L475.8 253.2Z M473.2 255.3 L472.6 257.4 L471.5 257.2 L471.0 255.3 L471.5 253.6 L472.6 253.2Z M480.0 246.1 L479.1 247.9 L477.1 247.7 L475.9 246.1 L477.0 244.1 L479.1 244.3Z M474.2 245.7 L473.5 246.5 L471.3 246.5 L470.3 245.7 L471.4 244.8 L473.4 245.0Z M479.1 255.0 L478.8 255.8 L478.0 255.7 L477.5 255.0 L478.0 254.2 L478.7 254.1Z M473.7 253.5 L472.7 255.2 L470.9 255.2 L470.2 253.5 L470.8 251.4 L472.6 251.5Z M465.3 245.0 L464.4 245.7 L462.2 245.7 L461.3 245.0 L462.5 244.4 L464.3 244.4Z M478.5 246.7 L477.5 248.7 L475.4 248.3 L474.4 246.7 L475.4 244.9 L477.6 245.1Z M478.8 253.3 L477.7 254.2 L475.6 254.0 L474.6 253.3 L475.6 252.4 L477.5 252.3Z M474.4 250.0 L473.5 251.5 L471.3 251.5 L470.1 250.0 L471.2 248.1 L473.3 248.4Z M469.1 252.9 L468.8 253.4 L468.1 253.5 L467.6 252.9 L468.1 252.2 L468.9 252.3Z M472.7 252.3 L471.9 253.8 L469.8 253.6 L469.1 252.3 L469.9 250.9 L472.1 250.9Z M463.4 250.4 L462.8 251.6 L460.7 252.0 L459.8 250.4 L460.8 249.3 L462.8 249.1Z M460.9 257.6 L460.3 258.2 L458.4 258.3 L457.1 257.6 L458.3 256.8 L460.0 256.9Z M471.7 250.7 L470.9 251.7 L469.0 251.9 L468.2 250.7 L468.8 249.6 L470.9 249.7Z M465.7 252.3 L464.8 253.0 L462.5 253.1 L461.6 252.3 L462.6 251.7 L464.9 251.5Z M463.2 254.3 L462.4 255.5 L460.3 255.6 L459.1 254.3 L460.1 253.1 L462.2 253.1Z M469.8 257.9 L468.6 258.6 L466.7 258.5 L465.5 257.9 L466.8 257.2 L468.5 257.2Z M477.9 247.9 L477.2 249.8 L476.0 249.7 L475.3 247.9 L476.0 246.3 L477.3 246.5Z M468.5 257.0 L467.9 258.7 L467.0 258.9 L466.7 257.0 L466.9 255.2 L467.9 255.0Z M463.8 247.2 L463.1 248.5 L461.8 248.3 L461.1 247.2 L461.8 246.4 L463.2 246.3Z M471.9 258.6 L470.8 259.1 L468.9 259.1 L468.1 258.6 L469.0 257.9 L470.8 258.0Z M471.1 268.7 L469.9 270.4 L467.9 270.5 L466.8 268.7 L468.0 266.6 L469.7 266.9Z M472.5 270.3 L472.1 271.7 L471.4 271.5 L471.0 270.3 L471.3 269.1 L472.1 269.3Z M478.7 267.8 L477.6 268.7 L475.5 268.5 L474.3 267.8 L475.8 267.1 L477.6 267.2Z M466.6 264.2 L465.9 265.5 L464.4 265.3 L463.6 264.2 L464.6 263.1 L466.0 262.7Z M455.4 264.0 L454.9 265.9 L453.8 265.6 L453.1 264.0 L453.7 261.8 L454.9 262.3Z M474.1 263.4 L473.3 264.3 L471.5 264.3 L470.4 263.4 L471.3 262.6 L473.3 262.6Z M469.6 263.1 L469.1 264.9 L468.5 264.7 L468.1 263.1 L468.4 261.4 L469.2 261.6Z M461.2 263.9 L460.3 265.7 L458.0 265.6 L456.5 263.9 L457.8 262.3 L460.2 261.9Z M462.5 270.7 L461.7 271.9 L460.2 271.9 L459.3 270.7 L460.1 269.1 L461.8 269.2Z M460.8 270.5 L459.7 272.1 L458.2 272.4 L457.1 270.5 L458.0 268.7 L459.7 268.3Z M476.8 264.7 L476.1 265.5 L474.8 265.4 L474.0 264.7 L474.8 263.9 L476.0 263.8Z M458.5 262.6 L458.0 264.1 L457.0 263.9 L456.2 262.6 L456.9 261.0 L458.0 261.4Z M455.1 268.1 L454.6 269.1 L453.4 269.1 L453.0 268.1 L453.6 267.0 L454.7 267.1Z M474.6 266.3 L474.3 267.6 L473.0 267.5 L472.3 266.3 L473.0 265.0 L474.3 264.9Z M497.2 247.7 L496.2 248.8 L494.7 248.6 L494.1 247.7 L494.7 246.7 L496.1 246.7Z M483.3 245.6 L482.8 247.0 L481.2 247.2 L480.4 245.6 L481.3 243.9 L482.7 244.0Z M489.4 247.0 L488.9 248.7 L487.8 248.6 L487.1 247.0 L487.7 245.4 L488.9 245.4Z M495.7 242.4 L495.2 243.9 L493.6 243.6 L493.1 242.4 L493.6 240.9 L495.3 240.9Z M486.9 244.2 L486.3 245.1 L484.2 245.2 L483.2 244.2 L484.4 243.2 L486.1 243.4Z M497.4 245.9 L496.6 247.0 L494.8 246.9 L493.6 245.9 L494.8 245.0 L496.8 245.0Z M485.7 247.4 L484.6 248.7 L482.7 248.6 L481.9 247.4 L482.6 246.4 L484.6 246.2Z M485.4 239.6 L484.3 240.5 L482.6 240.7 L481.9 239.6 L482.7 238.7 L484.3 238.6Z M499.0 244.7 L498.7 246.1 L497.6 246.4 L497.2 244.7 L497.7 243.0 L498.7 243.2Z M490.3 249.1 L489.1 250.5 L487.2 250.3 L486.2 249.1 L486.9 248.0 L489.1 247.9Z M494.9 246.1 L494.1 247.9 L492.1 248.3 L490.9 246.1 L492.1 243.9 L494.0 244.3Z M484.1 241.7 L483.3 242.9 L481.7 242.5 L480.9 241.7 L481.7 240.5 L483.2 240.6Z M494.3 238.2 L493.1 239.5 L490.9 239.5 L489.7 238.2 L491.1 237.1 L493.2 236.7Z M485.1 245.6 L484.6 246.5 L483.4 246.6 L482.7 245.6 L483.3 244.8 L484.6 244.7Z M491.1 238.8 L490.7 240.6 L489.7 240.3 L489.3 238.8 L489.7 237.3 L490.8 237.2Z M495.6 237.2 L494.9 237.7 L493.0 237.7 L492.3 237.2 L493.0 236.5 L494.7 236.5Z M489.0 248.8 L488.6 249.6 L486.8 249.6 L486.2 248.8 L486.9 247.7 L488.4 247.7Z M489.4 242.1 L488.8 244.2 L488.0 243.7 L487.6 242.1 L487.9 239.8 L488.9 239.8Z M484.7 242.5 L483.8 243.6 L482.1 243.5 L481.4 242.5 L481.8 241.5 L483.8 241.2Z M500.9 240.2 L499.6 242.1 L497.4 242.2 L496.4 240.2 L497.7 238.7 L499.8 238.7Z M494.6 248.6 L494.1 250.5 L492.8 250.4 L492.0 248.6 L492.8 247.0 L494.0 247.0Z M496.9 243.7 L496.2 245.5 L494.9 245.4 L494.1 243.7 L494.7 242.1 L496.3 242.2Z M515.1 235.2 L514.5 236.0 L512.7 235.9 L512.2 235.2 L512.8 234.6 L514.3 234.6Z M516.7 236.9 L516.2 238.2 L515.5 238.2 L515.0 236.9 L515.6 235.8 L516.3 235.8Z M511.3 237.5 L510.8 238.3 L510.0 238.3 L509.6 237.5 L510.0 236.7 L510.8 236.9Z M515.4 240.6 L515.2 241.4 L514.3 241.4 L513.8 240.6 L514.2 239.8 L515.1 239.6Z M518.7 241.6 L517.8 242.6 L516.1 242.9 L515.4 241.6 L516.2 240.5 L517.6 240.6Z M523.0 234.4 L521.7 235.3 L519.8 235.5 L518.6 234.4 L519.6 233.4 L521.6 233.3Z M512.8 234.9 L512.1 236.7 L511.0 236.7 L510.6 234.9 L511.0 233.4 L512.1 233.4Z M513.4 238.7 L512.8 239.8 L511.2 239.6 L510.1 238.7 L511.0 237.4 L512.7 237.6Z M516.7 234.5 L516.5 235.4 L515.7 235.3 L515.1 234.5 L515.7 233.6 L516.4 233.7Z M518.7 237.4 L518.0 238.6 L516.9 238.9 L516.5 237.4 L516.9 235.8 L518.0 235.8Z M570.2 216.7 L569.6 218.3 L568.8 218.2 L568.5 216.7 L568.9 214.9 L569.7 215.0Z M569.8 211.7 L569.1 212.6 L566.7 212.7 L565.9 211.7 L566.8 210.7 L569.0 210.8Z M574.8 213.2 L574.1 214.4 L572.8 214.7 L571.9 213.2 L572.6 212.0 L574.2 211.9Z M569.6 215.8 L569.3 216.6 L568.4 216.6 L568.1 215.8 L568.6 215.0 L569.3 215.0Z M568.5 211.9 L568.0 213.9 L566.6 213.9 L565.8 211.9 L566.5 209.9 L567.9 210.1Z M571.9 210.8 L571.3 212.6 L570.2 212.7 L569.6 210.8 L570.2 208.9 L571.3 209.1Z M569.1 214.3 L568.2 215.7 L566.9 216.0 L566.4 214.3 L566.9 212.9 L568.2 213.0Z M571.8 214.8 L571.0 216.5 L569.7 216.1 L568.7 214.8 L569.7 213.3 L571.0 213.2Z M614.3 176.9 L613.3 177.7 L611.8 177.7 L610.7 176.9 L611.7 176.0 L613.4 176.1Z M619.5 180.4 L618.5 181.3 L616.9 181.3 L615.7 180.4 L616.8 179.6 L618.4 179.6Z M612.6 175.9 L612.0 177.6 L611.0 177.9 L610.4 175.9 L611.0 174.4 L612.0 173.9Z M623.5 173.4 L622.5 174.8 L620.4 174.6 L619.5 173.4 L620.4 172.2 L622.4 172.1Z M610.3 175.6 L609.5 176.8 L607.8 176.6 L606.7 175.6 L607.9 174.3 L609.6 174.3Z M615.9 179.0 L615.4 180.8 L614.5 180.9 L614.1 179.0 L614.5 177.3 L615.4 177.1Z M622.7 181.7 L621.8 182.5 L620.4 182.3 L619.7 181.7 L620.2 181.1 L621.9 181.2Z M603.2 174.2 L601.9 175.3 L599.6 175.3 L598.8 174.2 L599.7 173.2 L601.8 173.3Z M609.5 181.1 L608.9 182.5 L607.6 182.2 L607.1 181.1 L607.7 179.7 L608.8 179.8Z M611.2 173.6 L610.4 175.3 L608.9 175.6 L608.2 173.6 L608.9 172.0 L610.4 172.0Z M605.4 175.0 L604.6 175.6 L603.3 175.6 L602.7 175.0 L603.4 174.3 L604.6 174.4Z M612.7 180.4 L611.8 181.6 L610.1 181.6 L609.3 180.4 L610.2 179.1 L612.0 179.1Z M620.0 174.3 L619.2 175.3 L617.8 175.6 L616.9 174.3 L617.8 173.3 L619.2 173.1Z M615.4 174.0 L614.2 174.8 L612.1 174.8 L611.3 174.0 L612.1 173.4 L614.1 173.4Z M606.3 180.3 L605.1 181.4 L602.9 181.5 L602.0 180.3 L603.2 179.0 L605.3 179.3Z M610.3 175.2 L610.0 176.6 L608.7 176.8 L608.2 175.2 L608.7 173.9 L609.9 173.7Z M605.7 174.1 L605.1 174.9 L603.7 174.9 L603.1 174.1 L603.7 173.1 L605.1 173.3Z M616.1 180.4 L615.0 181.4 L613.3 181.5 L612.1 180.4 L613.4 179.2 L615.1 179.0Z M608.6 176.9 L608.3 178.6 L607.5 178.4 L607.2 176.9 L607.6 175.2 L608.2 175.2Z M608.3 175.9 L608.0 177.0 L607.1 177.3 L606.9 175.9 L607.2 174.7 L608.0 174.8Z M614.6 176.5 L613.8 177.8 L611.7 178.1 L610.9 176.5 L611.9 175.1 L613.8 175.0Z M607.8 177.7 L606.7 178.9 L604.7 179.0 L603.7 177.7 L604.6 176.5 L606.7 176.3Z M614.5 173.6 L613.9 174.9 L612.5 174.8 L611.7 173.6 L612.6 172.5 L613.9 172.3Z M610.6 176.8 L610.0 178.1 L608.4 178.3 L607.5 176.8 L608.3 175.5 L609.7 175.2Z M612.4 174.5 L611.5 176.6 L610.1 176.1 L609.5 174.5 L610.1 172.4 L611.5 172.3Z M610.0 173.3 L609.7 174.5 L609.0 174.6 L608.7 173.3 L609.0 172.1 L609.6 172.2Z M635.1 162.4 L633.5 163.6 L631.4 163.5 L630.1 162.4 L631.6 161.1 L633.7 161.1Z M634.2 162.8 L633.8 163.9 L632.7 164.2 L632.5 162.8 L632.8 161.4 L633.7 161.7Z M635.8 165.9 L635.3 167.0 L634.4 166.9 L634.2 165.9 L634.5 164.8 L635.3 164.8Z M629.6 166.1 L628.8 166.9 L627.0 166.7 L625.9 166.1 L627.0 165.4 L628.7 165.5Z M641.0 168.5 L640.2 170.1 L638.7 170.1 L637.8 168.5 L638.7 167.2 L640.2 167.1Z M630.4 154.2 L629.5 154.8 L628.1 154.8 L627.1 154.2 L628.0 153.5 L629.5 153.5Z M629.9 157.6 L629.6 159.0 L628.8 159.0 L628.5 157.6 L628.8 156.5 L629.5 156.4Z M634.0 166.6 L633.2 168.2 L631.6 168.3 L631.2 166.6 L631.6 165.3 L633.2 165.2Z M634.5 163.9 L633.9 165.0 L632.5 165.0 L631.6 163.9 L632.6 162.9 L633.8 162.8Z M641.6 168.9 L640.7 170.5 L638.5 170.7 L637.6 168.9 L638.8 167.1 L640.8 167.6Z M631.9 157.4 L631.3 158.2 L630.3 158.2 L629.8 157.4 L630.2 156.8 L631.4 156.7Z M638.5 160.0 L637.7 161.1 L635.8 161.1 L634.9 160.0 L635.7 158.8 L637.6 158.8Z M639.8 166.7 L639.5 167.4 L638.8 167.7 L638.5 166.7 L638.9 165.8 L639.5 165.7Z M640.4 161.0 L639.8 162.0 L637.6 162.4 L636.6 161.0 L637.6 159.9 L639.8 160.1Z M666.1 109.9 L665.4 111.3 L663.6 111.4 L662.7 109.9 L663.5 108.4 L665.4 108.2Z M663.9 101.0 L663.3 101.8 L662.4 101.8 L662.0 101.0 L662.4 100.0 L663.4 100.2Z M676.1 99.0 L675.2 99.9 L673.6 99.8 L672.8 99.0 L673.6 98.1 L675.1 98.2Z M667.1 104.9 L666.2 106.5 L664.0 106.1 L662.9 104.9 L664.1 103.3 L666.3 103.6Z M660.2 101.9 L659.8 103.9 L658.9 103.5 L658.5 101.9 L658.8 99.8 L659.7 99.9Z M677.7 112.2 L676.9 113.8 L675.0 114.0 L674.1 112.2 L675.2 110.8 L676.9 110.6Z M680.1 112.0 L679.4 113.5 L678.4 113.7 L678.0 112.0 L678.4 110.4 L679.4 110.3Z M670.8 111.2 L670.1 112.3 L668.5 112.5 L667.9 111.2 L668.3 109.9 L670.0 109.9Z M667.8 104.9 L667.2 105.7 L666.0 105.7 L665.5 104.9 L666.0 104.0 L667.2 104.1Z M678.4 112.1 L677.3 113.4 L675.1 113.6 L673.9 112.1 L675.2 110.6 L677.3 110.3Z M671.7 111.1 L671.1 112.3 L670.1 112.5 L669.7 111.1 L670.2 109.6 L671.0 109.7Z M669.2 99.9 L668.9 101.5 L667.9 101.0 L667.2 99.9 L667.8 98.7 L668.8 98.9Z M666.0 105.5 L665.2 106.6 L663.4 106.5 L662.5 105.5 L663.4 104.2 L665.2 104.5Z M662.9 106.1 L662.3 107.0 L661.1 106.9 L660.6 106.1 L661.2 105.0 L662.2 105.0Z M663.9 103.6 L663.5 105.1 L662.6 105.2 L662.4 103.6 L662.7 102.2 L663.5 102.4Z M680.8 104.1 L680.0 105.8 L678.1 106.2 L677.0 104.1 L678.0 102.5 L680.1 102.0Z M661.6 99.3 L661.0 100.7 L659.0 101.2 L658.3 99.3 L659.1 97.4 L661.0 97.5Z M673.8 99.6 L673.0 101.6 L671.9 101.6 L671.1 99.6 L671.8 97.7 L673.0 98.1Z M678.7 112.2 L678.1 114.0 L677.1 114.1 L676.5 112.2 L677.1 110.7 L678.0 110.5Z M667.7 110.5 L667.2 112.3 L666.4 112.3 L665.9 110.5 L666.4 108.3 L667.3 108.3Z M672.6 110.6 L672.2 112.1 L671.3 111.9 L670.8 110.6 L671.2 109.2 L672.1 109.0Z M672.5 108.0 L671.8 109.5 L670.5 109.4 L669.9 108.0 L670.5 106.2 L671.9 106.2Z M667.1 102.3 L666.6 103.7 L665.8 104.0 L665.2 102.3 L665.6 100.6 L666.6 100.8Z M662.3 100.9 L661.7 102.6 L661.0 102.2 L660.5 100.9 L661.0 99.6 L661.7 99.4Z M671.4 107.1 L671.1 108.2 L670.3 108.5 L670.0 107.1 L670.3 106.0 L671.0 105.9Z M667.0 98.3 L666.5 100.1 L665.8 100.5 L665.6 98.3 L665.9 96.7 L666.6 96.4Z M662.7 102.4 L662.1 103.6 L661.0 103.6 L660.4 102.4 L661.1 101.1 L662.1 100.9Z M661.8 105.7 L661.2 107.4 L659.9 107.1 L659.5 105.7 L660.0 103.7 L661.2 104.2Z M660.4 103.0 L659.8 105.0 L658.3 105.2 L657.7 103.0 L658.3 100.9 L659.8 101.2Z M671.5 105.7 L670.7 106.9 L668.9 106.8 L668.4 105.7 L669.0 104.7 L670.6 104.7Z M661.7 106.3 L660.7 108.0 L658.6 108.1 L657.8 106.3 L658.6 104.4 L660.8 104.7Z M666.5 109.8 L665.4 110.8 L663.4 110.7 L662.2 109.8 L663.3 108.8 L665.5 108.8Z M672.2 103.4 L671.9 104.6 L670.9 104.3 L670.5 103.4 L670.8 102.3 L671.9 102.5Z M664.0 103.3 L663.6 104.6 L662.9 104.4 L662.4 103.3 L662.9 102.0 L663.6 102.3Z M662.5 111.3 L661.5 111.9 L659.9 111.9 L659.3 111.3 L659.9 110.7 L661.6 110.7Z M676.8 100.2 L675.9 101.7 L674.5 101.5 L673.9 100.2 L674.5 98.7 L676.0 98.8Z M667.4 102.1 L666.8 103.0 L665.3 102.8 L664.6 102.1 L665.3 101.4 L666.6 101.3Z M679.2 98.7 L678.1 99.6 L676.3 99.7 L675.2 98.7 L676.0 97.9 L678.3 97.9Z M666.2 104.1 L665.7 104.9 L665.0 104.8 L664.7 104.1 L664.9 103.2 L665.7 103.2Z M668.7 105.1 L667.4 107.3 L665.6 106.8 L664.6 105.1 L665.5 103.2 L667.8 103.2Z M660.8 106.9 L660.3 108.3 L659.5 108.6 L658.9 106.9 L659.5 105.4 L660.4 105.3Z M667.3 113.9 L666.5 114.8 L665.0 114.7 L664.4 113.9 L665.1 113.0 L666.6 113.2Z M661.4 101.3 L660.1 102.1 L658.2 102.3 L657.0 101.3 L658.0 100.5 L660.0 100.6Z M670.2 103.7 L669.6 105.6 L668.4 105.2 L667.7 103.7 L668.4 102.3 L669.7 102.0Z M665.2 110.5 L664.3 112.4 L662.7 112.2 L661.5 110.5 L662.7 108.6 L664.3 108.5Z M671.1 114.4 L670.6 115.9 L669.3 115.7 L668.6 114.4 L669.3 113.0 L670.6 113.2Z M674.0 112.9 L673.1 113.5 L671.1 113.6 L670.1 112.9 L671.1 112.2 L673.1 112.1Z M664.2 106.9 L662.8 108.0 L660.8 108.4 L660.2 106.9 L661.0 105.5 L662.9 105.7Z M666.6 115.3 L665.8 115.9 L664.6 115.9 L663.9 115.3 L664.7 114.5 L665.8 114.7Z M661.6 97.1 L661.0 97.8 L659.0 97.8 L658.1 97.1 L659.3 96.4 L661.0 96.4Z M676.3 113.4 L675.2 114.9 L672.9 115.2 L671.8 113.4 L673.0 111.5 L675.2 112.0Z M669.7 108.6 L668.9 110.4 L666.8 110.2 L665.8 108.6 L667.0 106.9 L668.7 107.1Z M665.9 111.4 L665.6 112.5 L664.6 112.4 L664.1 111.4 L664.7 110.3 L665.5 110.3Z M680.9 105.7 L680.5 107.3 L679.4 107.3 L679.0 105.7 L679.3 104.2 L680.5 104.2Z M669.2 96.6 L668.9 97.4 L668.1 97.5 L667.7 96.6 L668.1 95.7 L668.9 95.6Z M672.9 124.2 L672.3 126.3 L670.6 126.3 L669.5 124.2 L670.5 122.3 L672.1 122.3Z M674.2 119.0 L673.0 120.3 L671.3 120.5 L670.6 119.0 L671.3 117.3 L673.1 117.6Z M673.7 124.0 L672.9 125.6 L671.7 125.9 L671.2 124.0 L671.7 122.3 L672.9 122.6Z M673.4 118.6 L672.5 119.6 L670.4 119.6 L669.2 118.6 L670.5 117.5 L672.6 117.5Z M674.0 125.4 L672.9 126.2 L671.2 126.3 L670.7 125.4 L671.3 124.5 L672.9 124.7Z M674.6 123.8 L674.1 125.4 L673.2 125.2 L672.8 123.8 L673.3 122.4 L674.1 122.2Z M700.4 70.9 L699.5 71.6 L697.7 71.8 L696.6 70.9 L697.7 70.0 L699.5 70.2Z M701.3 71.0 L700.0 72.6 L697.9 72.6 L696.8 71.0 L698.0 69.6 L700.0 69.6Z M697.4 94.0 L696.9 95.0 L695.8 95.1 L695.3 94.0 L695.9 92.9 L697.0 93.1Z M694.4 77.2 L693.8 77.9 L692.7 78.1 L692.2 77.2 L692.7 76.4 L693.9 76.4Z M698.7 91.1 L697.5 91.8 L695.4 91.9 L694.3 91.1 L695.3 90.2 L697.2 90.2Z M698.7 82.6 L698.4 83.8 L697.3 83.9 L696.9 82.6 L697.3 81.6 L698.4 81.4Z M688.7 72.4 L688.2 73.4 L686.5 73.6 L685.7 72.4 L686.5 71.5 L688.2 71.3Z M691.9 92.4 L691.3 93.5 L689.5 93.3 L688.8 92.4 L689.5 91.0 L691.2 91.4Z M697.9 93.9 L697.2 95.7 L695.7 95.6 L694.9 93.9 L696.0 92.0 L697.2 92.3Z M680.1 73.9 L679.4 75.5 L678.5 75.4 L678.1 73.9 L678.5 72.3 L679.4 72.0Z M694.1 87.4 L693.6 88.5 L692.4 88.9 L692.0 87.4 L692.4 86.3 L693.6 86.2Z M697.8 72.9 L697.6 73.5 L696.7 73.5 L696.2 72.9 L696.7 72.3 L697.5 72.3Z M689.9 90.3 L689.2 91.3 L687.6 91.5 L686.7 90.3 L687.6 89.1 L689.3 89.2Z M691.2 74.8 L690.0 75.8 L687.9 76.0 L687.0 74.8 L687.9 73.6 L690.2 73.7Z M685.1 77.9 L684.4 78.9 L682.6 78.9 L681.3 77.9 L682.4 76.8 L684.5 76.8Z M698.9 78.5 L698.1 79.2 L696.6 79.2 L696.1 78.5 L696.9 77.7 L698.1 77.7Z M698.8 89.2 L698.2 90.0 L696.7 90.0 L695.9 89.2 L696.9 88.5 L698.1 88.4Z M690.8 79.4 L690.0 81.3 L687.7 81.0 L686.7 79.4 L687.8 77.5 L689.7 77.8Z M694.7 77.3 L694.4 79.3 L693.7 79.2 L693.2 77.3 L693.7 75.4 L694.3 75.8Z M699.6 74.3 L699.0 75.7 L697.6 75.3 L696.8 74.3 L697.4 73.0 L698.9 73.2Z M699.7 71.6 L699.2 73.4 L698.5 73.2 L698.0 71.6 L698.5 70.2 L699.3 69.8Z M692.0 81.4 L691.3 82.8 L689.4 82.6 L688.8 81.4 L689.6 80.1 L691.4 79.9Z M693.8 76.6 L693.4 77.2 L692.6 77.1 L692.3 76.6 L692.7 76.1 L693.4 76.0Z M686.7 85.8 L686.1 87.0 L685.0 87.0 L684.5 85.8 L684.8 84.8 L686.1 84.6Z M692.8 87.1 L692.4 87.9 L690.8 88.1 L690.0 87.1 L690.6 86.2 L692.1 86.0Z M698.0 89.3 L696.8 91.4 L694.7 90.9 L693.4 89.3 L694.8 87.8 L696.8 87.5Z M708.7 67.2 L708.4 68.5 L707.0 68.5 L706.3 67.2 L707.1 65.9 L708.3 65.9Z M709.4 70.2 L709.0 71.8 L707.8 71.8 L707.1 70.2 L707.8 68.8 L709.0 68.7Z M703.5 64.1 L702.8 64.8 L701.6 64.9 L700.9 64.1 L701.6 63.3 L702.7 63.4Z M715.5 64.3 L714.7 65.8 L712.6 66.3 L711.8 64.3 L712.5 62.5 L714.6 62.7Z M707.6 74.2 L706.9 75.5 L705.1 75.7 L704.1 74.2 L705.1 72.8 L707.0 72.6Z M703.9 66.8 L703.2 67.9 L701.6 67.9 L700.6 66.8 L701.5 65.7 L703.2 65.8Z M706.6 64.3 L706.1 65.7 L705.0 66.1 L704.5 64.3 L705.0 62.5 L706.0 62.8Z M709.4 66.2 L708.2 67.7 L706.5 68.3 L705.4 66.2 L706.7 64.1 L708.4 64.5Z M708.5 59.7 L707.7 61.3 L705.5 61.6 L704.4 59.7 L705.3 58.3 L707.6 57.8Z M715.6 67.9 L714.8 68.6 L713.8 68.8 L713.2 67.9 L713.8 67.1 L714.8 67.0Z M662.5 220.0 L661.5 220.8 L659.3 221.1 L658.2 220.0 L659.1 219.1 L661.4 219.0Z M664.3 218.0 L663.5 218.7 L661.9 218.9 L661.1 218.0 L661.6 217.2 L663.4 217.4Z M657.6 211.8 L656.9 212.6 L655.0 212.8 L653.7 211.8 L655.0 210.9 L656.9 210.9Z M662.2 210.5 L661.3 212.2 L659.3 212.2 L657.9 210.5 L659.2 208.6 L661.1 208.6Z M660.0 223.8 L659.6 225.7 L658.8 225.4 L658.3 223.8 L658.8 221.9 L659.7 222.2Z M665.5 207.2 L664.6 208.6 L662.5 208.4 L661.8 207.2 L662.7 205.8 L664.6 206.1Z M665.8 208.4 L664.9 210.0 L663.5 210.1 L662.8 208.4 L663.5 206.3 L664.9 206.9Z M662.1 210.3 L661.7 212.2 L661.1 212.0 L660.6 210.3 L661.1 208.6 L661.8 208.5Z M660.8 223.7 L660.4 225.1 L659.4 225.6 L659.1 223.7 L659.5 222.1 L660.4 221.7Z M663.8 222.2 L663.4 223.4 L662.7 223.4 L662.4 222.2 L662.6 221.0 L663.4 221.3Z M657.5 219.0 L656.7 221.0 L655.4 221.0 L654.8 219.0 L655.5 217.3 L656.7 217.0Z M661.2 219.4 L659.9 220.3 L657.9 220.4 L657.1 219.4 L657.8 218.4 L660.0 218.4Z M662.3 223.0 L661.3 224.0 L660.0 224.1 L659.0 223.0 L659.9 221.9 L661.4 221.7Z M659.1 219.6 L658.5 220.8 L657.5 221.2 L657.2 219.6 L657.5 218.0 L658.5 218.2Z M661.7 215.1 L661.1 216.5 L660.2 216.3 L659.9 215.1 L660.2 213.7 L661.1 213.6Z M665.1 210.5 L664.5 212.0 L663.4 212.2 L662.9 210.5 L663.2 209.0 L664.6 208.6Z M264.5 277.3 L263.9 278.2 L262.7 278.1 L262.3 277.3 L262.7 276.4 L264.0 276.5Z M270.3 274.9 L269.7 275.9 L268.3 276.1 L267.4 274.9 L268.4 273.6 L269.6 273.5Z M266.8 271.6 L265.8 272.7 L264.0 272.6 L263.1 271.6 L264.0 270.6 L265.7 270.7Z M274.5 279.0 L273.6 280.9 L271.4 280.8 L270.7 279.0 L271.6 277.4 L273.6 277.3Z M266.3 271.3 L265.2 272.9 L263.4 272.6 L262.5 271.3 L263.3 270.1 L265.2 269.8Z M266.0 277.5 L264.8 279.3 L262.7 279.4 L261.7 277.5 L262.8 275.7 L264.6 276.1Z M264.6 272.2 L264.3 273.9 L263.6 274.3 L263.2 272.2 L263.6 270.6 L264.3 270.3Z M265.6 278.2 L264.7 279.4 L263.3 279.7 L262.8 278.2 L263.4 276.8 L264.9 276.9Z M271.1 279.6 L270.4 280.6 L269.0 280.5 L267.9 279.6 L268.9 278.5 L270.4 278.5Z M264.4 274.7 L263.2 275.6 L261.2 275.4 L259.7 274.7 L261.0 273.9 L263.4 273.8Z M273.4 276.8 L273.1 277.6 L272.2 277.7 L271.7 276.8 L272.3 275.9 L273.1 275.9Z M274.0 274.1 L273.5 275.4 L272.0 275.6 L271.5 274.1 L272.0 272.8 L273.4 272.9Z M263.5 277.9 L262.6 279.2 L261.1 279.0 L260.3 277.9 L261.2 276.7 L262.7 276.5Z M268.2 279.4 L267.4 280.6 L265.3 280.6 L264.0 279.4 L265.2 278.1 L267.1 278.0Z M262.7 270.1 L262.1 270.8 L261.2 270.7 L260.8 270.1 L261.1 269.4 L262.1 269.3Z M272.8 275.6 L272.5 277.4 L271.5 277.6 L270.9 275.6 L271.5 273.6 L272.5 274.1Z M319.2 282.6 L318.6 284.0 L317.2 284.0 L316.3 282.6 L317.3 281.4 L318.6 281.1Z M314.9 284.8 L314.3 285.6 L313.2 285.6 L312.7 284.8 L313.2 284.0 L314.4 284.0Z M312.8 277.1 L312.5 278.0 L311.3 278.1 L310.6 277.1 L311.2 276.1 L312.4 276.1Z M310.8 277.8 L310.1 279.3 L308.9 279.1 L308.3 277.8 L309.0 276.5 L310.1 276.6Z M312.0 275.1 L311.5 276.3 L310.5 276.7 L310.1 275.1 L310.4 273.6 L311.5 273.7Z M315.4 282.0 L314.5 283.3 L312.9 283.4 L311.6 282.0 L312.8 280.9 L314.6 281.0Z M311.1 282.0 L310.3 283.2 L308.4 283.1 L307.4 282.0 L308.6 280.7 L310.3 280.9Z M319.6 277.5 L318.9 279.2 L316.5 279.2 L315.2 277.5 L316.5 275.9 L318.9 275.7Z M320.6 284.3 L320.2 285.8 L319.0 285.8 L318.7 284.3 L319.1 282.9 L320.2 283.1Z M319.9 282.7 L319.3 283.5 L318.0 283.5 L317.5 282.7 L318.2 282.1 L319.4 281.9Z M318.7 275.5 L318.2 276.1 L316.4 276.0 L315.4 275.5 L316.2 274.9 L317.9 274.9Z M315.5 279.4 L315.1 280.5 L314.3 280.4 L313.9 279.4 L314.2 278.0 L315.1 278.0Z M346.9 314.2 L346.0 316.1 L344.0 316.3 L343.3 314.2 L344.1 312.6 L346.1 312.5Z M340.8 312.9 L339.5 314.8 L337.4 314.7 L336.5 312.9 L337.5 311.0 L339.6 311.3Z M343.2 301.2 L342.5 303.2 L341.0 303.4 L340.4 301.2 L341.1 299.3 L342.5 299.6Z M338.9 305.0 L338.2 306.1 L335.9 306.3 L334.6 305.0 L335.9 304.0 L338.0 303.9Z M340.2 304.9 L339.0 305.9 L337.0 306.0 L335.9 304.9 L337.2 303.9 L339.3 303.8Z M342.2 312.7 L341.1 314.0 L339.4 313.9 L338.1 312.7 L339.2 311.6 L341.1 311.2Z M337.6 311.3 L337.2 312.0 L336.4 311.9 L336.1 311.3 L336.5 310.6 L337.2 310.7Z M338.9 314.3 L338.5 316.1 L337.3 315.9 L336.7 314.3 L337.3 313.0 L338.6 313.0Z M338.5 299.9 L338.0 301.2 L337.2 301.4 L336.8 299.9 L337.2 298.2 L338.0 298.6Z M345.6 302.5 L345.1 303.2 L344.1 303.1 L343.6 302.5 L344.0 302.0 L345.1 302.0Z M343.2 304.5 L342.9 306.0 L342.0 306.2 L341.6 304.5 L342.1 302.9 L342.9 303.0Z M342.9 308.2 L342.4 309.5 L341.6 309.4 L341.1 308.2 L341.6 306.9 L342.4 307.0Z M342.4 307.8 L342.0 309.3 L341.0 309.8 L340.5 307.8 L341.2 305.7 L342.1 305.7Z M346.8 314.2 L345.7 315.8 L343.4 315.6 L342.4 314.2 L343.5 312.8 L345.9 312.7Z M389.1 277.2 L388.0 278.2 L386.5 278.4 L385.5 277.2 L386.6 275.9 L388.0 275.7Z M390.1 278.0 L388.9 279.4 L387.2 279.3 L386.0 278.0 L387.0 276.7 L389.0 276.6Z M392.7 273.6 L392.4 274.8 L391.7 274.8 L391.4 273.6 L391.8 272.5 L392.4 272.7Z M395.3 272.3 L394.0 273.3 L392.3 273.3 L391.1 272.3 L392.2 271.3 L394.2 271.4Z M390.2 272.1 L389.5 273.8 L386.9 273.8 L385.7 272.1 L387.3 270.6 L389.3 270.3Z M397.9 276.6 L397.7 277.7 L396.9 277.7 L396.6 276.6 L396.9 275.5 L397.6 275.7Z M394.0 272.7 L393.2 273.7 L390.7 274.0 L390.0 272.7 L390.7 271.8 L393.1 271.5Z M388.1 278.2 L387.7 280.3 L386.7 280.3 L386.4 278.2 L386.7 276.3 L387.7 276.2Z M567.1 212.2 L565.8 212.8 L564.3 212.8 L563.3 212.2 L564.1 211.4 L565.9 211.4Z M569.5 212.7 L569.1 214.3 L568.2 214.3 L567.7 212.7 L568.1 211.4 L569.1 211.0Z M585.5 202.6 L584.6 203.7 L583.3 203.8 L582.5 202.6 L583.4 201.5 L584.6 201.6Z M595.6 194.2 L594.6 195.4 L592.5 195.2 L591.6 194.2 L592.3 193.2 L594.7 192.9Z M573.7 209.0 L572.8 209.9 L570.6 209.9 L569.6 209.0 L570.8 208.1 L572.8 208.3Z M576.2 209.8 L574.9 211.4 L572.8 211.4 L571.6 209.8 L572.9 208.3 L574.8 207.9Z M577.4 209.3 L576.5 210.1 L574.2 210.0 L573.5 209.3 L574.4 208.8 L576.5 208.7Z M591.5 202.1 L591.1 203.6 L590.0 203.9 L589.5 202.1 L590.0 200.3 L591.0 200.4Z M587.4 202.2 L586.8 202.8 L585.8 202.8 L585.4 202.2 L585.8 201.5 L586.9 201.6Z M577.5 207.0 L576.7 208.5 L575.0 208.9 L573.9 207.0 L574.9 205.4 L576.5 205.3Z M599.4 200.6 L598.7 201.7 L596.9 201.4 L596.1 200.6 L596.6 199.6 L598.6 199.6Z M574.9 210.5 L573.7 211.2 L572.1 211.1 L571.1 210.5 L572.1 209.6 L573.6 209.8Z M577.0 210.5 L576.1 211.2 L574.1 211.2 L573.1 210.5 L574.2 209.9 L576.1 209.9Z M582.9 207.5 L582.0 208.5 L579.9 208.4 L578.6 207.5 L579.9 206.5 L582.0 206.6Z M583.6 205.4 L583.1 206.6 L581.1 206.8 L579.8 205.4 L581.1 203.9 L582.8 204.1Z M568.9 214.0 L568.5 214.8 L567.6 214.9 L567.0 214.0 L567.6 213.1 L568.4 213.3Z M579.2 209.8 L578.8 210.9 L577.4 210.9 L576.7 209.8 L577.3 208.5 L578.8 208.7Z M590.1 199.6 L589.4 201.2 L587.9 200.8 L587.0 199.6 L587.7 198.0 L589.3 198.1Z M567.4 210.2 L566.7 211.8 L565.0 211.7 L563.9 210.2 L564.8 208.5 L566.8 208.7Z M598.6 196.0 L597.7 198.2 L595.9 197.9 L594.9 196.0 L595.8 194.1 L597.8 193.7Z M575.3 206.7 L574.7 207.5 L573.6 207.4 L573.1 206.7 L573.6 206.0 L574.7 205.8Z M566.8 214.5 L566.4 215.9 L565.7 215.6 L565.2 214.5 L565.7 213.0 L566.5 213.0Z M572.3 211.6 L571.7 212.3 L570.6 212.5 L569.8 211.6 L570.5 210.7 L571.8 210.8Z M583.7 205.9 L582.5 207.1 L580.2 207.2 L579.3 205.9 L580.3 204.8 L582.2 204.9Z M585.0 204.4 L584.4 205.4 L582.5 205.7 L581.4 204.4 L582.7 203.3 L584.3 203.2Z M570.4 212.6 L569.4 214.3 L567.5 214.3 L566.7 212.6 L567.5 211.0 L569.5 210.8Z M642.2 152.1 L641.3 153.3 L639.1 153.4 L638.1 152.1 L638.9 150.6 L641.1 150.7Z M661.1 142.8 L660.0 144.3 L658.2 144.0 L657.1 142.8 L658.1 141.7 L660.1 141.3Z M673.0 137.9 L672.7 139.7 L672.0 139.4 L671.6 137.9 L672.0 136.2 L672.7 136.2Z M641.8 154.7 L641.1 156.4 L639.0 156.5 L638.3 154.7 L639.1 153.2 L640.9 152.9Z M668.0 135.4 L667.6 137.1 L666.8 137.1 L666.2 135.4 L666.7 133.7 L667.6 133.7Z M641.4 149.3 L641.1 149.8 L640.4 149.9 L640.0 149.3 L640.4 148.7 L641.1 148.6Z M650.2 147.5 L649.4 148.3 L647.3 148.4 L646.0 147.5 L647.1 146.7 L649.4 146.7Z M668.7 141.7 L667.9 143.2 L666.4 143.3 L665.6 141.7 L666.5 140.2 L668.1 140.3Z M657.1 143.7 L656.5 144.9 L655.5 144.6 L654.8 143.7 L655.6 142.6 L656.5 142.7Z M671.4 134.8 L670.8 136.2 L669.4 136.5 L668.5 134.8 L669.4 132.9 L670.6 133.1Z M656.3 144.2 L655.9 145.8 L655.0 145.6 L654.6 144.2 L655.1 142.5 L655.8 142.8Z M640.7 153.3 L640.4 153.8 L639.4 154.0 L638.9 153.3 L639.3 152.5 L640.4 152.5Z M646.2 156.4 L644.9 157.7 L642.6 157.8 L641.3 156.4 L642.9 155.2 L645.0 155.3Z M673.8 139.7 L673.3 141.1 L671.7 141.0 L671.1 139.7 L671.7 138.3 L673.1 138.2Z M647.1 153.0 L646.5 155.0 L645.4 154.9 L644.9 153.0 L645.6 151.2 L646.5 151.3Z M658.3 148.9 L657.5 149.8 L655.9 149.7 L655.0 148.9 L655.9 148.0 L657.4 148.1Z M646.0 147.0 L644.9 148.6 L642.5 148.2 L641.4 147.0 L642.7 145.7 L645.0 145.6Z M674.7 137.1 L673.5 139.1 L671.3 138.6 L670.3 137.1 L671.0 135.1 L673.2 135.1Z M651.7 145.8 L651.4 146.7 L650.4 146.7 L649.7 145.8 L650.4 144.8 L651.3 144.7Z M645.3 157.4 L644.8 158.8 L643.7 159.1 L643.4 157.4 L643.7 155.9 L644.8 155.7Z M659.3 148.3 L658.5 149.8 L657.4 150.0 L656.7 148.3 L657.3 146.4 L658.6 146.9Z M645.4 151.9 L645.2 153.9 L644.5 153.5 L644.0 151.9 L644.5 150.4 L645.1 150.2Z M665.1 144.9 L664.4 145.6 L663.1 145.6 L662.7 144.9 L663.2 144.1 L664.4 144.0Z M654.7 153.4 L654.0 154.5 L653.0 154.7 L652.5 153.4 L653.0 152.3 L654.0 152.4Z M659.5 143.4 L658.1 144.3 L656.3 144.4 L655.1 143.4 L656.2 142.3 L658.3 142.4Z M655.9 142.3 L654.9 143.8 L653.0 143.8 L651.7 142.3 L653.1 141.1 L655.1 141.1Z M674.0 140.5 L673.5 141.7 L672.6 141.7 L672.1 140.5 L672.7 139.3 L673.4 139.1Z M671.8 134.7 L671.3 136.3 L670.3 136.3 L669.8 134.7 L670.4 133.1 L671.2 133.0Z M670.3 136.9 L669.2 138.3 L667.3 138.4 L666.6 136.9 L667.5 135.7 L669.2 135.6Z M651.1 152.8 L650.2 153.4 L649.0 153.4 L648.3 152.8 L649.0 152.2 L650.3 152.3Z M658.7 143.7 L658.3 145.5 L657.4 145.2 L657.1 143.7 L657.5 142.4 L658.3 142.3Z M669.0 139.1 L668.5 140.7 L666.8 140.4 L665.6 139.1 L666.7 138.0 L668.3 137.6Z M643.3 150.5 L642.8 151.2 L641.6 151.3 L641.3 150.5 L641.7 149.8 L642.6 149.7Z M651.0 151.1 L650.5 153.0 L649.2 153.1 L648.5 151.1 L649.4 149.5 L650.5 149.3Z M622.9 177.2 L622.2 178.6 L621.1 178.5 L620.6 177.2 L621.0 175.9 L622.2 175.9Z M638.8 162.8 L637.6 164.0 L635.9 164.1 L635.1 162.8 L635.8 161.4 L637.6 161.3Z M621.1 178.5 L620.8 180.0 L619.3 180.3 L618.8 178.5 L619.4 176.8 L620.6 176.7Z M624.7 172.7 L624.0 173.5 L622.4 173.5 L621.9 172.7 L622.4 172.1 L623.8 172.0Z M625.9 174.2 L624.9 175.9 L622.7 175.8 L621.7 174.2 L622.8 172.7 L624.5 172.3Z M621.9 174.9 L621.6 176.8 L620.8 177.1 L620.4 174.9 L620.8 173.0 L621.6 173.2Z M609.1 188.1 L608.1 188.9 L606.6 188.7 L605.4 188.1 L606.3 187.3 L608.3 187.4Z M609.9 184.2 L609.4 185.3 L608.8 185.3 L608.5 184.2 L608.8 182.9 L609.5 183.1Z M609.9 184.5 L609.3 185.0 L608.6 185.1 L608.1 184.5 L608.5 183.8 L609.3 183.9Z M636.4 164.9 L635.8 165.7 L634.9 165.7 L634.5 164.9 L634.9 164.3 L635.8 164.3Z M601.8 190.8 L601.2 191.5 L599.9 191.6 L599.3 190.8 L600.1 190.1 L601.1 189.9Z M606.3 189.7 L605.8 190.9 L604.5 190.7 L603.5 189.7 L604.3 188.5 L605.8 188.7Z M621.7 176.3 L621.3 177.4 L620.5 177.5 L620.1 176.3 L620.5 174.9 L621.3 174.9Z M615.7 181.4 L614.7 182.1 L613.0 181.9 L611.7 181.4 L612.9 180.8 L614.7 180.8Z M621.6 176.2 L620.6 178.0 L618.5 177.6 L617.8 176.2 L618.7 174.7 L620.7 174.6Z M603.8 191.4 L603.5 192.1 L602.8 192.0 L602.5 191.4 L602.8 190.6 L603.6 190.7Z M624.5 174.6 L624.2 175.9 L622.8 175.7 L621.9 174.6 L622.7 173.2 L624.2 173.4Z M610.4 189.2 L609.8 189.8 L608.1 189.9 L607.6 189.2 L608.4 188.7 L609.7 188.5Z M547.4 227.3 L546.3 228.9 L544.0 228.8 L543.2 227.3 L544.2 225.5 L546.1 225.3Z M539.8 230.3 L539.1 231.1 L538.0 231.1 L537.3 230.3 L538.0 229.5 L539.1 229.6Z M544.8 226.0 L543.9 227.4 L542.3 227.7 L541.4 226.0 L542.2 224.6 L543.9 224.6Z M555.2 219.1 L554.8 220.4 L553.6 220.6 L553.0 219.1 L553.5 217.9 L554.7 217.7Z M561.8 219.5 L561.3 221.0 L559.5 220.8 L558.8 219.5 L559.6 218.1 L561.2 217.9Z M534.9 231.5 L533.9 232.8 L532.3 233.0 L531.8 231.5 L532.4 230.3 L534.0 230.2Z M547.8 224.9 L547.1 226.3 L546.2 226.7 L545.4 224.9 L546.2 223.1 L547.1 223.4Z M549.0 225.8 L548.7 226.6 L547.5 226.6 L547.0 225.8 L547.6 225.1 L548.6 225.2Z M536.0 233.5 L535.1 235.4 L533.9 234.9 L533.1 233.5 L533.8 232.1 L535.1 232.1Z M539.1 229.9 L538.1 231.9 L536.2 231.7 L535.5 229.9 L536.2 228.1 L538.2 227.7Z M540.7 228.0 L540.1 229.0 L539.1 228.9 L538.7 228.0 L539.0 226.9 L540.2 227.1Z M533.6 231.7 L533.1 232.8 L532.2 232.9 L531.8 231.7 L532.1 230.4 L533.1 230.3Z M539.6 230.8 L538.9 231.8 L537.6 231.8 L537.3 230.8 L537.7 229.4 L538.9 229.6Z M564.5 218.1 L563.7 220.0 L561.9 219.7 L561.4 218.1 L562.1 216.2 L563.6 216.1Z M433.3 262.0 L432.1 263.1 L430.0 263.1 L428.8 262.0 L430.0 261.0 L432.1 261.2Z M459.2 253.7 L458.1 255.6 L456.1 255.3 L455.5 253.7 L456.1 251.9 L458.1 251.7Z M413.7 267.4 L412.7 268.8 L411.2 269.1 L410.3 267.4 L411.2 265.8 L412.8 265.7Z M421.8 262.8 L421.1 263.7 L419.3 264.0 L418.1 262.8 L419.3 261.7 L421.2 261.9Z M398.4 269.7 L397.9 270.9 L396.8 270.7 L396.4 269.7 L396.9 268.6 L397.9 268.6Z M406.0 267.2 L404.6 267.8 L402.6 267.8 L401.4 267.2 L402.8 266.5 L404.8 266.4Z M405.4 270.4 L404.3 272.1 L402.8 272.4 L401.8 270.4 L402.9 268.6 L404.3 268.5Z M458.4 252.1 L457.9 253.2 L456.7 252.9 L455.7 252.1 L456.7 251.3 L457.8 251.2Z M436.7 260.1 L435.7 261.9 L433.8 262.2 L433.0 260.1 L433.9 258.0 L435.7 258.1Z M449.7 255.6 L449.2 256.7 L448.5 256.8 L447.9 255.6 L448.4 254.4 L449.3 254.5Z M450.3 255.7 L450.0 257.0 L448.8 256.8 L448.3 255.7 L448.9 254.1 L450.0 254.1Z M410.9 268.9 L410.5 270.6 L409.9 270.1 L409.3 268.9 L409.8 267.6 L410.5 267.5Z M403.7 268.8 L403.2 270.9 L402.5 270.6 L402.0 268.8 L402.5 267.1 L403.3 267.0Z M434.6 259.6 L433.3 260.4 L431.4 260.4 L430.3 259.6 L431.4 258.7 L433.5 258.7Z M443.7 256.7 L443.0 257.4 L441.7 257.3 L441.2 256.7 L441.8 256.2 L443.0 256.0Z M421.6 264.7 L420.8 265.4 L419.3 265.6 L418.4 264.7 L419.2 263.9 L420.7 263.9Z M433.7 261.5 L433.3 263.0 L432.5 263.2 L432.0 261.5 L432.5 260.1 L433.3 259.7Z M402.3 269.7 L401.4 271.0 L400.0 271.3 L399.3 269.7 L400.1 268.1 L401.5 268.4Z M688.2 101.7 L688.0 102.3 L687.4 102.3 L687.1 101.7 L687.4 101.3 L688.0 101.2Z M692.3 112.6 L691.9 113.2 L691.3 113.1 L691.1 112.6 L691.3 112.1 L691.9 112.2Z M700.0 91.4 L699.7 91.8 L699.1 91.9 L698.8 91.4 L699.1 90.9 L699.7 90.8Z M656.3 160.2 L656.1 160.7 L655.5 160.7 L655.3 160.2 L655.5 159.7 L656.0 159.7Z M580.5 220.7 L580.2 221.2 L579.7 221.1 L579.4 220.7 L579.6 220.1 L580.3 220.1Z M703.9 66.7 L703.6 67.3 L703.0 67.2 L702.8 66.7 L703.0 66.2 L703.6 66.2Z M711.7 67.5 L711.4 67.9 L710.8 68.0 L710.5 67.5 L710.8 67.0 L711.4 66.9Z M713.0 74.5 L712.7 74.9 L712.1 75.1 L711.8 74.5 L712.1 74.0 L712.7 74.0Z M716.8 62.8 L716.6 63.2 L716.0 63.2 L715.7 62.8 L715.9 62.3 L716.6 62.3Z M798.2 133.7 L797.9 134.2 L797.3 134.2 L797.0 133.7 L797.3 133.2 L797.9 133.2Z M804.3 128.0 L803.9 128.4 L803.3 128.4 L803.1 128.0 L803.3 127.4 L803.9 127.4Z M727.1 242.0 L726.8 242.4 L726.2 242.4 L725.9 242.0 L726.2 241.4 L726.8 241.5Z M729.6 263.5 L729.4 264.0 L728.8 264.0 L728.5 263.5 L728.8 263.1 L729.4 263.1Z M688.0 253.6 L687.8 254.1 L687.3 254.2 L686.9 253.6 L687.2 253.1 L687.8 253.1Z M744.0 166.1 L743.7 166.6 L743.0 166.7 L742.9 166.1 L743.0 165.6 L743.6 165.7Z M296.0 298.6 L295.2 299.5 L293.9 299.7 L293.3 298.6 L294.0 297.4 L295.2 297.5Z M299.7 303.2 L299.0 304.2 L297.8 304.4 L297.5 303.2 L297.9 302.2 L299.1 302.3Z" fill="#e3e3e3" stroke="#6b6b6b" stroke-width="1.35" stroke-linejoin="round"/>
<path d="M566.6 311.0 L566.1 313.4 L564.1 314.6 L562.4 313.7 L560.4 312.2 L560.4 310.1 L562.1 308.6 L564.1 307.9 L565.4 309.2Z M432.3 352.6 L431.8 353.8 L430.6 353.9 L429.6 353.2 L429.5 352.0 L430.6 351.4 L431.6 351.7Z M462.2 363.0 L461.4 364.2 L460.1 364.8 L459.0 363.8 L459.1 362.3 L460.1 361.2 L461.4 361.8Z M561.9 463.0 L561.5 464.1 L560.1 464.3 L559.2 463.7 L559.3 462.3 L560.1 461.3 L561.4 461.9Z M598.9 503.5 L598.2 505.1 L596.3 505.3 L595.0 504.3 L595.0 502.6 L596.4 501.5 L598.1 501.8Z M333.4 742.4 L332.8 743.4 L331.7 743.4 L330.9 742.4 L331.7 741.6 L332.8 741.6Z M326.6 755.9 L325.9 756.9 L324.5 756.8 L323.8 755.9 L324.5 755.2 L325.9 755.0Z M345.8 749.4 L345.4 750.2 L344.0 750.2 L343.4 749.4 L344.2 748.6 L345.3 748.5Z M348.4 752.8 L348.0 753.6 L346.7 753.7 L345.9 752.8 L346.6 752.1 L347.9 752.0Z M344.3 760.6 L343.6 761.5 L342.3 761.5 L341.4 760.6 L342.3 759.9 L343.5 759.8Z M316.1 771.0 L315.5 771.8 L314.1 771.9 L313.7 771.0 L314.2 770.1 L315.5 770.2Z M322.5 770.2 L321.9 771.2 L320.7 771.2 L320.1 770.2 L320.7 769.5 L321.9 769.2Z M386.1 755.9 L385.6 756.8 L384.4 756.8 L383.8 755.9 L384.4 755.2 L385.7 755.0Z M387.6 763.7 L386.8 764.4 L385.6 764.6 L385.1 763.7 L385.7 762.7 L386.9 762.9Z M381.6 768.4 L381.0 769.2 L379.7 769.2 L379.1 768.4 L379.6 767.6 L381.0 767.4Z M385.2 730.5 L384.4 731.4 L383.0 731.3 L382.4 730.5 L383.0 729.5 L384.3 729.7Z M394.1 731.2 L393.5 732.0 L392.2 732.1 L391.4 731.2 L392.0 730.5 L393.4 730.4Z M582.2 659.2 L581.4 660.7 L578.7 660.6 L577.0 659.2 L578.9 657.3 L581.4 657.7Z M555.0 671.7 L554.5 672.9 L552.9 672.8 L552.1 671.7 L552.7 670.4 L554.5 670.7Z M528.2 666.5 L527.3 667.4 L525.9 667.6 L525.3 666.5 L526.0 665.6 L527.2 665.6Z M530.0 655.0 L529.5 655.7 L528.7 655.8 L528.1 655.0 L528.6 654.5 L529.5 654.5Z M543.6 661.3 L543.1 662.0 L542.1 661.9 L541.6 661.3 L542.2 660.7 L543.1 660.7Z M512.3 676.9 L511.9 677.6 L511.0 677.4 L510.6 676.9 L510.9 676.2 L511.9 676.3Z M540.1 678.9 L539.9 679.5 L539.1 679.4 L538.9 678.9 L539.1 678.5 L539.9 678.4Z M583.7 679.6 L583.1 680.2 L582.3 680.3 L581.9 679.6 L582.2 678.8 L583.1 678.9Z M520.2 688.3 L519.5 689.0 L518.7 689.0 L517.9 688.3 L518.7 687.7 L519.7 687.7Z M532.4 693.1 L531.9 694.0 L530.6 693.8 L529.9 693.1 L530.4 692.2 L531.8 692.3Z M551.7 691.0 L551.3 691.6 L550.5 691.6 L550.0 691.0 L550.5 690.4 L551.3 690.3Z M516.4 705.5 L516.0 706.2 L515.1 706.2 L514.8 705.5 L515.2 705.0 L516.1 704.8Z M534.1 707.4 L533.6 708.0 L532.9 707.9 L532.3 707.4 L532.9 706.7 L533.6 706.9Z M568.4 702.8 L567.8 703.4 L567.1 703.3 L566.9 702.8 L567.2 702.3 L567.9 702.4Z M552.3 712.8 L551.9 713.3 L551.2 713.4 L550.8 712.8 L551.1 712.3 L551.9 712.2Z M560.6 717.0 L560.2 717.5 L559.5 717.5 L559.0 717.0 L559.4 716.4 L560.1 716.4Z M546.0 722.1 L545.8 722.7 L544.9 722.8 L544.4 722.1 L544.8 721.5 L545.7 721.5Z M509.5 740.8 L508.9 741.8 L507.7 741.8 L507.0 740.8 L507.8 739.8 L509.0 739.9Z M564.3 654.4 L563.8 655.2 L562.8 655.2 L562.5 654.4 L562.9 653.8 L563.9 653.9Z M567.3 644.7 L566.9 645.2 L566.0 645.2 L565.7 644.7 L566.0 644.1 L566.9 644.0Z M598.5 655.7 L598.2 656.5 L597.1 656.3 L596.6 655.7 L597.2 654.9 L598.0 655.0Z M502.5 646.1 L502.1 646.6 L501.3 646.7 L501.0 646.1 L501.3 645.5 L502.0 645.5Z M440.1 811.6 L439.4 812.3 L438.5 812.0 L438.6 811.1 L439.4 810.9Z M452.3 790.0 L451.7 790.7 L450.8 790.4 L450.8 789.5 L451.7 789.2Z M413.3 826.4 L412.7 827.1 L411.9 826.8 L411.7 825.9 L412.7 825.5Z M415.1 830.2 L414.5 830.9 L413.6 830.7 L413.8 829.7 L414.6 829.6Z M412.0 834.1 L411.4 834.8 L410.6 834.6 L410.6 833.7 L411.4 833.4Z M414.5 838.0 L414.0 838.8 L413.2 838.4 L413.2 837.6 L414.0 837.4Z M413.3 841.4 L412.7 842.1 L411.8 841.9 L411.7 840.9 L412.7 840.6Z M419.3 845.1 L418.7 845.7 L417.9 845.5 L417.7 844.7 L418.7 844.4Z M398.4 897.8 L397.9 898.4 L397.1 898.3 L397.0 897.3 L397.9 897.0Z M406.1 895.2 L405.7 895.9 L404.7 895.5 L404.8 894.7 L405.6 894.5Z M408.8 836.2 L408.2 837.0 L407.4 836.7 L407.4 835.8 L408.3 835.4Z M433.5 710.5 L434.5 712.1 L434.3 712.2Z M460.7 759.9 L457.6 760.8 L459.4 761.3Z M525.1 700.8 L527.7 703.8 L526.6 703.2Z M458.1 733.0 L461.1 734.0 L459.9 734.4Z M430.7 719.3 L428.2 721.1 L429.7 721.1Z M522.0 732.0 L524.8 732.6 L523.7 733.2Z M444.6 762.7 L444.9 765.3 L445.0 764.9Z M418.5 709.4 L420.8 711.1 L419.9 711.2Z M506.9 781.6 L505.4 782.0 L506.4 782.7Z M407.3 773.2 L411.3 773.6 L409.5 774.3Z M517.5 682.0 L518.5 682.7 L518.2 683.3Z M544.6 767.6 L544.0 769.5 L544.6 769.4Z M533.3 718.6 L534.2 720.7 L534.0 720.5Z M461.0 747.6 L460.6 749.4 L461.0 749.4Z M507.4 720.4 L507.4 721.5 L507.7 721.9Z M573.5 684.1 L572.9 687.6 L573.5 686.7Z M543.0 663.0 L545.0 665.2 L544.3 665.0Z M541.4 784.9 L540.7 785.1 L541.3 785.9Z M446.4 696.7 L446.1 698.0 L446.5 698.2Z M455.6 786.5 L457.3 788.2 L456.7 788.3Z M514.2 653.8 L513.3 653.9 L514.0 654.7Z M403.1 787.9 L402.9 789.3 L403.3 789.5Z M411.0 777.7 L410.6 779.9 L411.1 779.7Z M513.3 725.5 L512.2 727.0 L513.0 727.2Z M495.7 696.5 L498.1 699.0 L497.2 698.6Z M489.3 650.1 L491.4 650.4 L490.6 651.1Z M523.2 650.7 L526.0 651.5 L524.9 652.0Z M535.1 784.6 L535.4 786.1 L535.5 786.2Z M497.1 781.4 L497.1 783.3 L497.3 783.3Z M429.5 776.5 L426.6 777.5 L428.3 777.9Z M438.0 782.5 L439.3 785.2 L438.9 784.7Z M430.1 778.1 L431.8 781.6 L431.2 780.7Z M491.2 686.3 L492.4 686.9 L492.0 687.5Z M436.4 724.4 L438.5 725.5 L437.7 725.8Z M472.1 709.6 L473.8 712.4 L473.2 711.9Z M428.5 705.2 L426.1 706.8 L427.6 706.9Z M543.6 712.8 L546.6 713.2 L545.3 713.9Z M531.3 682.4 L529.1 685.0 L530.4 684.6Z M459.1 763.7 L460.2 765.0 L459.9 765.3Z M577.5 698.9 L579.7 700.2 L578.9 700.4Z M407.9 768.2 L408.2 769.3 L408.3 769.6Z M457.1 752.1 L456.2 754.0 L456.9 753.9Z M489.8 696.2 L493.0 698.4 L491.7 698.2Z M542.2 718.9 L540.9 719.5 L541.8 720.1Z M549.1 730.5 L549.5 733.3 L549.6 732.8Z M561.4 732.8 L561.6 734.6 L561.7 734.6Z M531.9 755.6 L530.2 757.7 L531.3 757.6Z M401.5 746.2 L400.8 746.3 L401.4 747.1Z" fill="none" stroke="#6b6b6b" stroke-width="1.2" stroke-linejoin="round"/>
<path d="" fill="none" stroke="#777" stroke-width="0.8" stroke-linejoin="round"/>
<path d="M402.8 440.6 L406.7 441.1 L407.8 444.5 L403.9 447.8" fill="none" stroke="#6e6e6e" stroke-width="1.5" stroke-linecap="round" stroke-linejoin="round"/>
<path d="M378.3 459.1 L383.3 458.4 L387.8 456.7 L385.6 453.9 L382.2 455.0" fill="none" stroke="#6e6e6e" stroke-width="1.5" stroke-linecap="round" stroke-linejoin="round"/>
<path d="M381.1 467.8 L388.9 465.8" fill="none" stroke="#6e6e6e" stroke-width="3.0" stroke-linecap="round" stroke-linejoin="round"/>
<path d="M395.0 463.4 L398.4 462.6" fill="none" stroke="#6e6e6e" stroke-width="2.4" stroke-linecap="round" stroke-linejoin="round"/>
<path d="M387.2 473.4 L389.8 472.3" fill="none" stroke="#6e6e6e" stroke-width="2.0" stroke-linecap="round" stroke-linejoin="round"/>
<path d="M412.3 457.3 L416.7 455.0" fill="none" stroke="#6e6e6e" stroke-width="1.5" stroke-linecap="round" stroke-linejoin="round"/>
<path d="M420.6 451.5 L421.7 450.8" fill="none" stroke="#6e6e6e" stroke-width="1.5" stroke-linecap="round" stroke-linejoin="round"/>
<path d="M426.0 448.0 L427.5 447.1" fill="none" stroke="#6e6e6e" stroke-width="1.8" stroke-linecap="round" stroke-linejoin="round"/>
<path d="M408.4 465.0 L414.5 463.9" fill="none" stroke="#6e6e6e" stroke-width="1.8" stroke-linecap="round" stroke-linejoin="round"/>
<path d="M418.4 460.0 L420.1 462.8" fill="none" stroke="#6e6e6e" stroke-width="1.8" stroke-linecap="round" stroke-linejoin="round"/>
<path d="M411.2 473.6 L413.9 472.0 L417.3 472.5 L415.1 474.3 L411.4 474.0" fill="none" stroke="#6e6e6e" stroke-width="1.3" stroke-linecap="round" stroke-linejoin="round"/>
<path d="M402.9 484.9 L404.5 484.1" fill="none" stroke="#6e6e6e" stroke-width="2.0" stroke-linecap="round" stroke-linejoin="round"/>
<path d="M376.7 436.7 L378.9 435.6" fill="none" stroke="#6e6e6e" stroke-width="2.0" stroke-linecap="round" stroke-linejoin="round"/>
<path d="M453.9 487.6 L455.1 487.0" fill="none" stroke="#6e6e6e" stroke-width="1.2" stroke-linecap="round" stroke-linejoin="round"/>
<path d="M455.6 489.3 L456.8 488.7" fill="none" stroke="#6e6e6e" stroke-width="1.2" stroke-linecap="round" stroke-linejoin="round"/>
<path d="M457.3 490.9 L458.5 490.3" fill="none" stroke="#6e6e6e" stroke-width="1.2" stroke-linecap="round" stroke-linejoin="round"/>
<path d="M460.1 492.6 L461.3 492.0" fill="none" stroke="#6e6e6e" stroke-width="1.2" stroke-linecap="round" stroke-linejoin="round"/>
<path d="M465.1 494.6 L466.3 494.0" fill="none" stroke="#6e6e6e" stroke-width="1.2" stroke-linecap="round" stroke-linejoin="round"/>
<path d="M471.2 494.3 L472.4 493.7" fill="none" stroke="#6e6e6e" stroke-width="1.2" stroke-linecap="round" stroke-linejoin="round"/>
<path d="M474.0 490.9 L475.2 490.3" fill="none" stroke="#6e6e6e" stroke-width="1.2" stroke-linecap="round" stroke-linejoin="round"/>
<path d="M479.5 488.1 L480.7 487.5" fill="none" stroke="#6e6e6e" stroke-width="1.2" stroke-linecap="round" stroke-linejoin="round"/>
<path d="M485.6 487.6 L486.8 487.0" fill="none" stroke="#6e6e6e" stroke-width="1.2" stroke-linecap="round" stroke-linejoin="round"/>
<path d="M488.4 485.4 L489.6 484.8" fill="none" stroke="#6e6e6e" stroke-width="1.2" stroke-linecap="round" stroke-linejoin="round"/>
<path d="M491.8 479.2 L493.0 478.6" fill="none" stroke="#6e6e6e" stroke-width="1.2" stroke-linecap="round" stroke-linejoin="round"/>
<path d="M495.1 476.5 L496.3 475.9" fill="none" stroke="#6e6e6e" stroke-width="1.2" stroke-linecap="round" stroke-linejoin="round"/>
<path d="M496.8 472.6 L498.0 472.0" fill="none" stroke="#6e6e6e" stroke-width="1.2" stroke-linecap="round" stroke-linejoin="round"/>
<path d="M492.3 467.0 L493.5 466.4" fill="none" stroke="#6e6e6e" stroke-width="1.2" stroke-linecap="round" stroke-linejoin="round"/>
<path d="M490.1 467.9 L491.3 467.3" fill="none" stroke="#6e6e6e" stroke-width="1.2" stroke-linecap="round" stroke-linejoin="round"/>
<path d="M487.3 468.7 L488.5 468.1" fill="none" stroke="#6e6e6e" stroke-width="1.2" stroke-linecap="round" stroke-linejoin="round"/>
<path d="M461.2 485.4 L462.4 484.8" fill="none" stroke="#6e6e6e" stroke-width="1.2" stroke-linecap="round" stroke-linejoin="round"/>
<path d="M461.2 482.0 L462.4 481.4" fill="none" stroke="#6e6e6e" stroke-width="1.2" stroke-linecap="round" stroke-linejoin="round"/>
<path d="M462.3 479.8 L463.5 479.2" fill="none" stroke="#6e6e6e" stroke-width="1.2" stroke-linecap="round" stroke-linejoin="round"/>
<path d="M463.9 478.1 L465.1 477.5" fill="none" stroke="#6e6e6e" stroke-width="1.2" stroke-linecap="round" stroke-linejoin="round"/>
<path d="M467.7 475.1 L469.6 474.5" fill="none" stroke="#6e6e6e" stroke-width="1.6" stroke-linecap="round" stroke-linejoin="round"/>
<path d="M471.8 473.2 L476.8 472.0" fill="none" stroke="#6e6e6e" stroke-width="1.7" stroke-linecap="round" stroke-linejoin="round"/>
<path d="M477.9 471.7 L484.0 470.9" fill="none" stroke="#6e6e6e" stroke-width="1.9" stroke-linecap="round" stroke-linejoin="round"/>
<path d="M485.7 468.9 L487.9 468.4" fill="none" stroke="#6e6e6e" stroke-width="1.2" stroke-linecap="round" stroke-linejoin="round"/>
<path d="M490.7 478.9 L495.1 476.5" fill="none" stroke="#6e6e6e" stroke-width="1.5" stroke-linecap="round" stroke-linejoin="round"/>
<path d="M496.3 471.4 L497.9 473.2" fill="none" stroke="#6e6e6e" stroke-width="1.6" stroke-linecap="round" stroke-linejoin="round"/>
<path d="M771.9 176.3 L762.6 213.4 M741.3 276.2 L716.1 305.8 M675.6 369.0 L656.4 404.5 M642.1 473.6 L642.1 509.2 M638.8 615.6 L624.6 650.9 M543.6 754.1 L519.3 782.8 M389.1 913.9 L406.0 909.4 L419.0 905.0 L425.4 902.2 M264.7 785.8 L263.5 797.5 L264.5 809.9 L263.5 803.0 L265.0 814.7 L267.1 823.0 M336.9 605.3 L336.4 615.7 L334.3 626.1 L329.1 640.4 M300.6 467.4 L309.7 479.0 L320.1 493.3" fill="none" stroke="#6b6b6b" stroke-width="1.1"/>
<g stroke="#000" stroke-opacity="0.02" stroke-width="2" stroke-dasharray="7.4 3.2" fill="none"><line x1="152.1" y1="57" x2="152.1" y2="1048"/><line x1="326.4" y1="57" x2="326.4" y2="1048"/><line x1="500.8" y1="57" x2="500.8" y2="1048"/><line x1="675.2" y1="57" x2="675.2" y2="1048"/><line x1="849.6" y1="57" x2="849.6" y2="1048"/><line x1="1024.0" y1="57" x2="1024.0" y2="1048"/><line x1="52" y1="1032.8" x2="1178" y2="1032.8"/><line x1="52" y1="858.4" x2="1178" y2="858.4"/><line x1="52" y1="684.1" x2="1178" y2="684.1"/><line x1="52" y1="509.8" x2="1178" y2="509.8"/><line x1="52" y1="335.4" x2="1178" y2="335.4"/><line x1="52" y1="161.1" x2="1178" y2="161.1"/></g>
<g stroke="#000" stroke-opacity="0.04" stroke-width="2" fill="none"><line x1="152.1" y1="57" x2="152.1" y2="1048"/><line x1="326.4" y1="57" x2="326.4" y2="1048"/><line x1="500.8" y1="57" x2="500.8" y2="1048"/><line x1="675.2" y1="57" x2="675.2" y2="1048"/><line x1="849.6" y1="57" x2="849.6" y2="1048"/><line x1="1024.0" y1="57" x2="1024.0" y2="1048"/><line x1="52" y1="1032.8" x2="1178" y2="1032.8"/><line x1="52" y1="858.4" x2="1178" y2="858.4"/><line x1="52" y1="684.1" x2="1178" y2="684.1"/><line x1="52" y1="509.8" x2="1178" y2="509.8"/><line x1="52" y1="335.4" x2="1178" y2="335.4"/><line x1="52" y1="161.1" x2="1178" y2="161.1"/></g>
<g fill="none" stroke-width="1.9" stroke-linejoin="round" stroke-linecap="butt"><path d="M1038.4 733.1 L928.7 730.1 L868.3 734.0 L808.7 722.2 L744.7 718.0 L696.3 710.5 L639.5 688.9 L590.4 659.4 L547.0 644.7 L514.5 640.0 L488.6 628.5" stroke="#00A010"/><path d="M488.6 628.5 L459.8 635.1 L434.9 627.1 L413.5 653.1 L376.8 658.7 L343.5 641.6 L313.5 624.1 L306.5 588.3 L265.3 564.6 L261.2 529.3 L253.0 497.5 L261.1 467.6 L260.5 431.5 L280.0 423.5 L277.2 407.2 L282.9 390.9" stroke="#00AAFF"/><path d="M282.9 390.9 L307.7 385.0 L319.6 384.2 L299.1 377.2" stroke="#00A010"/><path d="M1038.4 733.1 L957.3 721.2 L898.7 713.3 L861.9 707.5 L827.9 698.3 L789.9 676.2 L745.7 665.6" stroke="#00A010"/><path d="M745.7 665.6 L706.6 667.0" stroke="#00F020"/><path d="M706.6 667.0 L671.5 651.0 L630.2 630.8" stroke="#00A010"/><path d="M630.2 630.8 L592.8 617.3 L557.6 607.3 L537.5 601.9 L513.0 592.7 L481.6 591.9 L454.8 559.2 L431.5 574.7 L431.1 596.2 L410.0 598.0 L399.5 600.5 L380.8 613.6 L361.2 598.3" stroke="#00AAFF"/><path d="M361.2 598.3 L353.8 583.1 L344.7 571.6 L346.5 553.8 L339.4 533.7 L336.4 507.3 L316.9 503.1 L323.0 498.9" stroke="#00A010"/><path d="M1038.4 733.1 L940.9 737.4 L878.4 733.5 L823.9 729.8 L775.8 701.8" stroke="#00A010"/><path d="M775.8 701.8 L718.5 704.7" stroke="#00F020"/><path d="M718.5 704.7 L675.4 687.7 L625.5 662.3 L579.0 653.1" stroke="#00A010"/><path d="M579.0 653.1 L538.4 636.3 L508.6 624.9 L481.7 623.5 L464.6 633.5 L439.1 653.5 L409.6 662.4 L390.6 658.3 L351.1 641.7 L337.3 621.2 L321.1 595.3 L315.2 571.0 L276.8 546.0 L296.7 511.5" stroke="#00AAFF"/><path d="M296.7 511.5 L281.7 496.8 L269.8 469.4 L292.8 448.9 L287.6 433.6 L296.6 418.5" stroke="#00A010"/><path d="M296.6 418.5 L288.9 400.3" stroke="#00F020"/><path d="M288.9 400.3 L314.4 394.2" stroke="#00A010"/><path d="M1038.4 733.1 L947.8 729.1" stroke="#00A010"/><path d="M947.8 729.1 L897.0 713.9" stroke="#00F020"/><path d="M897.0 713.9 L850.4 722.3 L810.8 714.9 L766.1 694.7 L723.5 703.3 L687.3 667.9 L653.7 650.1 L612.0 637.8" stroke="#00A010"/><path d="M612.0 637.8 L562.1 636.2" stroke="#00AAFF"/><path d="M562.1 636.2 L531.2 636.9 L515.3 619.4" stroke="#F0D000"/><path d="M515.3 619.4 L491.1 609.1" stroke="#F0A000"/><path d="M491.1 609.1 L465.5 614.6 L443.0 601.5 L428.0 596.5" stroke="#FF0000"/><path d="M428.0 596.5 L415.1 605.1" stroke="#F0A000"/><path d="M415.1 605.1 L402.2 614.0 L370.6 620.1 L354.1 612.3" stroke="#F0D000"/><path d="M354.1 612.3 L322.2 614.2 L319.6 589.0 L298.7 575.6" stroke="#00AAFF"/><path d="M298.7 575.6 L302.7 544.1 L282.5 519.9 L283.4 504.0 L289.0 489.0 L294.5 467.3" stroke="#00A010"/><path d="M1038.4 733.1 L952.2 723.5 L902.0 719.0 L857.5 711.9 L825.7 692.4 L782.6 677.5 L737.5 679.3 L701.5 662.3 L665.8 651.7 L628.0 629.8 L586.7 627.7" stroke="#00A010"/><path d="M586.7 627.7 L552.7 597.2 L529.1 597.1 L503.8 594.2 L478.4 593.7 L446.2 576.0 L431.9 580.2 L426.0 587.4 L399.6 593.6 L384.1 620.9 L374.2 639.3 L364.4 656.3 L350.0 671.6 L350.5 669.6 L353.9 678.2 L347.2 690.7 L370.9 685.9 L359.1 670.5 L371.8 653.8" stroke="#00AAFF"/><path d="M1038.4 733.1 L939.8 742.3 L884.2 734.5" stroke="#00A010"/><path d="M884.2 734.5 L827.8 739.9" stroke="#00F020"/><path d="M827.8 739.9 L780.7 711.0 L731.6 691.6 L688.6 681.3 L644.0 667.1 L595.0 643.7 L556.6 634.7" stroke="#00A010"/><path d="M556.6 634.7 L523.4 633.2 L504.4 627.1 L472.9 610.7" stroke="#00AAFF"/><path d="M472.9 610.7 L448.2 627.5 L431.1 633.4 L407.9 640.7 L382.6 646.0" stroke="#F0D000"/><path d="M382.6 646.0 L362.6 610.1 L338.2 611.1" stroke="#F0A000"/><path d="M338.2 611.1 L328.7 585.6 L318.5 563.3 L308.5 534.0" stroke="#F0D000"/><path d="M308.5 534.0 L285.6 516.0 L280.5 497.6 L283.6 474.0 L282.3 445.2 L290.7 430.6 L300.7 424.6" stroke="#00AAFF"/><path d="M300.7 424.6 L288.3 405.2" stroke="#00A010"/><path d="M1038.4 733.1 L942.4 733.8 L893.1 708.9 L851.4 697.5 L811.7 680.0 L757.2 655.7 L720.5 634.1 L680.6 634.5 L637.4 601.0 L594.3 588.6 L555.2 573.9" stroke="#00A010"/><path d="M555.2 573.9 L528.8 575.3" stroke="#00AAFF"/><path d="M528.8 575.3 L501.4 565.3 L460.8 556.6" stroke="#F0D000"/><path d="M460.8 556.6 L429.3 559.7 L421.7 556.1 L407.2 559.6" stroke="#F0A000"/><path d="M407.2 559.6 L407.1 554.5 L408.1 559.3" stroke="#F0D000"/><path d="M408.1 559.3 L387.6 561.2 L349.6 549.8 L332.5 540.9 L319.3 523.7" stroke="#00AAFF"/><path d="M319.3 523.7 L307.7 525.1 L281.2 521.0 L276.2 513.5 L244.4 521.5 L248.1 519.4" stroke="#00A010"/><path d="M248.1 519.4 L231.0 519.5" stroke="#00F020"/><path d="M1038.4 733.1 L944.7 724.2 L894.4 699.4 L856.7 683.8" stroke="#00A010"/><path d="M856.7 683.8 L818.1 664.2" stroke="#00F020"/><path d="M818.1 664.2 L765.1 642.2 L719.9 640.3 L686.2 624.7 L637.1 603.6 L587.4 599.1 L558.5 577.5 L530.6 572.0" stroke="#00A010"/><path d="M530.6 572.0 L505.8 562.2 L464.5 556.5 L436.6 569.1 L418.8 556.0" stroke="#00AAFF"/><path d="M418.8 556.0 L409.1 551.2 L404.9 554.5" stroke="#F0D000"/><path d="M404.9 554.5 L410.2 559.1 L401.5 558.6 L387.6 552.6 L368.1 544.0 L350.4 535.4 L343.3 505.4 L338.0 498.5 L333.5 500.2 L355.8 479.0" stroke="#00AAFF"/><path d="M355.8 479.0 L340.4 475.8" stroke="#00F020"/><path d="M340.4 475.8 L347.7 470.8" stroke="#00A010"/><path d="M1038.4 733.1 L954.7 729.7 L906.4 710.5 L867.8 706.8 L824.7 703.9 L784.7 699.1 L745.9 680.0 L711.1 677.8 L677.8 650.0 L640.1 629.7 L595.8 627.1 L561.3 632.0 L532.9 613.9 L511.4 590.4 L492.9 596.9 L464.2 600.6 L443.5 595.1 L435.0 615.4 L411.8 610.7 L396.3 616.5" stroke="#00A010"/><path d="M396.3 616.5 L384.5 612.7" stroke="#00F020"/><path d="M384.5 612.7 L364.6 616.4 L352.7 590.1 L346.8 568.5" stroke="#00A010"/><path d="M346.8 568.5 L335.1 553.2 L311.5 538.8" stroke="#00F020"/><path d="M311.5 538.8 L292.5 517.6" stroke="#00A010"/><path d="M1038.4 733.1 L943.5 735.4 L889.5 736.8 L848.7 734.5 L805.6 721.6 L755.7 705.2 L715.8 696.2 L675.0 689.3 L631.0 671.3 L599.4 659.6 L547.2 651.3" stroke="#00A010"/><path d="M547.2 651.3 L528.3 638.6 L504.0 649.6" stroke="#00AAFF"/><path d="M504.0 649.6 L481.7 648.2 L460.9 638.8 L438.0 639.6 L423.0 654.0 L403.0 666.9" stroke="#F0D000"/><path d="M403.0 666.9 L376.5 658.5 L341.5 647.8 L329.9 618.5 L324.3 598.6 L297.8 586.7 L284.2 560.0 L264.5 531.9" stroke="#00AAFF"/><path d="M264.5 531.9 L261.8 512.5 L264.0 491.7 L256.7 465.5 L264.0 437.2" stroke="#00A010"/><path d="M1038.4 733.1 L945.4 732.6 L888.1 731.2" stroke="#00A010"/><path d="M888.1 731.2 L846.0 714.4" stroke="#00F020"/><path d="M846.0 714.4 L801.9 698.8" stroke="#00A010"/><path d="M801.9 698.8 L759.8 675.2" stroke="#00F020"/><path d="M759.8 675.2 L711.2 671.3 L671.4 664.5 L628.9 644.4 L592.3 621.1" stroke="#00A010"/><path d="M592.3 621.1 L548.0 608.7" stroke="#00AAFF"/><path d="M548.0 608.7 L521.5 613.4 L503.4 601.9" stroke="#F0D000"/><path d="M503.4 601.9 L461.2 616.3 L445.8 622.3" stroke="#F0A000"/><path d="M445.8 622.3 L424.8 612.5 L414.5 587.7 L395.2 602.3" stroke="#F0D000"/><path d="M395.2 602.3 L379.5 602.6 L367.2 594.4 L339.2 591.0" stroke="#00AAFF"/><path d="M339.2 591.0 L337.0 565.6 L302.2 562.6 L296.7 551.3 L280.2 547.1 L268.0 549.8 L249.4 531.4 L235.3 546.6 L232.4 539.5" stroke="#00A010"/><path d="M1038.4 733.1 L948.3 742.8" stroke="#00A010"/><path d="M948.3 742.8 L894.1 739.8" stroke="#00F020"/><path d="M894.1 739.8 L848.8 746.5 L802.7 724.6 L757.4 711.8 L716.8 709.6 L669.3 697.8 L635.4 666.1 L602.7 656.9" stroke="#00A010"/><path d="M602.7 656.9 L558.2 647.2 L525.6 640.6 L505.9 622.3 L484.3 632.1 L464.0 646.6" stroke="#00AAFF"/><path d="M464.0 646.6 L445.2 633.9 L421.8 636.8 L403.7 625.6" stroke="#F0D000"/><path d="M403.7 625.6 L375.8 637.1 L352.2 636.2 L346.3 616.8 L331.4 599.5 L301.7 586.5 L297.8 561.9 L282.6 533.4 L271.8 516.2 L274.2 495.8 L274.5 473.0" stroke="#00AAFF"/><path d="M274.5 473.0 L270.0 447.6" stroke="#00F020"/><path d="M1038.4 733.1 L929.7 735.8 L872.5 726.2 L821.5 705.2 L766.3 684.4" stroke="#00A010"/><path d="M766.3 684.4 L710.5 680.8" stroke="#00F020"/><path d="M710.5 680.8 L652.5 676.8 L609.4 649.7 L560.7 639.4 L520.8 635.8" stroke="#00A010"/><path d="M520.8 635.8 L494.9 628.7 L466.6 625.6 L437.9 620.0 L422.9 618.5 L390.7 642.6 L363.0 633.1 L337.6 615.2 L329.8 591.9 L319.7 564.3 L299.6 534.9 L267.2 516.5 L264.2 493.4 L266.5 462.9 L301.4 444.3 L314.6 432.6 L295.3 409.3 L312.0 401.5" stroke="#00AAFF"/><path d="M312.0 401.5 L322.3 392.3" stroke="#00A010"/><path d="M322.3 392.3 L318.3 383.3" stroke="#00F020"/><path d="M1038.4 733.1 L938.3 733.0 L885.2 734.1 L835.2 750.5 L787.1 730.5" stroke="#00A010"/><path d="M787.1 730.5 L740.2 719.5" stroke="#00F020"/><path d="M740.2 719.5 L699.9 707.1 L659.1 674.5 L617.2 659.5 L576.2 640.4" stroke="#00A010"/><path d="M576.2 640.4 L538.9 642.4 L509.2 642.6 L493.5 632.6" stroke="#00AAFF"/><path d="M493.5 632.6 L468.7 638.0" stroke="#F0D000"/><path d="M468.7 638.0 L451.6 650.3 L430.3 641.4 L398.8 636.9 L378.4 649.9 L354.0 634.8 L324.6 622.5 L304.2 607.2 L293.6 590.6 L286.1 554.6" stroke="#00AAFF"/><path d="M286.1 554.6 L294.9 519.3 L262.6 506.5 L253.8 484.2" stroke="#00A010"/><path d="M253.8 484.2 L274.6 459.5" stroke="#00F020"/><path d="M274.6 459.5 L279.2 434.4 L263.7 424.1" stroke="#00A010"/><path d="M1038.4 733.1 L969.0 752.0" stroke="#00A010"/><path d="M969.0 752.0 L914.9 752.6" stroke="#00F020"/><path d="M914.9 752.6 L880.3 737.9 L838.2 738.1 L810.0 732.5 L777.3 709.2 L742.1 697.2 L710.1 697.2" stroke="#00A010"/><path d="M710.1 697.2 L674.1 688.2 L644.6 674.4 L619.0 663.8 L590.8 657.2 L557.5 641.6" stroke="#00AAFF"/><path d="M557.5 641.6 L530.0 637.8 L506.0 657.6 L494.3 649.9 L480.2 646.2 L465.6 647.1 L453.0 660.8" stroke="#F0D000"/><path d="M453.0 660.8 L438.4 648.2 L424.6 650.5 L408.5 640.6 L392.4 650.0 L363.0 644.0 L337.3 639.9 L328.7 623.4 L316.1 609.8" stroke="#00AAFF"/><path d="M316.1 609.8 L315.3 594.1" stroke="#00A010"/><path d="M1038.4 733.1 L956.3 744.6 L903.5 742.1 L859.1 742.7 L820.1 737.2 L777.1 727.0 L740.8 717.3 L705.9 688.1 L671.7 678.8 L636.5 656.3" stroke="#00A010"/><path d="M636.5 656.3 L602.0 645.0 L566.3 639.6 L533.8 639.9 L513.4 650.7 L489.7 636.2 L475.7 655.6" stroke="#00AAFF"/><path d="M475.7 655.6 L458.6 644.5 L446.6 638.7 L422.1 657.2 L405.6 643.0" stroke="#F0D000"/><path d="M405.6 643.0 L381.8 644.6 L364.8 632.7 L353.0 617.0 L345.4 597.5 L324.8 582.4 L284.6 574.3" stroke="#00AAFF"/><path d="M1038.4 733.1 L939.5 726.1 L885.1 717.0 L841.6 694.6 L798.0 666.9 L746.0 641.6 L703.4 635.8" stroke="#00A010"/><path d="M703.4 635.8 L650.7 610.9" stroke="#00F020"/><path d="M650.7 610.9 L613.4 595.5 L571.2 583.4" stroke="#00A010"/><path d="M571.2 583.4 L536.3 571.7" stroke="#00AAFF"/><path d="M536.3 571.7 L507.1 564.5 L465.2 563.3" stroke="#F0D000"/><path d="M465.2 563.3 L426.4 563.6 L419.4 565.7 L409.8 555.8" stroke="#F0A000"/><path d="M409.8 555.8 L396.1 571.3 L409.4 555.9 L389.9 549.8" stroke="#F0D000"/><path d="M389.9 549.8 L382.2 543.6 L358.4 535.4 L361.1 509.4 L354.9 494.9 L348.9 501.2" stroke="#00AAFF"/><path d="M348.9 501.2 L353.8 478.8 L347.6 475.0 L350.5 468.3 L355.0 440.5 L372.4 426.8" stroke="#00A010"/><path d="M1038.4 733.1 L941.9 727.5 L883.2 714.1 L845.3 683.6 L800.7 672.2 L749.4 651.4 L706.6 647.9 L663.4 626.4 L607.3 609.9 L572.8 591.1" stroke="#00A010"/><path d="M572.8 591.1 L541.2 579.2 L517.7 582.5" stroke="#00AAFF"/><path d="M517.7 582.5 L478.2 587.8" stroke="#F0D000"/><path d="M478.2 587.8 L437.0 573.6 L426.6 571.5 L409.8 592.2" stroke="#F0A000"/><path d="M409.8 592.2 L400.0 584.9 L397.5 575.2" stroke="#F0D000"/><path d="M397.5 575.2 L392.8 557.5 L353.4 558.3 L346.3 531.5" stroke="#00AAFF"/><path d="M346.3 531.5 L322.6 524.5 L299.1 532.6 L288.9 529.2 L266.2 512.5" stroke="#00A010"/><path d="M266.2 512.5 L257.0 508.9" stroke="#00F020"/><path d="M257.0 508.9 L242.0 522.0" stroke="#00A010"/><path d="M242.0 522.0 L230.1 517.4" stroke="#00F020"/><path d="M230.1 517.4 L220.8 522.5" stroke="#00A010"/><path d="M1038.4 733.1 L952.7 737.7 L896.1 743.2 L856.6 746.2 L809.5 742.3 L768.1 727.9 L726.1 715.0 L690.3 706.7 L659.0 687.2" stroke="#00A010"/><path d="M659.0 687.2 L615.3 672.7 L581.9 662.1 L544.2 655.3 L521.1 654.3 L491.9 651.0 L486.1 641.6 L464.1 660.9 L450.8 660.2" stroke="#00AAFF"/><path d="M450.8 660.2 L427.4 672.0" stroke="#F0D000"/><path d="M427.4 672.0 L410.1 671.3 L377.8 668.9 L347.7 656.9 L335.9 623.5 L320.4 609.7" stroke="#00AAFF"/><path d="M1038.4 733.1 L957.8 725.9 L906.8 718.2 L867.1 711.7 L829.1 696.0" stroke="#00A010"/><path d="M829.1 696.0 L796.9 681.4" stroke="#00F020"/><path d="M796.9 681.4 L751.4 669.9 L715.4 661.1 L682.8 647.3 L647.3 627.6" stroke="#00A010"/><path d="M647.3 627.6 L608.5 605.0 L569.9 615.3 L554.1 587.1 L517.4 593.8" stroke="#00AAFF"/><path d="M517.4 593.8 L502.4 572.5 L472.7 568.7 L448.1 576.1 L429.2 584.4 L428.4 586.0" stroke="#F0D000"/><path d="M428.4 586.0 L399.7 599.4 L391.3 597.2 L384.9 593.6 L380.9 591.5 L341.6 585.4 L346.7 560.8 L323.6 548.0" stroke="#00AAFF"/><path d="M323.6 548.0 L304.2 528.7" stroke="#00A010"/><path d="M1038.4 733.1 L936.3 730.0 L874.9 715.2 L829.0 699.8 L777.7 674.7" stroke="#00A010"/><path d="M777.7 674.7 L730.4 652.8" stroke="#00F020"/><path d="M730.4 652.8 L678.7 652.3" stroke="#00A010"/><path d="M678.7 652.3 L629.0 622.9" stroke="#00F020"/><path d="M629.0 622.9 L581.1 606.2 L542.3 595.1" stroke="#00AAFF"/><path d="M542.3 595.1 L519.5 578.0 L476.3 566.1 L438.7 567.3" stroke="#F0D000"/><path d="M438.7 567.3 L426.5 577.8 L405.3 583.4" stroke="#F0A000"/><path d="M405.3 583.4 L401.7 581.1 L394.3 572.2 L386.5 562.8" stroke="#FF0000"/><path d="M386.5 562.8 L362.2 549.4" stroke="#F0A000"/><path d="M362.2 549.4 L349.8 530.3 L355.4 499.8 L349.9 497.3" stroke="#F0D000"/><path d="M349.9 497.3 L339.0 491.9 L349.3 473.0 L323.4 461.7 L342.7 443.0" stroke="#00AAFF"/><path d="M342.7 443.0 L346.6 426.7 L369.5 420.0 L356.0 408.8" stroke="#00A010"/><path d="M1038.4 733.1 L948.0 726.0 L893.2 718.3 L845.7 717.5 L803.7 713.0 L755.6 678.1 L710.3 693.3 L670.1 684.1 L630.4 652.6 L582.4 647.3 L554.3 639.0 L523.4 623.1 L502.4 623.5 L469.5 617.8 L453.2 638.0 L435.5 639.2 L417.8 635.2 L397.6 632.9 L372.0 632.4 L359.7 612.1" stroke="#00A010"/><path d="M359.7 612.1 L337.5 603.9" stroke="#00F020"/><path d="M337.5 603.9 L328.0 581.3" stroke="#00A010"/><path d="M328.0 581.3 L307.3 565.8" stroke="#00F020"/><path d="M307.3 565.8 L290.8 537.3" stroke="#00A010"/><path d="M290.8 537.3 L283.7 515.2" stroke="#00F020"/><path d="M283.7 515.2 L272.2 499.5" stroke="#00A010"/><path d="M272.2 499.5 L285.9 478.7" stroke="#00F020"/><path d="M285.9 478.7 L265.7 453.1" stroke="#00A010"/><path d="M265.7 453.1 L274.3 427.7" stroke="#00F020"/><path d="M1038.4 733.1 L964.1 742.9 L908.8 731.9 L872.0 730.3 L834.2 727.4 L803.7 711.2 L766.2 695.1 L728.1 691.4 L693.4 677.4 L668.8 660.8 L632.5 654.5" stroke="#00A010"/><path d="M632.5 654.5 L595.7 646.8 L560.6 629.4 L537.3 619.7" stroke="#00AAFF"/><path d="M537.3 619.7 L524.2 615.7 L500.0 628.0 L482.0 616.9 L467.1 643.3" stroke="#F0D000"/><path d="M467.1 643.3 L449.8 647.9 L430.7 628.9 L416.2 626.9 L399.3 625.8 L387.3 640.7 L365.9 630.8" stroke="#00AAFF"/><path d="M365.9 630.8 L349.7 610.0 L333.6 611.9 L328.2 593.6 L320.7 573.7 L311.5 551.7" stroke="#00A010"/><path d="M1038.4 733.1 L940.6 736.7 L886.5 731.9 L837.4 739.1 L789.0 720.0 L744.6 704.7" stroke="#00A010"/><path d="M744.6 704.7 L695.1 712.8" stroke="#00F020"/><path d="M695.1 712.8 L650.0 686.3 L613.0 661.7 L565.9 662.8" stroke="#00A010"/><path d="M565.9 662.8 L530.0 647.4 L502.9 647.9 L481.6 645.1" stroke="#00AAFF"/><path d="M481.6 645.1 L463.3 652.0 L444.8 660.5 L428.3 665.3" stroke="#F0D000"/><path d="M428.3 665.3 L394.2 671.7 L358.8 664.5 L333.7 643.5 L315.3 625.3" stroke="#F0A000"/><path d="M315.3 625.3 L303.6 606.0 L277.3 582.0 L265.5 546.0 L260.4 523.1" stroke="#F0D000"/><path d="M260.4 523.1 L244.9 496.7 L270.2 474.3 L273.7 447.3 L275.0 425.5 L286.9 422.6" stroke="#00AAFF"/><path d="M1038.4 733.1 L938.6 736.9 L882.4 729.1 L841.1 720.4 L791.1 711.4 L742.1 702.0 L696.8 688.3 L659.8 664.6 L614.8 643.4 L572.1 625.4" stroke="#00A010"/><path d="M572.1 625.4 L535.7 623.4 L511.3 614.3 L483.9 605.2 L449.9 620.7" stroke="#00AAFF"/><path d="M449.9 620.7 L437.0 626.0 L424.1 633.8 L398.3 633.5" stroke="#F0D000"/><path d="M398.3 633.5 L378.6 621.0 L378.0 596.7 L334.7 608.0 L322.4 582.9 L321.1 555.3 L296.9 529.0 L295.5 511.7" stroke="#00AAFF"/><path d="M295.5 511.7 L295.2 496.8" stroke="#00A010"/><path d="M295.2 496.8 L288.5 472.6" stroke="#00F020"/><path d="M288.5 472.6 L304.3 457.5" stroke="#00A010"/><path d="M304.3 457.5 L305.4 445.5" stroke="#00F020"/><path d="M305.4 445.5 L298.7 427.6" stroke="#00A010"/><path d="M1038.4 733.1 L938.5 727.3 L879.2 711.1" stroke="#00A010"/><path d="M879.2 711.1 L836.8 710.6" stroke="#00F020"/><path d="M836.8 710.6 L784.4 695.3 L731.0 670.0 L694.7 656.5 L651.3 635.5 L595.7 617.2" stroke="#00A010"/><path d="M595.7 617.2 L549.6 621.0 L524.2 624.8 L498.7 616.0 L458.7 606.7 L438.4 609.5 L421.0 607.9 L410.4 610.9 L387.2 617.1 L358.7 611.6 L352.1 599.9 L328.0 566.8 L314.5 557.9 L292.3 560.3 L280.4 551.7" stroke="#00AAFF"/><path d="M280.4 551.7 L265.4 555.1 L251.3 539.6 L230.5 547.3 L224.4 542.8 L213.8 542.7 L193.8 545.2" stroke="#00A010"/><path d="M1038.4 733.1 L949.9 733.0 L898.2 718.5 L853.8 691.6" stroke="#00A010"/><path d="M853.8 691.6 L826.6 670.7" stroke="#00F020"/><path d="M826.6 670.7 L771.1 659.3 L732.5 642.1 L698.2 630.0 L654.8 619.5" stroke="#00A010"/><path d="M654.8 619.5 L611.4 613.3 L570.2 603.8 L541.7 571.5 L517.9 571.7 L489.7 574.9 L456.6 573.3 L432.7 578.4 L425.0 575.4 L406.7 570.2 L401.9 566.9 L404.9 566.0 L399.2 560.6 L387.8 550.6 L371.9 545.1" stroke="#00AAFF"/><path d="M371.9 545.1 L360.9 530.0" stroke="#00A010"/><path d="M360.9 530.0 L351.4 510.1 L348.1 496.7" stroke="#00F020"/><path d="M348.1 496.7 L345.4 500.7 L348.9 484.8 L337.0 471.8" stroke="#00A010"/><path d="M1038.4 733.1 L941.1 729.8 L876.1 727.2 L828.6 712.6 L783.6 683.3 L726.5 681.6 L685.6 666.2 L627.2 645.3 L585.9 615.4 L548.7 610.1 L509.5 615.8 L483.1 604.1 L449.1 602.7 L430.4 592.7 L415.6 595.2 L393.6 610.0 L381.2 611.8 L364.6 587.1 L355.5 567.2 L337.1 554.5 L306.4 534.1 L289.4 514.6 L282.9 497.3" stroke="#00A010"/><path d="M282.9 497.3 L286.0 471.9" stroke="#00F020"/><path d="M286.0 471.9 L299.7 451.0 L300.2 439.8 L329.8 429.1 L344.6 414.6" stroke="#00A010"/><path d="M344.6 414.6 L327.3 403.2" stroke="#00F020"/><path d="M1038.4 733.1 L946.0 723.5 L899.0 705.6 L852.7 700.7" stroke="#00A010"/><path d="M852.7 700.7 L821.6 678.7" stroke="#00F020"/><path d="M821.6 678.7 L772.2 659.3" stroke="#00A010"/><path d="M772.2 659.3 L727.2 640.9 L695.0 640.1" stroke="#00F020"/><path d="M695.0 640.1 L654.1 612.1 L605.4 601.1 L567.6 595.7 L542.0 585.5" stroke="#00A010"/><path d="M542.0 585.5 L511.3 582.0 L482.7 564.7 L452.1 566.1" stroke="#00AAFF"/><path d="M452.1 566.1 L434.8 565.2" stroke="#F0D000"/><path d="M434.8 565.2 L419.2 557.6 L404.0 562.3 L398.9 564.6 L407.5 564.0 L384.4 569.8 L380.9 553.6 L360.4 542.2 L362.0 526.0" stroke="#00AAFF"/><path d="M362.0 526.0 L336.6 506.7 L340.1 498.0 L349.2 499.9 L352.9 480.2" stroke="#00A010"/><path d="M352.9 480.2 L346.3 475.9" stroke="#00F020"/><path d="M1038.4 733.1 L944.1 734.3 L891.8 708.8 L846.0 692.3 L812.9 665.4 L760.9 642.5 L712.2 642.8 L677.9 635.1 L628.6 605.0 L586.7 598.7" stroke="#00A010"/><path d="M586.7 598.7 L545.7 586.5 L522.6 573.4 L489.2 569.8 L451.6 559.3" stroke="#00AAFF"/><path d="M451.6 559.3 L432.2 560.2 L419.9 580.9 L408.1 563.4 L402.0 562.3 L405.9 562.6 L396.1 553.1" stroke="#F0D000"/><path d="M396.1 553.1 L383.6 545.3 L357.0 535.1 L351.3 515.9 L348.0 496.4 L346.6 499.4 L345.1 488.7 L340.8 471.5" stroke="#00AAFF"/><path d="M340.8 471.5 L356.6 476.8 L347.1 456.7" stroke="#00A010"/><path d="M1038.4 733.1 L956.6 731.6 L905.9 725.1 L862.9 732.7 L819.4 727.4 L785.4 699.2 L743.7 695.9 L701.0 688.4 L666.6 679.1" stroke="#00A010"/><path d="M666.6 679.1 L631.8 652.5 L595.5 652.2 L563.5 630.6" stroke="#00AAFF"/><path d="M563.5 630.6 L529.9 624.4 L508.4 623.0" stroke="#F0D000"/><path d="M508.4 623.0 L490.2 625.9 L475.2 637.2 L450.6 653.7 L433.4 639.2" stroke="#F0A000"/><path d="M433.4 639.2 L419.7 640.0 L394.7 628.1 L380.2 628.2" stroke="#F0D000"/><path d="M380.2 628.2 L363.9 617.3 L356.8 595.6" stroke="#00AAFF"/><path d="M1038.4 733.1 L957.8 734.4 L905.5 724.2 L868.7 718.2 L834.8 693.9 L795.2 679.4 L754.3 663.3 L718.0 656.6 L684.3 646.3 L648.6 628.5" stroke="#00A010"/><path d="M648.6 628.5 L604.3 625.1 L569.8 613.7" stroke="#00AAFF"/><path d="M569.8 613.7 L539.4 604.8" stroke="#F0D000"/><path d="M539.4 604.8 L518.2 595.5" stroke="#F0A000"/><path d="M518.2 595.5 L497.2 592.4 L465.7 593.3 L445.2 597.4" stroke="#FF0000"/><path d="M445.2 597.4 L433.5 599.9" stroke="#F0A000"/><path d="M433.5 599.9 L424.8 622.6 L408.5 624.5" stroke="#F0D000"/><path d="M408.5 624.5 L387.4 609.0 L366.4 622.9 L342.4 614.6" stroke="#00AAFF"/><path d="M342.4 614.6 L342.2 603.5 L313.0 587.2 L310.0 572.0 L304.0 571.8" stroke="#00A010"/><path d="M304.0 571.8 L288.1 570.9" stroke="#00F020"/><path d="M288.1 570.9 L272.6 584.2" stroke="#00A010"/><path d="M1038.4 733.1 L943.7 739.6 L887.3 731.9 L836.0 742.5 L790.9 714.2 L745.2 693.1 L697.8 701.9 L653.5 675.0 L614.8 659.3 L567.3 655.8" stroke="#00A010"/><path d="M567.3 655.8 L536.5 638.4 L509.3 623.9 L485.6 628.9 L456.1 622.7 L450.7 642.3 L419.7 644.7 L406.3 636.9 L382.6 636.3 L345.2 641.1 L326.7 621.8 L316.0 609.9 L301.6 594.3 L283.2 596.5" stroke="#00AAFF"/><path d="M283.2 596.5 L267.3 591.8 L272.5 569.4" stroke="#00A010"/><path d="M272.5 569.4 L247.1 585.9" stroke="#00F020"/><path d="M247.1 585.9 L244.5 572.5 L235.4 559.2 L220.9 552.9" stroke="#00A010"/><path d="M1038.4 733.1 L941.4 729.9 L890.7 721.5 L847.4 720.8 L802.0 702.7 L749.7 692.3 L707.0 689.8 L673.0 655.7 L625.4 643.1 L578.9 647.5 L539.4 639.6 L514.7 636.0" stroke="#00A010"/><path d="M514.7 636.0 L485.2 641.2 L471.4 634.4 L445.3 629.4 L423.5 626.6 L414.3 631.7" stroke="#00AAFF"/><path d="M414.3 631.7 L383.7 614.2" stroke="#F0D000"/><path d="M383.7 614.2 L366.7 620.2 L360.9 599.8 L342.4 577.3 L324.0 554.3 L297.6 539.4" stroke="#00AAFF"/><path d="M1038.4 733.1 L955.6 730.1 L901.1 734.7 L857.9 740.9 L817.9 736.8 L776.3 712.8 L734.5 700.8 L697.6 694.1" stroke="#00A010"/><path d="M697.6 694.1 L646.8 682.5 L622.3 662.3" stroke="#00AAFF"/><path d="M622.3 662.3 L582.7 642.9 L545.9 648.3" stroke="#F0D000"/><path d="M545.9 648.3 L516.9 639.2" stroke="#F0A000"/><path d="M516.9 639.2 L505.1 631.0 L486.6 614.7 L464.3 630.4 L444.2 642.9 L432.7 640.0" stroke="#FF0000"/><path d="M432.7 640.0 L412.1 625.6 L393.2 625.8" stroke="#F0A000"/><path d="M393.2 625.8 L380.2 614.7 L341.9 621.1 L333.7 604.2" stroke="#F0D000"/><path d="M333.7 604.2 L327.9 583.6 L304.9 578.6 L273.2 558.1 L266.7 532.5" stroke="#00AAFF"/><path d="M266.7 532.5 L282.2 509.3 L276.9 495.2" stroke="#00A010"/><path d="M1038.4 733.1 L938.0 736.5 L876.6 734.9 L823.6 723.1 L773.2 702.5 L724.2 690.6 L680.1 668.8 L636.8 633.4 L591.6 624.9" stroke="#00A010"/><path d="M591.6 624.9 L538.8 620.5 L512.7 616.8 L483.5 613.4 L453.7 612.5 L432.8 631.6 L417.6 643.0 L389.5 635.0" stroke="#00AAFF"/><path d="M389.5 635.0 L359.8 632.8" stroke="#F0D000"/><path d="M359.8 632.8 L339.2 613.0 L324.2 599.6 L303.3 579.3 L271.0 550.0 L277.5 516.1 L272.1 495.8 L276.9 469.6 L279.4 444.9" stroke="#00AAFF"/><path d="M279.4 444.9 L278.0 429.0" stroke="#00F020"/><path d="M278.0 429.0 L290.7 415.4 L299.6 401.9 L315.9 392.5" stroke="#00A010"/><path d="M1038.4 733.1 L940.5 728.9 L879.4 718.2 L834.7 706.2 L784.2 672.9 L734.9 662.4" stroke="#00A010"/><path d="M734.9 662.4 L684.4 650.6" stroke="#00F020"/><path d="M684.4 650.6 L637.5 640.6 L588.4 617.2" stroke="#00A010"/><path d="M588.4 617.2 L545.0 611.8 L519.9 606.5 L480.8 592.7 L451.3 594.0 L432.8 616.3" stroke="#00AAFF"/><path d="M432.8 616.3 L415.8 613.0" stroke="#F0D000"/><path d="M415.8 613.0 L397.6 599.2 L369.8 599.5 L361.3 588.9 L347.6 578.2 L334.2 552.3 L323.0 528.7 L313.6 508.3 L302.8 498.9 L298.2 474.3 L317.2 458.6" stroke="#00AAFF"/><path d="M317.2 458.6 L314.9 448.6 L322.2 428.4" stroke="#00A010"/><path d="M322.2 428.4 L335.3 413.1" stroke="#00F020"/><path d="M335.3 413.1 L328.5 400.4" stroke="#00A010"/><path d="M1038.4 733.1 L956.3 726.2 L906.3 710.2 L866.5 695.8 L832.9 690.4" stroke="#00A010"/><path d="M832.9 690.4 L797.4 676.1" stroke="#00F020"/><path d="M797.4 676.1 L748.2 648.4 L715.6 645.5 L688.7 640.9 L647.4 614.4 L610.6 611.4" stroke="#00A010"/><path d="M610.6 611.4 L569.3 590.4 L545.4 592.8 L519.4 595.9 L500.0 593.1 L465.2 580.9 L439.3 593.1 L432.0 589.7 L420.5 574.8 L413.1 569.6" stroke="#00AAFF"/><path d="M413.1 569.6 L395.3 568.1 L402.9 568.1 L381.2 577.1 L379.6 555.3 L370.7 545.4" stroke="#00A010"/><path d="M370.7 545.4 L368.7 532.3" stroke="#00F020"/><path d="M368.7 532.3 L349.8 517.7 L350.9 498.1 L351.0 496.9" stroke="#00A010"/><path d="M1038.4 733.1 L944.9 733.1 L889.9 725.1 L847.1 723.8 L799.3 709.6 L753.4 691.4 L709.7 686.6 L677.2 673.1" stroke="#00A010"/><path d="M677.2 673.1 L631.1 640.0 L587.1 638.5 L553.8 627.6" stroke="#00AAFF"/><path d="M553.8 627.6 L527.6 620.3 L499.8 611.3 L471.2 612.0" stroke="#F0D000"/><path d="M471.2 612.0 L447.2 611.6" stroke="#F0A000"/><path d="M447.2 611.6 L430.1 595.4 L417.6 607.9 L397.6 618.8 L369.0 619.5" stroke="#FF0000"/><path d="M369.0 619.5 L362.7 604.8" stroke="#F0A000"/><path d="M362.7 604.8 L352.1 580.5 L326.3 569.7" stroke="#F0D000"/><path d="M326.3 569.7 L304.7 551.4 L293.2 529.4" stroke="#00AAFF"/><path d="M293.2 529.4 L278.4 504.0 L267.9 482.9 L281.4 458.1" stroke="#00A010"/><path d="M1038.4 733.1 L942.5 728.6 L890.8 715.1 L848.1 697.9 L810.7 675.4 L757.6 647.8 L708.0 652.9 L676.9 633.7 L631.0 608.6 L582.8 604.9 L543.8 597.0" stroke="#00A010"/><path d="M543.8 597.0 L523.7 602.1" stroke="#00AAFF"/><path d="M523.7 602.1 L493.4 589.2 L454.6 573.3" stroke="#F0D000"/><path d="M454.6 573.3 L425.4 571.3" stroke="#F0A000"/><path d="M425.4 571.3 L414.8 579.5" stroke="#FF0000"/><path d="M414.8 579.5 L398.4 581.9 L397.8 570.4" stroke="#F0A000"/><path d="M397.8 570.4 L395.6 571.6 L368.8 573.0 L357.1 557.2" stroke="#F0D000"/><path d="M357.1 557.2 L339.4 547.6 L343.6 521.9 L340.9 499.3 L336.6 500.2" stroke="#00AAFF"/><path d="M336.6 500.2 L337.5 486.1 L344.5 473.1" stroke="#00A010"/><path d="M344.5 473.1 L335.6 470.1" stroke="#00F020"/><path d="M335.6 470.1 L338.2 445.1" stroke="#00A010"/><path d="M1038.4 733.1 L941.7 724.8 L883.1 724.5 L832.7 736.8 L776.0 725.1 L732.5 702.8 L690.1 703.2 L641.0 679.3 L594.6 651.1" stroke="#00A010"/><path d="M594.6 651.1 L558.9 636.0 L525.5 635.4 L499.3 631.4" stroke="#00AAFF"/><path d="M499.3 631.4 L469.1 614.4 L453.4 640.5 L437.7 662.6" stroke="#F0D000"/><path d="M437.7 662.6 L401.5 667.9 L376.9 670.3" stroke="#F0A000"/><path d="M376.9 670.3 L352.8 632.1 L334.7 615.3 L312.1 602.3" stroke="#F0D000"/><path d="M312.1 602.3 L308.1 577.1 L274.2 555.7 L260.7 525.8 L254.7 500.5 L254.4 475.9" stroke="#00AAFF"/><path d="M254.4 475.9 L266.4 446.4" stroke="#00F020"/><path d="M266.4 446.4 L274.9 425.9" stroke="#00A010"/><path d="M274.9 425.9 L267.0 420.1" stroke="#00F020"/><path d="M267.0 420.1 L291.9 402.6" stroke="#00A010"/><path d="M1038.4 733.1 L952.4 728.8 L901.7 700.0 L865.9 688.7 L824.8 676.4 L781.3 661.6 L736.7 644.0 L701.3 632.1 L670.1 621.1 L628.9 594.7 L587.5 584.9" stroke="#00A010"/><path d="M587.5 584.9 L553.1 572.7 L530.3 577.6 L504.6 569.5 L467.7 573.3 L438.3 578.0 L428.1 599.5 L421.8 591.8 L405.7 593.6 L395.6 593.1 L402.1 564.8 L390.6 557.0 L363.5 544.7" stroke="#00AAFF"/><path d="M363.5 544.7 L364.5 524.4 L334.1 508.5" stroke="#00A010"/><path d="M1038.4 733.1 L941.2 730.6 L887.6 727.0 L835.3 743.7 L783.5 728.1 L738.0 716.2 L693.1 707.5 L649.8 684.1 L611.7 667.7 L568.7 649.6 L531.7 655.4 L504.9 643.9" stroke="#00A010"/><path d="M504.9 643.9 L480.0 646.8 L459.2 636.8 L441.3 647.1 L422.6 656.6 L397.0 672.3 L372.4 664.9 L340.7 640.4 L315.0 625.8 L297.8 606.7 L286.3 579.3 L270.2 548.2 L257.0 524.0" stroke="#00AAFF"/><path d="M257.0 524.0 L256.0 497.7" stroke="#00A010"/><path d="M256.0 497.7 L258.6 473.7" stroke="#00F020"/><path d="M258.6 473.7 L264.6 444.9 L268.5 425.8 L273.4 420.6" stroke="#00A010"/><path d="M1038.4 733.1 L936.1 733.1 L885.8 716.5 L835.9 704.3 L794.6 667.2 L744.2 655.2 L695.7 650.8" stroke="#00A010"/><path d="M695.7 650.8 L652.3 625.9" stroke="#00F020"/><path d="M652.3 625.9 L597.8 624.8" stroke="#00A010"/><path d="M597.8 624.8 L557.1 606.4 L525.2 599.7 L496.2 597.7 L464.2 587.1 L441.3 604.4 L424.4 592.0 L412.1 593.0 L391.1 603.1 L382.9 581.2 L368.2 578.3 L345.8 564.4 L329.3 547.7 L321.1 519.1 L319.2 502.2 L319.9 497.7" stroke="#00AAFF"/><path d="M319.9 497.7 L322.1 473.3 L325.9 465.0 L327.8 450.6 L357.2 437.5 L376.7 427.1" stroke="#00A010"/><path d="M1038.4 733.1 L949.8 725.2 L896.4 715.8 L857.4 700.0 L824.3 682.3 L781.1 662.9 L735.3 646.7 L694.5 649.2 L660.4 636.1 L613.5 613.0 L571.2 617.5" stroke="#00A010"/><path d="M571.2 617.5 L541.4 596.2 L520.9 594.1 L494.3 587.7 L459.5 583.1 L435.0 563.5 L421.2 559.0 L414.7 560.1 L409.3 563.7 L394.0 584.2 L391.3 576.3 L378.8 563.1 L371.6 545.1" stroke="#00AAFF"/><path d="M371.6 545.1 L369.5 530.7 L348.8 516.0 L328.4 503.5 L327.1 500.4 L338.1 491.4 L327.7 470.3" stroke="#00A010"/><path d="M1038.4 733.1 L947.8 724.4 L890.9 700.3 L851.0 700.0 L812.9 679.5 L761.1 647.9 L718.9 642.8 L685.7 628.7 L631.6 614.5 L584.4 612.1 L547.6 611.8 L518.6 600.7" stroke="#00A010"/><path d="M518.6 600.7 L505.4 586.1" stroke="#00AAFF"/><path d="M505.4 586.1 L464.1 576.9 L440.4 594.5 L420.8 580.2 L415.7 581.9" stroke="#F0D000"/><path d="M415.7 581.9 L390.7 581.5 L394.5 578.8 L387.8 571.6 L382.8 555.6 L376.0 535.5 L362.7 525.3 L334.6 508.9 L320.8 500.2" stroke="#00AAFF"/><path d="M320.8 500.2 L348.5 499.7" stroke="#00F020"/><path d="M348.5 499.7 L342.3 476.7 L351.5 476.3 L347.7 463.5" stroke="#00A010"/><path d="M1038.4 733.1 L945.5 731.3 L885.4 723.3" stroke="#00A010"/><path d="M885.4 723.3 L836.4 723.3" stroke="#00F020"/><path d="M836.4 723.3 L790.9 706.8 L740.5 703.8 L697.7 694.1 L654.8 673.1 L617.7 645.1 L569.4 640.2" stroke="#00A010"/><path d="M569.4 640.2 L541.8 620.1 L504.8 628.7 L483.0 616.3" stroke="#00AAFF"/><path d="M483.0 616.3 L457.7 605.5 L439.7 622.3 L418.9 637.4 L396.5 651.5 L373.1 639.6" stroke="#F0D000"/><path d="M373.1 639.6 L352.9 618.4 L342.0 597.0 L322.8 587.5 L307.9 564.3 L293.4 532.4 L301.9 508.1 L303.9 498.5 L305.6 476.0" stroke="#00AAFF"/><path d="M305.6 476.0 L290.0 456.3 L291.6 440.0" stroke="#00A010"/><path d="M291.6 440.0 L308.7 427.9" stroke="#00F020"/><path d="M1038.4 733.1 L933.3 724.6 L871.3 722.2 L820.1 720.9 L766.7 689.3 L711.9 681.5 L659.1 677.5 L616.5 644.8" stroke="#00A010"/><path d="M616.5 644.8 L567.3 625.2 L526.4 624.7" stroke="#00AAFF"/><path d="M526.4 624.7 L501.1 598.6 L467.2 616.9 L439.7 613.0" stroke="#F0D000"/><path d="M439.7 613.0 L420.7 625.9 L401.6 622.6" stroke="#F0A000"/><path d="M401.6 622.6 L370.8 622.8 L334.3 622.1 L332.8 597.5 L325.2 568.8" stroke="#F0D000"/><path d="M325.2 568.8 L275.4 551.7 L262.9 523.2 L258.5 494.7 L267.4 466.9 L295.7 447.3 L303.3 435.1" stroke="#00AAFF"/><path d="M303.3 435.1 L301.4 413.8 L307.6 401.0 L310.9 389.1 L309.5 382.0" stroke="#00A010"/><path d="M1038.4 733.1 L942.0 733.5 L889.1 725.9 L840.2 720.1 L802.6 697.4 L752.8 676.6 L709.5 659.4 L670.5 646.8 L623.8 621.1 L585.5 611.6 L543.0 600.1 L514.6 588.2 L481.5 591.0 L457.8 597.0 L434.0 606.7 L419.0 586.2 L403.8 596.3 L397.5 599.3 L379.0 594.9 L363.1 582.7" stroke="#00A010"/><path d="M363.1 582.7 L355.2 552.7 L314.7 549.6 L312.7 518.8 L307.1 493.5 L288.8 475.2 L304.9 450.7" stroke="#00F020"/><path d="M1038.4 733.1 L955.0 733.4 L907.2 717.7" stroke="#00A010"/><path d="M907.2 717.7 L858.5 723.7" stroke="#00F020"/><path d="M858.5 723.7 L822.0 716.4 L776.8 706.9 L742.5 684.1 L699.0 679.9" stroke="#00A010"/><path d="M699.0 679.9 L663.5 667.7 L625.0 642.2 L585.9 645.0 L551.9 616.6 L532.5 621.8" stroke="#00AAFF"/><path d="M532.5 621.8 L504.1 617.6 L480.5 620.0 L459.5 626.0 L438.3 628.6 L430.7 659.2" stroke="#F0D000"/><path d="M430.7 659.2 L421.5 668.8 L416.3 651.6 L410.3 663.5 L393.6 659.6 L383.8 667.9 L380.3 686.5 L381.3 717.7 L349.3 706.3 L316.2 688.0 L337.1 660.5 L346.8 660.8" stroke="#00AAFF"/><path d="M329.4 320.8 L286.7 363.5" stroke="#00F020"/><path d="M286.7 363.5 L273.4 390.7 L284.1 422.8" stroke="#00A010"/><path d="M284.1 422.8 L292.1 438.8 L296.1 449.5 L302.7 465.5 L312.1 486.8 L321.4 502.8" stroke="#00AAFF"/><path d="M345.5 449.5 L360.1 430.8 L398.8 384.1 L430.9 380.1 L469.6 383.5 L514.9 400.9 L535.7 430.0" stroke="#00A010"/><path d="M375.3 352.0 L345.5 369.9 L325.4 372.6" stroke="#00F020"/><path d="M325.4 372.6 L322.2 384.1 L328.1 406.8 L333.4 420.1 L338.8 438.8" stroke="#00A010"/><path d="M386.0 393.9 L360.1 398.2 L340.1 404.1 L318.8 408.1 L317.4 425.4 L325.4 444.1" stroke="#00A010"/><path d="M338.8 438.8 L354.8 417.4 L368.1 408.1 L374.8 417.4 L360.1 412.1 L356.1 418.8 L344.1 414.8 L336.1 418.8" stroke="#00A010"/><path d="M248.8 400.6 L248.8 421.4 L266.7 421.4" stroke="#00F020"/><path d="M284.9 411.6 L266.7 418.8" stroke="#00A010"/><path d="M266.7 418.8 L260.0 418.8 L245.4 430.2" stroke="#00F020"/><path d="M245.4 430.2 L256.0 430.8 L234.7 436.1 L250.7 438.8 L257.4 430.8" stroke="#00A010"/><path d="M257.4 430.8 L238.7 486.8" stroke="#00F020"/><path d="M217.3 453.5 L225.4 489.5 L257.4 489.0" stroke="#00A010"/><path d="M410.8 436.1 L377.5 449.5 L370.8 464.1" stroke="#00F020"/><path d="M370.8 464.1 L400.2 467.6 L378.8 477.5 L373.5 473.5 L370.8 486.8 L376.0 505.0" stroke="#00AAFF"/><path d="M404.2 496.2 L392.2 496.2 L384.1 500.2 L378.8 510.8" stroke="#F0D000"/><path d="M370.6 510.7 L370.6 520.3" stroke="#FF0000"/><path d="M371.6 520.7 L379.3 528.4 L390.8 533.2 L394.7 540.0 L399.3 550.6" stroke="#F0D000"/><path d="M381.2 513.0 L399.5 513.0 L392.8 522.6 L381.2 513.0" stroke="#00A010"/><path d="M392.8 522.6 L406.2 532.3 L407.2 540.0" stroke="#00F020"/><path d="M297.6 532.3 L266.4 530.2 L204.2 533.3 L193.8 540.6 L162.6 550.9" stroke="#00A010"/><path d="M162.6 550.9 L127.4 572.7 L112.8 557.6" stroke="#00F020"/><path d="M158.5 571.7 L201.0 593.5" stroke="#00A010"/><path d="M201.0 593.5 L235.3 571.7 L266.4 580.0 L297.6 586.2" stroke="#00AAFF"/><path d="M185.5 590.0 L231.1 586.2" stroke="#00F020"/><path d="M231.1 586.2 L276.8 582.1" stroke="#00A010"/><path d="M262.6 627.7 L316.6 656.2" stroke="#00A010"/><path d="M323.4 655.7 L315.7 677.2" stroke="#00F020"/><path d="M216.6 522.9 L266.4 536.4 L297.6 553.0" stroke="#00A010"/><path d="M196.9 575.4 L274.7 600.3" stroke="#00A010"/><path d="M217.6 575.4 L304.8 589.3" stroke="#00A010"/><path d="M224.9 533.3 L274.7 565.5 L305.9 577.9" stroke="#00A010"/><path d="M231.1 555.1 L243.6 532.3 L297.6 561.3" stroke="#00A010"/><path d="M256.0 603.9 L283.0 586.2 L305.9 589.3" stroke="#00A010"/><path d="M214.5 534.3 L233.2 523.5 L249.8 523.5" stroke="#00F020"/><path d="M249.8 523.5 L284.1 523.5" stroke="#00A010"/><path d="M220.8 470.0 L224.9 488.7 L256.0 488.7" stroke="#00A010"/><path d="M244.6 470.0 L239.4 487.6" stroke="#00F020"/><path d="M222.0 474.0 L262.0 522.0" stroke="#00A010"/><path d="M235.0 470.0 L275.0 540.0" stroke="#00A010"/><path d="M250.0 480.0 L290.0 545.0" stroke="#00A010"/><path d="M380.0 559.3 L426.3 565.1 L441.7 561.2 L466.7 571.8 L480.2 571.8" stroke="#F0A000"/><path d="M480.2 571.8 L499.5 578.6 L534.2 592.0" stroke="#F0D000"/><path d="M399.3 550.6 L408.9 559.3 L428.2 565.1 L441.7 565.1 L464.8 574.7 L480.2 578.6" stroke="#F0A000"/><path d="M480.2 578.6 L495.7 579.5 L507.2 578.6" stroke="#FF0000"/><path d="M507.2 578.6 L530.3 588.2 L572.7 592.0 L592.0 601.7" stroke="#F0D000"/><path d="M418.6 590.1 L437.8 585.9" stroke="#F0A000"/><path d="M437.8 585.9 L459.0 582.4" stroke="#FF0000"/><path d="M480.2 571.8 L499.5 578.6 L518.8 575.7 L541.9 575.7 L568.9 586.3 L601.7 605.5 L640.0 615.2" stroke="#00AAFF"/><path d="M449.4 638.9 L466.7 638.9" stroke="#730000"/><path d="M406.0 540.0 L405.1 555.4 L409.9 562.2 L401.2 578.6 L380.0 590.1" stroke="#00F020"/><path d="M1038.4 733.1 L1027.0 676.5" stroke="#00A010"/><path d="M1027.0 676.5 L925.3 694.3" stroke="#00F020"/><path d="M925.3 694.3 L887.9 699.5 L850.0 705.0" stroke="#00A010"/><path d="M872.4 688.1 L883.8 686.4 L883.8 696.8" stroke="#00F020"/><path d="M846.0 658.4 L849.5 684.3" stroke="#00F020"/><path d="M792.5 730.0 L828.8 746.2" stroke="#00A010"/><path d="M828.8 746.2 L887.9 736.2" stroke="#00F020"/><path d="M827.7 732.1 L834.0 737.3" stroke="#00AAFF"/><path d="M912.8 711.3 L923.2 708.2" stroke="#00AAFF"/><path d="M460.0 648.9 L446.7 649.9 L419.7 670.1 L407.2 659.5 L392.8 673.0 L396.6 686.5 L385.0 700.0" stroke="#00AAFF"/><path d="M392.8 673.0 L367.7 666.3 L350.3 663.4 L361.0 700.0" stroke="#00AAFF"/><path d="M400.0 667.6 L392.8 672.8 L395.4 685.8 L378.5 705.3 L360.3 697.5 L355.0 680.0 L348.6 665.0 L333.0 655.7 L322.0 640.0" stroke="#00AAFF"/><path d="M420.5 670.1 L408.9 661.4 L399.3 655.7 L380.0 648.0 L362.0 640.0 L350.0 628.0" stroke="#00AAFF"/><path d="M440.0 655.0 L425.0 662.0 L405.0 690.0 L388.0 678.0 L372.0 690.0 L352.0 668.0 L338.0 672.0 L330.0 650.0" stroke="#00AAFF"/><path d="M706.6 634.6 L756.4 649.7" stroke="#00AAFF"/><path d="M711.3 645.7 L737.9 657.1 L749.9 663.0" stroke="#00AAFF"/><path d="M665.6 621.0 L643.4 607.0 L634.1 603.4 L601.0 603.0" stroke="#00AAFF"/><path d="M551.5 648.9 L563.1 662.4" stroke="#00A010"/><path d="M563.1 662.4 L601.7 666.3" stroke="#00AAFF"/><path d="M601.7 666.3 L640.0 672.0 L668.0 690.0" stroke="#00A010"/></g>
<text transform="translate(819.40 697.20) scale(1.1944 1)" font-size="21.25" fill="#000" x="1.10 14.25 25.35 36.42" y="0">+24h</text>
<text transform="translate(641.50 642.30) scale(1.1944 1)" font-size="21.25" fill="#000" x="1.10 14.25 25.35 36.42" y="0">+48h</text>
<text transform="translate(510.10 614.20) scale(1.1944 1)" font-size="21.25" fill="#000" x="1.10 14.25 25.35 36.42" y="0">+72h</text>
<text transform="translate(428.20 621.90) scale(1.1944 1)" font-size="21.25" fill="#000" x="1.10 14.25 25.35 36.42" y="0">+96h</text>
<text transform="translate(360.00 586.30) scale(1.1800 1)" font-size="21.25" fill="#000" x="1.19 14.50 25.73 36.96 48.17" y="0">+120h</text>
<text transform="translate(313.70 507.20) scale(1.1800 1)" font-size="21.25" fill="#000" x="1.19 14.50 25.73 36.96 48.17" y="0">+144h</text>
<text transform="translate(328.30 446.50) scale(1.1800 1)" font-size="21.25" fill="#000" x="1.19 14.50 25.73 36.96 48.17" y="0">+168h</text>
<path d="M1038.4 733.1 L944.0 729.0 L890.0 717.6 L846.4 715.1 L804.5 698.3 L754.6 679.3 L712.0 672.9 L671.2 660.8 L626.5 642.3 L583.0 634.6 L543.8 623.8 L518.8 621.0 L494.7 614.2 L466.7 613.2 L443.6 619.0 L430.1 621.9 L410.3 621.9 L392.2 621.0 L371.6 614.2 L358.1 599.8 L344.6 586.3 L331.1 568.9 L315.7 549.6 L311.3 540.0 L304.1 518.8 L298.7 506.3 L299.3 495.7 L301.2 470.6 L304.1 455.2 L307.0 450.4 L312.8 447.1" fill="none" stroke="#000" stroke-width="4.2" stroke-linejoin="round"/>
<rect x="799.1" y="692.9" width="10.8" height="10.8" fill="#000"/>
<rect x="621.1" y="636.9" width="10.8" height="10.8" fill="#000"/>
<rect x="489.3" y="608.8" width="10.8" height="10.8" fill="#000"/>
<rect x="404.9" y="616.5" width="10.8" height="10.8" fill="#000"/>
<rect x="339.2" y="580.9" width="10.8" height="10.8" fill="#000"/>
<rect x="293.3" y="500.9" width="10.8" height="10.8" fill="#000"/>
<rect x="307.4" y="441.7" width="10.8" height="10.8" fill="#000"/>
<path d="M1032.1 726.8 L1044.7 739.4 M1032.1 739.4 L1044.7 726.8" stroke="#000" stroke-width="1.8" fill="none"/>
</g>
<rect x="52.4" y="57.4" width="1125.2" height="989.8" fill="none" stroke="#000" stroke-width="1.2"/>
<text transform="translate(52.50 25.60) scale(1.0824 1)" font-size="21.25" fill="#000" stroke="#000" stroke-width="0.10" x="-0.97 10.54 24.87 38.72 55.80 69.13 80.80 91.11 103.42 121.79 134.10 139.12 156.06 167.69 179.53 186.80 198.36 208.92 220.39 231.51 245.12 252.01 264.22 275.69 296.00 308.16 319.51 325.33 337.08 349.39 354.38 364.94 377.03 387.18 401.92 412.87 423.77 428.75 440.70 452.69 469.97 481.32 487.36 499.11 509.94 527.12 533.83 550.93 563.08 574.38 579.90 598.27 610.75 635.25 647.18 654.68 673.18 678.38 690.54 703.34 710.05 726.96 740.31 751.99 763.11 769.80 781.89 787.09 799.07 811.07 828.62 848.23 853.22 865.39 882.49 895.85 907.85 919.65 931.65 943.85" y="0">FNV3EnsembleForecast[92W]TropicalCycloneTrack(Maximum1-minuteSustainedWindSpeed)</text>
<text transform="translate(52.50 48.80) scale(1.1319 1)" font-size="21.25" fill="#000" stroke="#000" stroke-width="0.10" x="-0.26 5.27 17.14 22.66 29.37 33.96 45.64 56.97 63.68 68.62 86.08 97.73 103.66 115.28 126.90 138.52 149.99 156.73 168.35 179.82 186.56 198.18 209.65 216.39 228.01 239.49" y="0">Initialtime:2025-11-23-18Z</text>
<text transform="translate(1004.50 47.60) scale(1.1743 1)" font-size="15.59" fill="#000" x="0.36 5.10 8.25 16.30 24.62 28.90 32.05 40.71 45.76 51.31 61.63 66.10 74.32 82.54 90.87 94.87 103.20 107.20 115.53 119.52 128.32" y="0">[lon,lat]=[130.4,8.6]</text>
<text transform="translate(131.78 1064.80) scale(1.0462 1)" font-size="14.17" fill="#000" x="0.11 8.22 16.33 24.68 30.00" y="0">105°E</text>
<text transform="translate(306.17 1064.80) scale(1.0754 1)" font-size="14.17" fill="#000" x="0.00 7.89 15.78 23.93 29.06" y="0">110°E</text>
<text transform="translate(480.56 1064.80) scale(1.0754 1)" font-size="14.17" fill="#000" x="0.00 7.89 15.78 23.93 29.06" y="0">115°E</text>
<text transform="translate(654.95 1064.80) scale(1.0462 1)" font-size="14.17" fill="#000" x="0.11 8.22 16.33 24.68 30.00" y="0">120°E</text>
<text transform="translate(829.34 1064.80) scale(1.0462 1)" font-size="14.17" fill="#000" x="0.11 8.22 16.33 24.68 30.00" y="0">125°E</text>
<text transform="translate(1003.73 1064.80) scale(1.0462 1)" font-size="14.17" fill="#000" x="0.11 8.22 16.33 24.68 30.00" y="0">130°E</text>
<text transform="translate(29.19 1037.20) scale(1.1302 1)" font-size="14.17" fill="#000" x="-0.15 7.73" y="0">0°</text>
<text transform="translate(19.11 862.85) scale(1.0677 1)" font-size="14.17" fill="#000" x="0.07 8.35 13.94" y="0">5°N</text>
<text transform="translate(10.54 688.50) scale(1.0728 1)" font-size="14.17" fill="#000" x="0.06 8.05 16.29 21.84" y="0">10°N</text>
<text transform="translate(10.54 514.15) scale(1.0728 1)" font-size="14.17" fill="#000" x="0.06 8.05 16.29 21.84" y="0">15°N</text>
<text transform="translate(10.54 339.80) scale(1.0728 1)" font-size="14.17" fill="#000" x="0.06 8.05 16.29 21.84" y="0">20°N</text>
<text transform="translate(10.54 165.45) scale(1.0728 1)" font-size="14.17" fill="#000" x="0.06 8.05 16.29 21.84" y="0">25°N</text>
<text transform="translate(1190.80 68.10) scale(1.2089 1)" font-size="13.61" fill="#00AAFF" x="-0.55 10.11 17.65 29.09 36.51 44.12 48.81 56.48 60.36 67.92 75.51 82.79" y="0">Member1:61kt</text>
<text transform="translate(1190.80 83.49) scale(1.2089 1)" font-size="13.61" fill="#00AAFF" x="-0.55 10.11 17.65 29.09 36.51 44.12 48.81 56.48 60.36 67.92 75.51 82.79" y="0">Member2:47kt</text>
<text transform="translate(1190.80 98.88) scale(1.2089 1)" font-size="13.61" fill="#00AAFF" x="-0.55 10.11 17.65 29.09 36.51 44.12 48.81 56.48 60.36 67.92 75.51 82.79" y="0">Member3:61kt</text>
<text transform="translate(1190.80 114.28) scale(1.2086 1)" font-size="13.61" fill="#FF0000" x="-0.55 10.11 17.66 29.09 36.51 44.13 48.82 56.49 60.38 67.93 75.48 83.08 90.36" y="0">Member4:109kt</text>
<text transform="translate(1190.80 129.67) scale(1.2089 1)" font-size="13.61" fill="#00AAFF" x="-0.55 10.11 17.65 29.09 36.51 44.12 48.81 56.48 60.36 67.92 75.51 82.79" y="0">Member5:63kt</text>
<text transform="translate(1190.80 145.06) scale(1.2089 1)" font-size="13.61" fill="#F0A000" x="-0.55 10.11 17.65 29.09 36.51 44.12 48.81 56.48 60.36 67.92 75.51 82.79" y="0">Member6:88kt</text>
<text transform="translate(1190.80 160.45) scale(1.2089 1)" font-size="13.61" fill="#FF0000" x="-0.55 10.11 17.65 29.09 36.51 44.12 48.81 56.48 60.36 67.92 75.51 82.79" y="0">Member7:99kt</text>
<text transform="translate(1190.80 175.84) scale(1.2089 1)" font-size="13.61" fill="#F0D000" x="-0.55 10.11 17.65 29.09 36.51 44.12 48.81 56.48 60.36 67.92 75.51 82.79" y="0">Member8:67kt</text>
<text transform="translate(1190.80 191.24) scale(1.2089 1)" font-size="13.61" fill="#00A010" x="-0.55 10.11 17.65 29.09 36.51 44.12 48.81 56.48 60.36 67.92 75.51 82.79" y="0">Member9:19kt</text>
<text transform="translate(1190.80 206.63) scale(1.2086 1)" font-size="13.61" fill="#F0D000" x="-0.55 10.11 17.66 29.09 36.51 44.13 48.82 56.38 64.05 67.93 75.48 83.08 90.36" y="0">Member10:76kt</text>
<text transform="translate(1190.80 222.02) scale(1.2217 1)" font-size="13.61" fill="#F0A000" x="-0.60 9.96 17.41 28.74 36.08 43.63 48.26 55.73 63.34 67.16 74.64 82.16 89.37" y="0">Member11:94kt</text>
<text transform="translate(1190.80 237.41) scale(1.2086 1)" font-size="13.61" fill="#F0D000" x="-0.55 10.11 17.66 29.09 36.51 44.13 48.82 56.38 64.05 67.93 75.48 83.08 90.36" y="0">Member12:70kt</text>
<text transform="translate(1190.80 252.80) scale(1.2086 1)" font-size="13.61" fill="#00AAFF" x="-0.55 10.11 17.66 29.09 36.51 44.13 48.82 56.38 64.05 67.93 75.48 83.08 90.36" y="0">Member13:53kt</text>
<text transform="translate(1190.80 268.20) scale(1.2086 1)" font-size="13.61" fill="#F0D000" x="-0.55 10.11 17.66 29.09 36.51 44.13 48.82 56.38 64.05 67.93 75.48 83.08 90.36" y="0">Member14:66kt</text>
<text transform="translate(1190.80 283.59) scale(1.2086 1)" font-size="13.61" fill="#F0D000" x="-0.55 10.11 17.66 29.09 36.51 44.13 48.82 56.38 64.05 67.93 75.48 83.08 90.36" y="0">Member15:78kt</text>
<text transform="translate(1190.80 298.98) scale(1.2086 1)" font-size="13.61" fill="#F0D000" x="-0.55 10.11 17.66 29.09 36.51 44.13 48.82 56.38 64.05 67.93 75.48 83.08 90.36" y="0">Member16:73kt</text>
<text transform="translate(1190.80 314.37) scale(1.2086 1)" font-size="13.61" fill="#FF0000" x="-0.55 10.11 17.66 29.09 36.51 44.13 48.82 56.38 64.05 67.93 75.48 83.08 90.36" y="0">Member17:99kt</text>
<text transform="translate(1190.80 329.76) scale(1.2086 1)" font-size="13.61" fill="#FF0000" x="-0.55 10.11 17.66 29.09 36.51 44.13 48.82 56.38 64.05 67.93 75.48 83.08 90.36" y="0">Member18:97kt</text>
<text transform="translate(1190.80 345.16) scale(1.2086 1)" font-size="13.61" fill="#F0D000" x="-0.55 10.11 17.66 29.09 36.51 44.13 48.82 56.38 64.05 67.93 75.48 83.08 90.36" y="0">Member19:66kt</text>
<text transform="translate(1190.80 360.55) scale(1.2086 1)" font-size="13.61" fill="#F0D000" x="-0.55 10.11 17.66 29.09 36.51 44.13 48.82 56.38 64.05 67.93 75.48 83.08 90.36" y="0">Member20:76kt</text>
<text transform="translate(1190.80 375.94) scale(1.2084 1)" font-size="13.61" fill="#FF0000" x="-0.55 10.11 17.66 29.10 36.52 44.13 48.83 56.39 64.06 67.94 75.50 83.05 90.65 97.93" y="0">Member21:104kt</text>
<text transform="translate(1190.80 391.33) scale(1.2086 1)" font-size="13.61" fill="#00A010" x="-0.55 10.11 17.66 29.09 36.51 44.13 48.82 56.38 64.05 67.93 75.48 83.08 90.36" y="0">Member22:22kt</text>
<text transform="translate(1190.80 406.72) scale(1.2086 1)" font-size="13.61" fill="#F0D000" x="-0.55 10.11 17.66 29.09 36.51 44.13 48.82 56.38 64.05 67.93 75.48 83.08 90.36" y="0">Member23:79kt</text>
<text transform="translate(1190.80 422.12) scale(1.2086 1)" font-size="13.61" fill="#FF0000" x="-0.55 10.11 17.66 29.09 36.51 44.13 48.82 56.38 64.05 67.93 75.48 83.08 90.36" y="0">Member24:96kt</text>
<text transform="translate(1190.80 437.51) scale(1.2086 1)" font-size="13.61" fill="#F0D000" x="-0.55 10.11 17.66 29.09 36.51 44.13 48.82 56.38 64.05 67.93 75.48 83.08 90.36" y="0">Member25:73kt</text>
<text transform="translate(1190.80 452.90) scale(1.2086 1)" font-size="13.61" fill="#00AAFF" x="-0.55 10.11 17.66 29.09 36.51 44.13 48.82 56.38 64.05 67.93 75.48 83.08 90.36" y="0">Member26:52kt</text>
<text transform="translate(1190.80 468.29) scale(1.2086 1)" font-size="13.61" fill="#F0D000" x="-0.55 10.11 17.66 29.09 36.51 44.13 48.82 56.38 64.05 67.93 75.48 83.08 90.36" y="0">Member27:64kt</text>
<text transform="translate(1190.80 483.68) scale(1.2086 1)" font-size="13.61" fill="#00A010" x="-0.55 10.11 17.66 29.09 36.51 44.13 48.82 56.38 64.05 67.93 75.48 83.08 90.36" y="0">Member28:23kt</text>
<text transform="translate(1190.80 499.08) scale(1.2086 1)" font-size="13.61" fill="#F0D000" x="-0.55 10.11 17.66 29.09 36.51 44.13 48.82 56.38 64.05 67.93 75.48 83.08 90.36" y="0">Member29:66kt</text>
<text transform="translate(1190.80 514.47) scale(1.2086 1)" font-size="13.61" fill="#F0D000" x="-0.55 10.11 17.66 29.09 36.51 44.13 48.82 56.38 64.05 67.93 75.48 83.08 90.36" y="0">Member30:80kt</text>
<text transform="translate(1190.80 529.86) scale(1.2086 1)" font-size="13.61" fill="#F0A000" x="-0.55 10.11 17.66 29.09 36.51 44.13 48.82 56.38 64.05 67.93 75.48 83.08 90.36" y="0">Member31:95kt</text>
<text transform="translate(1190.80 545.25) scale(1.2205 1)" font-size="13.61" fill="#FF0000" x="-0.60 9.97 17.43 28.77 36.12 43.67 48.31 55.79 63.41 67.23 74.71 82.19 89.72 96.94" y="0">Member32:112kt</text>
<text transform="translate(1190.80 560.64) scale(1.2086 1)" font-size="13.61" fill="#00AAFF" x="-0.55 10.11 17.66 29.09 36.51 44.13 48.82 56.38 64.05 67.93 75.48 83.08 90.36" y="0">Member33:62kt</text>
<text transform="translate(1190.80 576.04) scale(1.2086 1)" font-size="13.61" fill="#F0D000" x="-0.55 10.11 17.66 29.09 36.51 44.13 48.82 56.38 64.05 67.93 75.48 83.08 90.36" y="0">Member34:66kt</text>
<text transform="translate(1190.80 591.43) scale(1.2205 1)" font-size="13.61" fill="#730000" x="-0.60 9.97 17.43 28.77 36.12 43.67 48.31 55.79 63.41 67.23 74.71 82.19 89.72 96.94" y="0">Member35:113kt</text>
<text transform="translate(1190.80 606.82) scale(1.2086 1)" font-size="13.61" fill="#F0D000" x="-0.55 10.11 17.66 29.09 36.51 44.13 48.82 56.38 64.05 67.93 75.48 83.08 90.36" y="0">Member36:65kt</text>
<text transform="translate(1190.80 622.21) scale(1.2086 1)" font-size="13.61" fill="#F0D000" x="-0.55 10.11 17.66 29.09 36.51 44.13 48.82 56.38 64.05 67.93 75.48 83.08 90.36" y="0">Member37:66kt</text>
<text transform="translate(1190.80 637.60) scale(1.2086 1)" font-size="13.61" fill="#00AAFF" x="-0.55 10.11 17.66 29.09 36.51 44.13 48.82 56.38 64.05 67.93 75.48 83.08 90.36" y="0">Member38:45kt</text>
<text transform="translate(1190.80 653.00) scale(1.2084 1)" font-size="13.61" fill="#FF0000" x="-0.55 10.11 17.66 29.10 36.52 44.13 48.83 56.39 64.06 67.94 75.50 83.05 90.65 97.93" y="0">Member39:109kt</text>
<text transform="translate(1190.80 668.39) scale(1.2084 1)" font-size="13.61" fill="#FF0000" x="-0.55 10.11 17.66 29.10 36.52 44.13 48.83 56.39 64.06 67.94 75.50 83.05 90.65 97.93" y="0">Member40:101kt</text>
<text transform="translate(1190.80 683.78) scale(1.2086 1)" font-size="13.61" fill="#F0A000" x="-0.55 10.11 17.66 29.09 36.51 44.13 48.82 56.38 64.05 67.93 75.48 83.08 90.36" y="0">Member41:88kt</text>
<text transform="translate(1190.80 699.17) scale(1.2086 1)" font-size="13.61" fill="#00AAFF" x="-0.55 10.11 17.66 29.09 36.51 44.13 48.82 56.38 64.05 67.93 75.48 83.08 90.36" y="0">Member42:51kt</text>
<text transform="translate(1190.80 714.56) scale(1.2086 1)" font-size="13.61" fill="#00AAFF" x="-0.55 10.11 17.66 29.09 36.51 44.13 48.82 56.38 64.05 67.93 75.48 83.08 90.36" y="0">Member43:58kt</text>
<text transform="translate(1190.80 729.96) scale(1.2086 1)" font-size="13.61" fill="#00AAFF" x="-0.55 10.11 17.66 29.09 36.51 44.13 48.82 56.38 64.05 67.93 75.48 83.08 90.36" y="0">Member44:60kt</text>
<text transform="translate(1190.80 745.35) scale(1.2086 1)" font-size="13.61" fill="#00AAFF" x="-0.55 10.11 17.66 29.09 36.51 44.13 48.82 56.38 64.05 67.93 75.48 83.08 90.36" y="0">Member45:61kt</text>
<text transform="translate(1190.80 760.74) scale(1.2086 1)" font-size="13.61" fill="#F0D000" x="-0.55 10.11 17.66 29.09 36.51 44.13 48.82 56.38 64.05 67.93 75.48 83.08 90.36" y="0">Member46:73kt</text>
<text transform="translate(1190.80 776.13) scale(1.2086 1)" font-size="13.61" fill="#F0D000" x="-0.55 10.11 17.66 29.09 36.51 44.13 48.82 56.38 64.05 67.93 75.48 83.08 90.36" y="0">Member47:77kt</text>
<text transform="translate(1190.80 791.52) scale(1.2086 1)" font-size="13.61" fill="#F0A000" x="-0.55 10.11 17.66 29.09 36.51 44.13 48.82 56.38 64.05 67.93 75.48 83.08 90.36" y="0">Member48:91kt</text>
<text transform="translate(1190.80 806.92) scale(1.2086 1)" font-size="13.61" fill="#00A010" x="-0.55 10.11 17.66 29.09 36.51 44.13 48.82 56.38 64.05 67.93 75.48 83.08 90.36" y="0">Member49:19kt</text>
<text transform="translate(1190.80 822.31) scale(1.2086 1)" font-size="13.61" fill="#F0D000" x="-0.55 10.11 17.66 29.09 36.51 44.13 48.82 56.38 64.05 67.93 75.48 83.08 90.36" y="0">Member50:76kt</text>
<text transform="translate(1190.80 837.70) scale(1.1694 1)" font-size="13.61" fill="#F0D000" x="-0.66 7.86 15.32 25.45 36.40 43.93 51.58 59.43 63.51 71.31 79.15 86.62" y="0">EnsMean:67kt</text>
<rect x="1190.6" y="854.3" width="149" height="193.2" rx="3" ry="3" fill="#fff" fill-opacity="0.8" stroke="#cccccc" stroke-width="1.1"/>
<rect x="1194.9" y="861.0" width="28.2" height="9.9" fill="#F060F0"/>
<text transform="translate(1234.30 870.70) scale(1.0970 1)" font-size="14.17" fill="#000" x="-0.73 8.68 16.96 21.32 29.17 37.00 45.00 50.12 61.42" y="0">Category5</text>
<rect x="1194.9" y="882.0" width="28.2" height="9.9" fill="#730000"/>
<text transform="translate(1234.30 891.72) scale(1.0970 1)" font-size="14.17" fill="#000" x="-0.73 8.68 16.96 21.32 29.17 37.00 45.00 50.12 61.42" y="0">Category4</text>
<rect x="1194.9" y="903.0" width="28.2" height="9.9" fill="#FF0000"/>
<text transform="translate(1234.30 912.74) scale(1.0970 1)" font-size="14.17" fill="#000" x="-0.73 8.68 16.96 21.32 29.17 37.00 45.00 50.12 61.42" y="0">Category3</text>
<rect x="1194.9" y="924.1" width="28.2" height="9.9" fill="#F0A000"/>
<text transform="translate(1234.30 933.76) scale(1.0970 1)" font-size="14.17" fill="#000" x="-0.73 8.68 16.96 21.32 29.17 37.00 45.00 50.12 61.42" y="0">Category2</text>
<rect x="1194.9" y="945.1" width="28.2" height="9.9" fill="#F0D000"/>
<text transform="translate(1234.30 954.78) scale(1.0970 1)" font-size="14.17" fill="#000" x="-0.73 8.68 16.96 21.32 29.17 37.00 45.00 50.12 61.42" y="0">Category1</text>
<rect x="1194.9" y="966.1" width="28.2" height="9.9" fill="#00AAFF"/>
<text transform="translate(1234.30 975.80) scale(1.0728 1)" font-size="14.17" fill="#000" x="-0.40 7.18 11.09 18.95 27.18 30.52 37.59 45.68 52.47 61.82 66.30 74.45 79.69" y="0">TropicalStorm</text>
<rect x="1194.9" y="987.1" width="28.2" height="9.9" fill="#00A010"/>
<text transform="translate(1234.30 996.82) scale(1.0748 1)" font-size="14.17" fill="#000" x="-0.18 9.88 17.89 26.17 31.03 38.57 45.25 52.34 55.68 63.66" y="0">Depression</text>
<rect x="1194.9" y="1008.1" width="28.2" height="9.9" fill="#00F020"/>
<text transform="translate(1234.30 1017.84) scale(1.1031 1)" font-size="14.17" fill="#000" x="-0.31 9.78 12.80 20.08 24.51 32.62 37.57 45.36 53.15 60.94 67.82" y="0">Disturbance</text>
<rect x="1194.9" y="1029.2" width="28.2" height="9.9" fill="#000"/>
<text transform="translate(1234.30 1038.86) scale(1.0385 1)" font-size="14.17" fill="#000" x="-0.53 8.65 16.71 27.74 39.51 47.66 55.93" y="0">EnsMean</text>
<text transform="translate(1005.60 1027.90) scale(1.0839 1)" font-size="17.00" fill="#000" stroke="#000" stroke-width="0.05" x="0.02 12.34 24.67 36.31 40.05 48.48 62.79 71.07 80.45 85.50 90.56 100.11" y="0">www.smca.fun</text>
</svg></body></html>
